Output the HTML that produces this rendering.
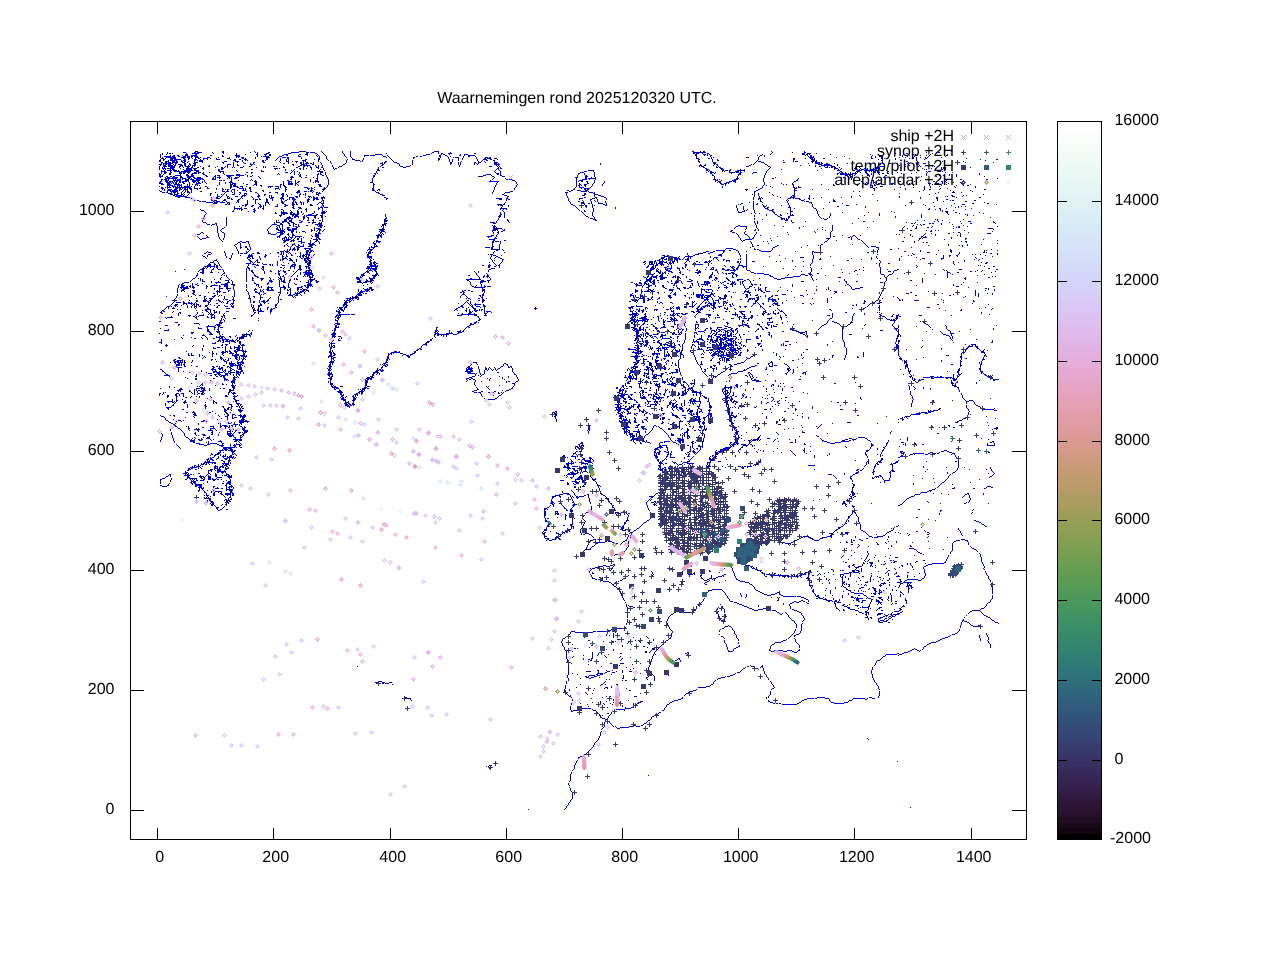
<!DOCTYPE html>
<html lang="nl"><head><meta charset="utf-8"><title>Waarnemingen rond 2025120320 UTC.</title>
<style>html,body{margin:0;padding:0;background:#fff}svg{display:block;will-change:transform}text{text-rendering:geometricPrecision}</style></head><body>
<svg width="1280" height="960" viewBox="0 0 1280 960">
<rect width="1280" height="960" fill="#fff"/>
<g shape-rendering="crispEdges">
<rect x="1057" y="833.39" width="45" height="6.21" fill="#000000"/>
<rect x="1057" y="827.78" width="45" height="6.21" fill="#11060f"/>
<rect x="1057" y="822.17" width="45" height="6.21" fill="#1a0919"/>
<rect x="1057" y="816.56" width="45" height="6.21" fill="#210d22"/>
<rect x="1057" y="810.95" width="45" height="6.21" fill="#26102a"/>
<rect x="1057" y="805.34" width="45" height="6.21" fill="#2b1332"/>
<rect x="1057" y="799.73" width="45" height="6.21" fill="#2e1639"/>
<rect x="1057" y="794.12" width="45" height="6.21" fill="#311a40"/>
<rect x="1057" y="788.52" width="45" height="6.21" fill="#331d47"/>
<rect x="1057" y="782.91" width="45" height="6.21" fill="#35214d"/>
<rect x="1057" y="777.30" width="45" height="6.21" fill="#362453"/>
<rect x="1057" y="771.69" width="45" height="6.21" fill="#372858"/>
<rect x="1057" y="766.08" width="45" height="6.21" fill="#382c5e"/>
<rect x="1057" y="760.47" width="45" height="6.21" fill="#383063"/>
<rect x="1057" y="754.86" width="45" height="6.21" fill="#383467"/>
<rect x="1057" y="749.25" width="45" height="6.21" fill="#37386b"/>
<rect x="1057" y="743.64" width="45" height="6.21" fill="#373c6f"/>
<rect x="1057" y="738.03" width="45" height="6.21" fill="#364072"/>
<rect x="1057" y="732.42" width="45" height="6.21" fill="#354575"/>
<rect x="1057" y="726.81" width="45" height="6.21" fill="#344977"/>
<rect x="1057" y="721.20" width="45" height="6.21" fill="#334d79"/>
<rect x="1057" y="715.59" width="45" height="6.21" fill="#32527b"/>
<rect x="1057" y="709.98" width="45" height="6.21" fill="#31567c"/>
<rect x="1057" y="704.38" width="45" height="6.21" fill="#305b7d"/>
<rect x="1057" y="698.77" width="45" height="6.21" fill="#2f5f7d"/>
<rect x="1057" y="693.16" width="45" height="6.21" fill="#2f637d"/>
<rect x="1057" y="687.55" width="45" height="6.21" fill="#2e677d"/>
<rect x="1057" y="681.94" width="45" height="6.21" fill="#2e6c7c"/>
<rect x="1057" y="676.33" width="45" height="6.21" fill="#2e707b"/>
<rect x="1057" y="670.72" width="45" height="6.21" fill="#2e747a"/>
<rect x="1057" y="665.11" width="45" height="6.21" fill="#2e7778"/>
<rect x="1057" y="659.50" width="45" height="6.21" fill="#2f7b76"/>
<rect x="1057" y="653.89" width="45" height="6.21" fill="#307e74"/>
<rect x="1057" y="648.28" width="45" height="6.21" fill="#318272"/>
<rect x="1057" y="642.67" width="45" height="6.21" fill="#338570"/>
<rect x="1057" y="637.06" width="45" height="6.21" fill="#34886d"/>
<rect x="1057" y="631.45" width="45" height="6.21" fill="#378b6b"/>
<rect x="1057" y="625.84" width="45" height="6.21" fill="#398d68"/>
<rect x="1057" y="620.23" width="45" height="6.21" fill="#3c9066"/>
<rect x="1057" y="614.62" width="45" height="6.21" fill="#3f9263"/>
<rect x="1057" y="609.02" width="45" height="6.21" fill="#439461"/>
<rect x="1057" y="603.41" width="45" height="6.21" fill="#46965e"/>
<rect x="1057" y="597.80" width="45" height="6.21" fill="#4a985c"/>
<rect x="1057" y="592.19" width="45" height="6.21" fill="#4f995a"/>
<rect x="1057" y="586.58" width="45" height="6.21" fill="#539a58"/>
<rect x="1057" y="580.97" width="45" height="6.21" fill="#589c56"/>
<rect x="1057" y="575.36" width="45" height="6.21" fill="#5d9c55"/>
<rect x="1057" y="569.75" width="45" height="6.21" fill="#629d53"/>
<rect x="1057" y="564.14" width="45" height="6.21" fill="#689e52"/>
<rect x="1057" y="558.53" width="45" height="6.21" fill="#6d9e52"/>
<rect x="1057" y="552.92" width="45" height="6.21" fill="#739e51"/>
<rect x="1057" y="547.31" width="45" height="6.21" fill="#799f51"/>
<rect x="1057" y="541.70" width="45" height="6.21" fill="#7f9f52"/>
<rect x="1057" y="536.09" width="45" height="6.21" fill="#859e52"/>
<rect x="1057" y="530.48" width="45" height="6.21" fill="#8b9e53"/>
<rect x="1057" y="524.88" width="45" height="6.21" fill="#919e55"/>
<rect x="1057" y="519.27" width="45" height="6.21" fill="#979e56"/>
<rect x="1057" y="513.66" width="45" height="6.21" fill="#9c9d59"/>
<rect x="1057" y="508.05" width="45" height="6.21" fill="#a29d5b"/>
<rect x="1057" y="502.44" width="45" height="6.21" fill="#a89d5e"/>
<rect x="1057" y="496.83" width="45" height="6.21" fill="#ad9c61"/>
<rect x="1057" y="491.22" width="45" height="6.21" fill="#b39c64"/>
<rect x="1057" y="485.61" width="45" height="6.21" fill="#b89b68"/>
<rect x="1057" y="480.00" width="45" height="6.21" fill="#bd9b6c"/>
<rect x="1057" y="474.39" width="45" height="6.21" fill="#c19b70"/>
<rect x="1057" y="468.78" width="45" height="6.21" fill="#c69a74"/>
<rect x="1057" y="463.17" width="45" height="6.21" fill="#ca9a79"/>
<rect x="1057" y="457.56" width="45" height="6.21" fill="#ce9a7e"/>
<rect x="1057" y="451.95" width="45" height="6.21" fill="#d29a83"/>
<rect x="1057" y="446.34" width="45" height="6.21" fill="#d59a88"/>
<rect x="1057" y="440.73" width="45" height="6.21" fill="#d89a8e"/>
<rect x="1057" y="435.12" width="45" height="6.21" fill="#db9b93"/>
<rect x="1057" y="429.52" width="45" height="6.21" fill="#dd9b99"/>
<rect x="1057" y="423.91" width="45" height="6.21" fill="#df9c9e"/>
<rect x="1057" y="418.30" width="45" height="6.21" fill="#e19ca4"/>
<rect x="1057" y="412.69" width="45" height="6.21" fill="#e39da9"/>
<rect x="1057" y="407.08" width="45" height="6.21" fill="#e49eaf"/>
<rect x="1057" y="401.47" width="45" height="6.21" fill="#e5a0b4"/>
<rect x="1057" y="395.86" width="45" height="6.21" fill="#e6a1ba"/>
<rect x="1057" y="390.25" width="45" height="6.21" fill="#e6a2bf"/>
<rect x="1057" y="384.64" width="45" height="6.21" fill="#e6a4c4"/>
<rect x="1057" y="379.03" width="45" height="6.21" fill="#e6a6c9"/>
<rect x="1057" y="373.42" width="45" height="6.21" fill="#e6a8ce"/>
<rect x="1057" y="367.81" width="45" height="6.21" fill="#e6aad2"/>
<rect x="1057" y="362.20" width="45" height="6.21" fill="#e5acd7"/>
<rect x="1057" y="356.59" width="45" height="6.21" fill="#e4aedb"/>
<rect x="1057" y="350.98" width="45" height="6.21" fill="#e3b0df"/>
<rect x="1057" y="345.38" width="45" height="6.21" fill="#e2b3e2"/>
<rect x="1057" y="339.77" width="45" height="6.21" fill="#e1b5e5"/>
<rect x="1057" y="334.16" width="45" height="6.21" fill="#e0b8e9"/>
<rect x="1057" y="328.55" width="45" height="6.21" fill="#dfbaeb"/>
<rect x="1057" y="322.94" width="45" height="6.21" fill="#ddbdee"/>
<rect x="1057" y="317.33" width="45" height="6.21" fill="#dcc0f0"/>
<rect x="1057" y="311.72" width="45" height="6.21" fill="#dbc3f2"/>
<rect x="1057" y="306.11" width="45" height="6.21" fill="#dac5f4"/>
<rect x="1057" y="300.50" width="45" height="6.21" fill="#d9c8f5"/>
<rect x="1057" y="294.89" width="45" height="6.21" fill="#d8cbf6"/>
<rect x="1057" y="289.28" width="45" height="6.21" fill="#d7cef7"/>
<rect x="1057" y="283.67" width="45" height="6.21" fill="#d6d1f8"/>
<rect x="1057" y="278.06" width="45" height="6.21" fill="#d5d3f9"/>
<rect x="1057" y="272.45" width="45" height="6.21" fill="#d4d6f9"/>
<rect x="1057" y="266.84" width="45" height="6.21" fill="#d4d9f9"/>
<rect x="1057" y="261.23" width="45" height="6.21" fill="#d4dbf9"/>
<rect x="1057" y="255.62" width="45" height="6.21" fill="#d4def9"/>
<rect x="1057" y="250.02" width="45" height="6.21" fill="#d4e0f9"/>
<rect x="1057" y="244.41" width="45" height="6.21" fill="#d4e3f8"/>
<rect x="1057" y="238.80" width="45" height="6.21" fill="#d5e5f8"/>
<rect x="1057" y="233.19" width="45" height="6.21" fill="#d5e7f7"/>
<rect x="1057" y="227.58" width="45" height="6.21" fill="#d6e9f7"/>
<rect x="1057" y="221.97" width="45" height="6.21" fill="#d7ebf6"/>
<rect x="1057" y="216.36" width="45" height="6.21" fill="#d9edf6"/>
<rect x="1057" y="210.75" width="45" height="6.21" fill="#daeef5"/>
<rect x="1057" y="205.14" width="45" height="6.21" fill="#dcf0f5"/>
<rect x="1057" y="199.53" width="45" height="6.21" fill="#def2f4"/>
<rect x="1057" y="193.92" width="45" height="6.21" fill="#dff3f4"/>
<rect x="1057" y="188.31" width="45" height="6.21" fill="#e2f4f4"/>
<rect x="1057" y="182.70" width="45" height="6.21" fill="#e4f6f4"/>
<rect x="1057" y="177.09" width="45" height="6.21" fill="#e6f7f4"/>
<rect x="1057" y="171.48" width="45" height="6.21" fill="#e8f8f4"/>
<rect x="1057" y="165.88" width="45" height="6.21" fill="#ebf9f5"/>
<rect x="1057" y="160.27" width="45" height="6.21" fill="#edfaf6"/>
<rect x="1057" y="154.66" width="45" height="6.21" fill="#f0fbf6"/>
<rect x="1057" y="149.05" width="45" height="6.21" fill="#f3fbf7"/>
<rect x="1057" y="143.44" width="45" height="6.21" fill="#f5fcf8"/>
<rect x="1057" y="137.83" width="45" height="6.21" fill="#f8fdfa"/>
<rect x="1057" y="132.22" width="45" height="6.21" fill="#fafefb"/>
<rect x="1057" y="126.61" width="45" height="6.21" fill="#fdfefd"/>
<rect x="1057" y="121.00" width="45" height="6.21" fill="#ffffff"/>
</g>
<g stroke="#000" stroke-width="1" fill="none" shape-rendering="crispEdges">
<rect x="1057.5" y="121.5" width="44" height="718"/>
<rect x="130.5" y="121.5" width="896" height="718"/>
<path d="M157.5 839v-11M157.5 122v12M273.5 839v-11M273.5 122v12M390.5 839v-11M390.5 122v12M506.5 839v-11M506.5 122v12M622.5 839v-11M622.5 122v12M738.5 839v-11M738.5 122v12M854.5 839v-11M854.5 122v12M971.5 839v-11M971.5 122v12M131 810.5h13M1026 810.5h-14M131 690.5h13M1026 690.5h-14M131 570.5h13M1026 570.5h-14M131 451.5h13M1026 451.5h-14M131 331.5h13M1026 331.5h-14M131 211.5h13M1026 211.5h-14M1058 760.5h9M1101 760.5h-9M1058 680.5h9M1101 680.5h-9M1058 600.5h9M1101 600.5h-9M1058 520.5h9M1101 520.5h-9M1058 441.5h9M1101 441.5h-9M1058 361.5h9M1101 361.5h-9M1058 281.5h9M1101 281.5h-9M1058 201.5h9M1101 201.5h-9"/>
</g>
<g font-family='"Liberation Sans", Arial, sans-serif' font-size="16" fill="#000">
<text x="577" y="103" text-anchor="middle">Waarnemingen rond 2025120320 UTC.</text>
<text x="159.7" y="861.5" text-anchor="middle">0</text>
<text x="275.7" y="861.5" text-anchor="middle">200</text>
<text x="392.7" y="861.5" text-anchor="middle">400</text>
<text x="508.7" y="861.5" text-anchor="middle">600</text>
<text x="624.7" y="861.5" text-anchor="middle">800</text>
<text x="740.7" y="861.5" text-anchor="middle">1000</text>
<text x="856.7" y="861.5" text-anchor="middle">1200</text>
<text x="973.7" y="861.5" text-anchor="middle">1400</text>
<text x="114.5" y="814.0" text-anchor="end">0</text>
<text x="114.5" y="694.0" text-anchor="end">200</text>
<text x="114.5" y="574.0" text-anchor="end">400</text>
<text x="114.5" y="455.0" text-anchor="end">600</text>
<text x="114.5" y="335.0" text-anchor="end">800</text>
<text x="114.5" y="215.0" text-anchor="end">1000</text>
<text x="1110.0" y="843.0">-2000</text>
<text x="1114.4" y="764.0">0</text>
<text x="1114.4" y="684.0">2000</text>
<text x="1114.4" y="604.0">4000</text>
<text x="1114.4" y="524.0">6000</text>
<text x="1114.4" y="445.0">8000</text>
<text x="1114.4" y="365.0">10000</text>
<text x="1114.4" y="285.0">12000</text>
<text x="1114.4" y="205.0">14000</text>
<text x="1114.4" y="125.0">16000</text>
</g>
<g font-family='"Liberation Sans", Arial, sans-serif' font-size="16" fill="#000" text-anchor="end">
<text x="954" y="141.0">ship +2H</text>
<text x="954" y="155.8">synop +2H</text>
<text x="954" y="170.6">temp/pilot +2H</text>
<text x="954" y="185.4">airep/amdar +2H</text>
</g>
<g fill="none" stroke="#0000cd" stroke-width="1" shape-rendering="crispEdges">
<path d=""/>
<path d="M0 0.5m195 151h3m24 0h2m30 0h1m44 0h7m15 0h1m20 0h1m7 0h1m83 0h5m253 0h2m6 0h1m2 0h2m66 0h1m32 0h1m146 0h1m-785 1h1m15 0h3m8 0h2m1 0h5m10 0h1m9 0h2m26 0h1m4 0h1m1 0h1m10 0h2m21 0h8m7 0h3m1 0h5m7 0h1m19 0h1m7 0h1m81 0h2m4 0h1m11 0h1m242 0h13m66 0h1m19 0h1m11 0h2m97 0h1m8 0h1m13 0h1m9 0h4m-778 1h1m4 0h1m1 0h2m1 0h1m13 0h1m5 0h7m14 0h1m9 0h1m12 0h1m20 0h1m8 0h3m19 0h3m15 0h2m7 0h2m6 0h1m19 0h1m6 0h1m35 0h1m44 0h1m6 0h1m2 0h2m5 0h4m22 0h2m217 0h2m1 0h3m3 0h1m4 0h2m62 0h1m30 0h3m2 0h4m5 0h1m77 0h2m10 0h2m24 0h1m-773 1h1m1 0h1m3 0h1m18 0h3m7 0h2m39 0h1m8 0h1m10 0h2m6 0h3m2 0h2m13 0h4m11 0h2m4 0h3m9 0h1m6 0h1m19 0h1m5 0h1m24 0h7m44 0h4m11 0h1m1 0h2m4 0h1m10 0h1m3 0h4m227 0h2m6 0h3m1 0h1m1 0h1m52 0h1m7 0h1m31 0h3m1 0h2m1 0h1m20 0h1m39 0h1m32 0h1m11 0h1m14 0h1m16 0h1m-788 1h1m9 0h1m2 0h2m2 0h2m3 0h1m2 0h3m3 0h6m13 0h2m10 0h1m12 0h5m17 0h1m7 0h1m3 0h2m11 0h2m2 0h2m10 0h1m8 0h1m8 0h1m1 0h1m6 0h1m18 0h1m5 0h1m13 0h5m1 0h5m7 0h1m4 0h1m35 0h3m13 0h2m4 0h2m12 0h2m3 0h1m3 0h7m220 0h2m7 0h1m2 0h1m2 0h2m45 0h1m2 0h2m2 0h1m40 0h1m1 0h1m2 0h2m60 0h1m29 0h1m6 0h1m10 0h1m5 0h1m2 0h1m16 0h2m-788 1h1m3 0h7m1 0h3m3 0h2m3 0h3m1 0h3m1 0h2m1 0h4m24 0h2m12 0h4m17 0h1m3 0h1m1 0h6m10 0h3m16 0h3m16 0h1m1 0h1m6 0h1m18 0h1m4 0h1m13 0h1m18 0h3m2 0h1m27 0h2m2 0h2m17 0h2m6 0h1m2 0h1m12 0h1m4 0h2m5 0h1m220 0h1m13 0h1m48 0h1m4 0h1m43 0h1m1 0h2m1 0h1m30 0h1m26 0h1m3 0h1m3 0h4m11 0h1m7 0h1m4 0h1m6 0h1m13 0h1m16 0h1m-786 1h1m1 0h1m3 0h10m5 0h5m1 0h3m1 0h1m3 0h4m1 0h1m6 0h3m8 0h1m10 0h1m6 0h1m1 0h1m2 0h3m11 0h1m10 0h4m8 0h1m3 0h4m1 0h2m12 0h1m17 0h1m6 0h1m19 0h1m4 0h1m34 0h1m2 0h1m23 0h2m25 0h1m7 0h1m4 0h1m1 0h4m4 0h1m12 0h1m8 0h3m1 0h2m205 0h1m14 0h1m1 0h1m32 0h3m9 0h1m50 0h5m22 0h1m34 0h1m3 0h1m5 0h2m16 0h1m5 0h1m7 0h1m2 0h1m3 0h1m4 0h1m1 0h1m13 0h1m-781 1h3m1 0h1m4 0h6m7 0h2m3 0h2m2 0h1m2 0h1m2 0h2m3 0h5m2 0h1m5 0h1m10 0h3m12 0h2m1 0h1m9 0h1m10 0h2m9 0h1m2 0h1m6 0h2m12 0h1m16 0h2m6 0h1m25 0h1m10 0h1m26 0h1m22 0h1m24 0h2m8 0h1m9 0h1m3 0h1m13 0h1m7 0h2m1 0h4m3 0h3m199 0h3m9 0h2m1 0h1m46 0h1m34 0h2m10 0h1m4 0h3m1 0h1m8 0h2m24 0h1m21 0h2m8 0h2m1 0h1m10 0h1m13 0h1m3 0h1m2 0h1m8 0h2m39 0h1m-807 1h1m2 0h2m5 0h3m1 0h7m3 0h2m2 0h1m5 0h3m3 0h1m2 0h1m3 0h1m8 0h4m10 0h1m3 0h2m3 0h2m3 0h3m19 0h2m8 0h1m3 0h1m5 0h1m1 0h1m16 0h2m7 0h1m3 0h2m7 0h1m19 0h1m4 0h3m8 0h1m27 0h1m46 0h2m9 0h1m2 0h1m5 0h1m3 0h1m14 0h1m5 0h4m3 0h2m5 0h1m200 0h2m12 0h1m4 0h1m40 0h1m34 0h2m16 0h4m63 0h1m3 0h1m12 0h1m20 0h1m7 0h1m55 0h1m15 0h2m-839 1h2m2 0h1m4 0h1m1 0h7m4 0h1m1 0h3m8 0h2m1 0h1m1 0h4m30 0h3m6 0h1m2 0h1m1 0h1m14 0h2m1 0h1m9 0h1m4 0h1m5 0h1m1 0h1m13 0h4m12 0h1m9 0h1m17 0h1m8 0h5m2 0h1m29 0h1m19 0h1m25 0h1m10 0h1m2 0h1m5 0h1m18 0h1m4 0h1m3 0h2m5 0h2m203 0h1m13 0h1m4 0h2m38 0h1m25 0h1m9 0h1m18 0h3m1 0h1m64 0h2m17 0h2m14 0h1m68 0h1m-827 1h2m4 0h4m3 0h3m1 0h2m3 0h2m1 0h2m2 0h1m5 0h1m4 0h4m21 0h3m8 0h4m3 0h1m19 0h2m15 0h1m6 0h3m3 0h1m2 0h3m5 0h1m1 0h1m12 0h1m11 0h1m15 0h1m13 0h1m1 0h1m22 0h2m6 0h1m18 0h1m36 0h1m2 0h1m8 0h1m16 0h1m2 0h1m2 0h1m9 0h1m203 0h2m12 0h1m43 0h1m1 0h3m32 0h1m1 0h3m13 0h3m1 0h2m65 0h1m23 0h2m20 0h1m13 0h1m20 0h1m-803 1h2m2 0h2m1 0h3m1 0h6m4 0h3m2 0h1m6 0h4m4 0h1m19 0h2m9 0h1m3 0h1m5 0h1m9 0h2m8 0h2m15 0h1m7 0h1m7 0h1m3 0h2m1 0h1m2 0h2m5 0h1m6 0h1m9 0h1m15 0h1m35 0h1m1 0h2m8 0h3m15 0h1m37 0h2m6 0h1m1 0h1m13 0h2m2 0h3m4 0h1m8 0h4m201 0h1m13 0h3m39 0h1m5 0h3m19 0h2m27 0h1m2 0h5m1 0h1m60 0h1m21 0h1m3 0h1m9 0h1m46 0h1m27 0h1m-833 1h1m1 0h10m2 0h2m7 0h2m3 0h1m3 0h3m27 0h1m9 0h1m10 0h2m4 0h1m2 0h1m29 0h2m3 0h1m11 0h2m1 0h1m1 0h4m1 0h2m1 0h1m7 0h1m9 0h1m13 0h1m34 0h3m1 0h1m12 0h2m13 0h1m37 0h2m6 0h1m1 0h1m13 0h1m1 0h1m1 0h1m15 0h3m1 0h1m101 0h1m112 0h3m38 0h1m9 0h1m43 0h1m6 0h5m1 0h2m3 0h2m6 0h1m12 0h1m22 0h1m2 0h1m6 0h1m1 0h2m4 0h3m16 0h1m8 0h2m5 0h3m8 0h1m-776 1h3m1 0h1m1 0h2m1 0h3m2 0h1m1 0h1m2 0h4m2 0h2m3 0h2m3 0h2m31 0h4m2 0h1m3 0h1m12 0h3m1 0h1m37 0h2m7 0h4m1 0h1m5 0h2m7 0h1m21 0h2m37 0h2m15 0h1m12 0h1m37 0h1m7 0h1m1 0h1m13 0h1m2 0h1m16 0h6m100 0h1m99 0h1m4 0h1m8 0h1m1 0h2m33 0h1m1 0h1m11 0h2m51 0h4m2 0h6m7 0h1m42 0h1m24 0h1m10 0h1m1 0h1m-759 1h1m2 0h3m2 0h5m1 0h2m4 0h3m1 0h2m2 0h1m1 0h1m1 0h4m13 0h1m17 0h1m5 0h1m3 0h2m12 0h1m41 0h1m6 0h2m1 0h7m5 0h1m2 0h1m3 0h1m9 0h1m9 0h1m38 0h2m16 0h1m10 0h1m48 0h1m36 0h1m1 0h1m200 0h3m2 0h2m7 0h1m3 0h1m31 0h2m16 0h1m32 0h1m8 0h1m5 0h1m5 0h11m5 0h1m61 0h1m9 0h1m3 0h1m5 0h1m13 0h1m-775 1h1m3 0h4m1 0h7m4 0h2m1 0h1m2 0h5m2 0h1m1 0h1m5 0h1m7 0h2m7 0h1m7 0h1m1 0h1m5 0h1m9 0h1m5 0h2m12 0h1m1 0h1m7 0h2m1 0h1m6 0h1m14 0h2m3 0h2m2 0h1m2 0h1m5 0h1m1 0h1m3 0h1m9 0h1m6 0h3m38 0h1m19 0h3m3 0h4m49 0h1m29 0h3m5 0h1m1 0h1m199 0h1m1 0h3m12 0h1m1 0h1m27 0h3m19 0h2m45 0h1m3 0h2m3 0h1m2 0h1m3 0h4m42 0h2m1 0h4m20 0h2m12 0h1m1 0h1m11 0h1m1 0h1m2 0h1m-779 1h1m2 0h1m1 0h1m5 0h5m4 0h1m3 0h1m3 0h2m2 0h2m4 0h2m4 0h1m11 0h1m5 0h2m1 0h1m2 0h1m4 0h1m1 0h1m5 0h3m13 0h1m6 0h1m1 0h1m17 0h2m11 0h2m5 0h1m6 0h2m4 0h3m2 0h2m10 0h1m4 0h1m39 0h1m3 0h2m19 0h3m92 0h1m1 0h1m202 0h2m11 0h2m1 0h2m49 0h1m54 0h3m1 0h1m1 0h2m1 0h2m3 0h1m15 0h1m3 0h1m10 0h1m5 0h2m1 0h1m20 0h1m40 0h1m1 0h1m1 0h1m24 0h1m-812 1h1m2 0h4m1 0h7m6 0h1m5 0h6m1 0h4m5 0h2m17 0h3m50 0h4m1 0h1m19 0h2m2 0h1m2 0h1m4 0h1m6 0h1m4 0h1m9 0h1m1 0h2m41 0h1m118 0h2m1 0h2m203 0h2m13 0h3m46 0h1m51 0h1m12 0h4m3 0h1m12 0h2m4 0h1m3 0h2m1 0h1m5 0h1m1 0h5m42 0h1m8 0h1m3 0h1m5 0h1m1 0h1m1 0h1m-787 1h1m3 0h1m1 0h1m4 0h1m1 0h3m8 0h1m2 0h6m2 0h2m7 0h1m14 0h2m1 0h2m28 0h2m22 0h1m9 0h1m8 0h1m5 0h1m2 0h1m7 0h1m8 0h1m2 0h1m10 0h1m42 0h2m117 0h1m1 0h1m207 0h3m12 0h3m6 0h1m9 0h1m3 0h1m23 0h1m12 0h1m52 0h1m3 0h1m1 0h1m14 0h1m3 0h1m1 0h3m1 0h3m2 0h7m47 0h1m1 0h1m8 0h1m5 0h2m2 0h1m-785 1h1m2 0h1m2 0h5m1 0h4m1 0h1m5 0h9m1 0h5m19 0h2m16 0h1m24 0h1m23 0h1m5 0h1m1 0h1m25 0h1m4 0h1m52 0h3m115 0h1m3 0h1m88 0h6m112 0h2m1 0h1m12 0h2m1 0h3m1 0h2m6 0h8m22 0h1m49 0h1m19 0h3m18 0h3m3 0h10m1 0h3m22 0h1m13 0h1m-754 1h5m4 0h1m3 0h6m1 0h10m5 0h3m20 0h5m13 0h1m23 0h3m28 0h1m1 0h1m2 0h1m19 0h6m53 0h1m117 0h1m5 0h1m83 0h3m6 0h1m114 0h1m1 0h2m10 0h1m1 0h1m4 0h1m5 0h4m1 0h1m3 0h1m21 0h1m73 0h2m14 0h4m5 0h2m2 0h1m1 0h1m1 0h3m1 0h2m8 0h2m37 0h1m1 0h3m6 0h4m1 0h1m-782 1h1m2 0h3m3 0h2m7 0h3m1 0h3m1 0h3m4 0h3m1 0h3m2 0h1m5 0h1m10 0h1m2 0h1m22 0h2m3 0h2m32 0h3m3 0h1m2 0h1m4 0h1m20 0h3m2 0h1m50 0h1m118 0h1m4 0h1m79 0h4m10 0h1m111 0h1m3 0h4m1 0h1m13 0h6m1 0h3m1 0h2m11 0h4m9 0h1m72 0h1m1 0h2m2 0h1m4 0h1m4 0h1m1 0h1m2 0h1m4 0h2m6 0h3m1 0h1m1 0h1m7 0h1m9 0h1m18 0h1m10 0h1m17 0h1m6 0h1m-794 1h1m1 0h1m2 0h2m3 0h2m8 0h3m1 0h2m3 0h1m3 0h5m1 0h1m3 0h2m19 0h1m27 0h1m26 0h1m11 0h1m3 0h1m4 0h1m18 0h1m1 0h1m4 0h1m48 0h2m1 0h1m118 0h3m1 0h1m77 0h2m4 0h1m9 0h1m115 0h2m2 0h1m16 0h1m7 0h2m11 0h1m12 0h1m71 0h2m1 0h4m1 0h2m1 0h1m1 0h1m1 0h5m9 0h2m3 0h1m1 0h1m4 0h1m3 0h2m3 0h2m12 0h1m9 0h1m14 0h1m52 0h1m-821 1h2m2 0h1m5 0h2m9 0h1m5 0h2m3 0h2m10 0h2m19 0h1m11 0h4m5 0h1m31 0h1m1 0h1m14 0h1m3 0h1m1 0h1m16 0h2m1 0h2m3 0h1m49 0h1m110 0h5m6 0h2m1 0h1m77 0h1m5 0h1m9 0h1m117 0h1m25 0h3m24 0h1m71 0h1m2 0h13m2 0h1m11 0h2m2 0h1m1 0h1m5 0h1m12 0h1m33 0h1m22 0h1m6 0h1m22 0h1m-821 1h2m1 0h1m12 0h6m5 0h3m2 0h3m11 0h2m8 0h1m1 0h3m6 0h8m2 0h8m3 0h1m4 0h1m46 0h2m5 0h1m10 0h1m4 0h2m2 0h1m46 0h2m108 0h3m5 0h1m8 0h2m75 0h1m7 0h2m7 0h1m117 0h2m24 0h1m25 0h1m80 0h3m1 0h2m1 0h1m1 0h1m7 0h1m4 0h3m15 0h2m39 0h1m12 0h1m3 0h2m4 0h1m6 0h1m-798 1h4m3 0h2m2 0h2m1 0h2m5 0h2m5 0h7m12 0h2m6 0h2m3 0h1m7 0h4m8 0h1m7 0h1m2 0h2m6 0h1m32 0h2m6 0h2m16 0h1m8 0h1m46 0h2m103 0h5m9 0h2m8 0h3m72 0h1m7 0h3m6 0h1m119 0h1m22 0h1m26 0h1m82 0h2m1 0h3m16 0h1m14 0h1m36 0h1m14 0h1m19 0h1m27 0h1m-825 1h1m4 0h1m1 0h3m2 0h6m2 0h3m4 0h4m2 0h2m2 0h4m12 0h1m1 0h1m1 0h4m7 0h2m1 0h1m3 0h4m20 0h1m30 0h4m7 0h1m3 0h2m6 0h1m3 0h1m9 0h1m45 0h1m120 0h1m80 0h3m7 0h2m4 0h1m3 0h1m118 0h1m22 0h1m26 0h1m10 0h1m65 0h1m1 0h2m5 0h1m1 0h1m19 0h1m7 0h1m2 0h2m-720 1h12m3 0h1m1 0h4m2 0h2m1 0h1m2 0h9m9 0h2m1 0h1m3 0h1m7 0h1m1 0h1m1 0h1m2 0h3m23 0h1m30 0h1m24 0h2m9 0h1m44 0h1m120 0h1m11 0h1m70 0h1m8 0h2m1 0h8m118 0h1m21 0h3m24 0h1m8 0h2m24 0h1m36 0h1m9 0h1m5 0h1m2 0h1m34 0h1m8 0h1m98 0h1m-837 1h2m1 0h3m1 0h1m4 0h1m1 0h1m1 0h4m1 0h1m2 0h4m1 0h4m2 0h5m1 0h2m8 0h4m15 0h1m19 0h1m38 0h2m18 0h1m6 0h1m10 0h1m43 0h1m119 0h1m13 0h6m64 0h1m5 0h5m2 0h1m5 0h1m117 0h3m1 0h1m1 0h1m14 0h4m25 0h1m33 0h1m53 0h1m16 0h1m9 0h1m67 0h1m1 0h2m10 0h2m24 0h2m-827 1h1m3 0h4m4 0h8m4 0h4m3 0h8m4 0h1m14 0h3m1 0h2m6 0h1m6 0h1m11 0h1m1 0h1m2 0h1m31 0h2m6 0h1m14 0h1m4 0h3m10 0h1m43 0h1m117 0h1m21 0h3m61 0h1m2 0h4m11 0h1m120 0h3m3 0h1m10 0h4m27 0h1m32 0h2m70 0h1m3 0h2m5 0h1m40 0h1m25 0h1m-787 1h2m3 0h3m1 0h4m1 0h1m1 0h2m1 0h2m1 0h5m1 0h1m3 0h4m1 0h2m3 0h1m1 0h1m25 0h2m22 0h3m26 0h1m4 0h4m3 0h1m2 0h2m10 0h1m4 0h4m9 0h1m43 0h1m116 0h10m16 0h1m60 0h1m1 0h1m2 0h2m3 0h2m6 0h1m9 0h1m110 0h1m2 0h3m8 0h3m1 0h3m27 0h1m30 0h2m65 0h1m6 0h1m4 0h1m25 0h2m13 0h1m18 0h2m6 0h2m1 0h2m-787 1h2m5 0h5m1 0h2m1 0h2m2 0h2m1 0h2m5 0h1m3 0h2m1 0h1m1 0h2m2 0h1m2 0h1m13 0h1m5 0h1m3 0h4m22 0h2m26 0h1m4 0h2m1 0h1m3 0h1m1 0h2m14 0h1m1 0h1m2 0h1m9 0h1m41 0h3m124 0h1m18 0h1m59 0h1m10 0h1m6 0h1m9 0h1m112 0h1m1 0h2m5 0h4m5 0h1m28 0h1m28 0h1m72 0h1m1 0h1m4 0h2m1 0h1m65 0h1m3 0h1m6 0h1m6 0h1m-802 1h4m4 0h3m1 0h1m1 0h1m1 0h2m1 0h1m4 0h2m4 0h1m6 0h5m5 0h1m12 0h1m5 0h1m4 0h1m1 0h4m7 0h1m11 0h2m26 0h1m4 0h5m2 0h2m31 0h1m44 0h1m122 0h1m19 0h1m59 0h1m2 0h1m7 0h2m4 0h1m9 0h1m116 0h2m2 0h3m1 0h1m35 0h1m16 0h1m10 0h1m72 0h1m2 0h1m4 0h1m4 0h2m11 0h3m15 0h1m18 0h3m5 0h3m3 0h1m5 0h1m12 0h1m-801 1h3m3 0h4m3 0h6m1 0h1m5 0h1m1 0h1m2 0h1m2 0h3m21 0h1m10 0h3m1 0h2m10 0h2m6 0h3m23 0h2m1 0h1m4 0h5m2 0h1m1 0h1m20 0h3m7 0h1m44 0h2m121 0h1m20 0h1m58 0h1m2 0h2m3 0h3m5 0h1m9 0h1m118 0h3m1 0h1m38 0h1m18 0h1m2 0h1m5 0h2m27 0h1m11 0h1m9 0h1m22 0h1m3 0h1m3 0h1m8 0h2m6 0h2m10 0h1m25 0h1m2 0h1m13 0h1m15 0h1m7 0h1m-804 1h6m1 0h1m2 0h5m5 0h1m1 0h1m5 0h1m1 0h1m1 0h1m17 0h1m12 0h2m1 0h3m17 0h1m2 0h1m3 0h2m18 0h1m2 0h2m10 0h1m2 0h1m20 0h2m6 0h1m45 0h1m121 0h1m20 0h1m59 0h1m1 0h2m1 0h1m2 0h2m6 0h1m9 0h1m122 0h1m37 0h1m2 0h1m26 0h1m39 0h2m22 0h1m12 0h3m1 0h2m28 0h1m8 0h1m15 0h1m11 0h1m14 0h1m6 0h1m3 0h2m-810 1h1m7 0h1m1 0h1m2 0h4m1 0h1m1 0h1m1 0h1m2 0h6m1 0h1m2 0h1m10 0h2m23 0h2m1 0h5m2 0h3m3 0h1m14 0h1m6 0h5m2 0h4m1 0h1m3 0h2m33 0h3m5 0h1m45 0h1m121 0h1m20 0h1m59 0h1m2 0h1m5 0h1m5 0h1m130 0h1m39 0h1m7 0h1m22 0h1m4 0h1m71 0h1m1 0h1m7 0h3m41 0h1m5 0h1m8 0h1m14 0h1m20 0h1m-815 1h2m2 0h1m1 0h4m2 0h1m1 0h16m3 0h1m5 0h1m6 0h1m22 0h2m5 0h2m3 0h1m6 0h2m17 0h1m1 0h1m7 0h1m1 0h1m4 0h2m17 0h4m3 0h1m2 0h1m9 0h1m1 0h1m46 0h1m120 0h1m20 0h1m59 0h1m3 0h5m6 0h1m131 0h1m33 0h1m5 0h1m9 0h1m20 0h2m1 0h1m1 0h3m69 0h3m3 0h1m23 0h1m12 0h1m10 0h1m5 0h1m24 0h1m19 0h1m-815 1h3m3 0h1m7 0h3m1 0h2m1 0h1m1 0h2m1 0h1m1 0h3m2 0h4m1 0h2m6 0h2m7 0h1m5 0h1m7 0h1m8 0h5m1 0h1m3 0h2m24 0h4m6 0h1m21 0h3m1 0h2m10 0h3m46 0h2m120 0h1m19 0h1m59 0h1m6 0h1m2 0h6m170 0h2m32 0h3m76 0h2m30 0h1m18 0h1m15 0h1m6 0h1m-786 1h1m1 0h1m3 0h4m2 0h3m2 0h3m2 0h4m2 0h2m5 0h1m18 0h1m5 0h2m1 0h1m1 0h2m3 0h3m8 0h1m1 0h1m4 0h1m24 0h1m3 0h1m5 0h2m21 0h1m2 0h1m2 0h1m7 0h3m47 0h2m4 0h2m114 0h1m19 0h1m58 0h2m9 0h2m1 0h2m156 0h3m10 0h2m34 0h1m17 0h1m15 0h1m45 0h1m19 0h1m10 0h1m18 0h1m4 0h2m8 0h1m44 0h2m-827 1h1m4 0h1m2 0h4m1 0h6m1 0h1m3 0h1m1 0h1m1 0h1m3 0h1m30 0h1m4 0h1m3 0h1m2 0h1m2 0h1m4 0h4m4 0h1m11 0h2m21 0h1m12 0h2m10 0h3m10 0h1m48 0h3m2 0h1m1 0h1m113 0h1m73 0h2m2 0h2m4 0h4m4 0h3m158 0h1m9 0h2m36 0h3m77 0h1m48 0h1m26 0h1m19 0h1m-811 1h2m5 0h1m2 0h8m4 0h1m2 0h1m1 0h2m2 0h1m8 0h2m20 0h3m1 0h3m2 0h1m2 0h1m11 0h1m3 0h2m11 0h1m21 0h1m11 0h3m4 0h3m1 0h1m1 0h2m1 0h1m8 0h1m52 0h1m117 0h1m16 0h3m56 0h2m10 0h6m1 0h1m165 0h2m38 0h1m58 0h1m5 0h1m59 0h1m33 0h1m18 0h1m-811 1h3m1 0h2m3 0h1m1 0h3m1 0h1m3 0h1m2 0h1m2 0h3m1 0h1m23 0h1m9 0h1m6 0h1m1 0h1m4 0h2m14 0h2m12 0h2m4 0h3m18 0h4m12 0h1m3 0h2m1 0h1m56 0h3m113 0h1m12 0h5m55 0h3m21 0h4m1 0h1m159 0h1m14 0h1m24 0h1m143 0h1m13 0h3m6 0h1m-794 1h4m2 0h1m2 0h2m2 0h1m1 0h1m5 0h1m20 0h2m12 0h1m9 0h1m5 0h1m3 0h3m10 0h1m19 0h1m4 0h2m13 0h1m2 0h1m4 0h1m10 0h1m1 0h3m57 0h2m112 0h1m11 0h1m61 0h1m17 0h2m7 0h2m159 0h1m3 0h1m35 0h1m104 0h1m35 0h1m-766 1h3m1 0h4m3 0h2m1 0h1m3 0h1m21 0h1m6 0h1m3 0h1m1 0h1m2 0h1m5 0h3m4 0h1m4 0h1m1 0h1m11 0h1m5 0h2m15 0h3m2 0h1m4 0h1m7 0h2m2 0h1m1 0h1m10 0h3m61 0h3m119 0h2m62 0h1m17 0h2m8 0h4m154 0h1m1 0h1m3 0h1m13 0h1m21 0h1m77 0h1m56 0h1m53 0h1m-811 1h2m1 0h6m1 0h1m3 0h1m22 0h1m6 0h1m4 0h1m3 0h1m15 0h4m12 0h2m4 0h1m4 0h1m1 0h1m10 0h2m3 0h1m11 0h1m5 0h1m12 0h1m63 0h3m119 0h3m59 0h1m15 0h3m9 0h1m3 0h3m153 0h1m3 0h1m14 0h1m18 0h3m14 0h1m49 0h1m91 0h2m10 0h1m2 0h1m-792 1h12m30 0h3m1 0h1m5 0h2m6 0h3m3 0h2m1 0h1m6 0h1m5 0h3m9 0h1m1 0h1m10 0h2m3 0h1m7 0h3m1 0h1m8 0h3m2 0h1m9 0h1m183 0h2m58 0h1m26 0h1m6 0h3m150 0h1m4 0h1m17 0h1m13 0h1m1 0h2m14 0h1m41 0h1m8 0h1m38 0h1m45 0h1m1 0h1m4 0h3m7 0h1m-785 1h2m5 0h5m21 0h1m4 0h2m2 0h1m6 0h1m1 0h1m11 0h1m10 0h1m5 0h1m10 0h1m1 0h3m7 0h2m6 0h5m2 0h2m7 0h1m3 0h1m1 0h1m1 0h2m1 0h2m3 0h4m59 0h2m121 0h1m59 0h1m16 0h2m9 0h2m7 0h2m147 0h1m5 0h1m1 0h1m18 0h1m9 0h5m14 0h1m11 0h1m19 0h1m9 0h1m47 0h1m20 0h1m15 0h2m18 0h1m22 0h2m-791 1h2m19 0h1m4 0h4m7 0h3m1 0h1m8 0h1m1 0h1m10 0h1m5 0h1m6 0h1m3 0h3m7 0h4m5 0h1m2 0h3m13 0h1m4 0h5m3 0h2m1 0h1m61 0h2m108 0h6m4 0h2m60 0h1m10 0h4m9 0h3m1 0h1m9 0h1m146 0h1m4 0h3m1 0h1m25 0h3m2 0h1m1 0h5m8 0h2m3 0h1m106 0h1m15 0h2m-746 1h1m18 0h1m12 0h2m5 0h2m5 0h2m13 0h1m1 0h3m1 0h2m5 0h2m4 0h1m8 0h1m1 0h1m3 0h1m1 0h1m2 0h4m11 0h3m3 0h2m1 0h3m3 0h1m63 0h1m112 0h3m4 0h1m1 0h2m58 0h1m10 0h1m10 0h2m5 0h1m8 0h1m146 0h1m4 0h1m1 0h1m26 0h1m11 0h2m3 0h1m4 0h1m23 0h1m103 0h1m8 0h2m-755 1h6m12 0h6m6 0h3m11 0h2m8 0h1m7 0h1m10 0h2m4 0h1m8 0h1m3 0h2m6 0h2m12 0h2m4 0h1m8 0h2m182 0h1m61 0h1m13 0h1m7 0h1m3 0h1m2 0h1m162 0h1m25 0h1m1 0h1m12 0h3m29 0h2m42 0h1m59 0h1m12 0h1m1 0h2m20 0h2m-777 1h2m1 0h4m7 0h2m1 0h4m2 0h1m3 0h1m10 0h2m8 0h1m7 0h1m10 0h2m13 0h2m1 0h1m8 0h1m1 0h1m4 0h1m6 0h2m12 0h1m1 0h1m245 0h1m8 0h2m3 0h1m7 0h1m3 0h1m1 0h1m7 0h1m147 0h1m6 0h2m25 0h1m16 0h1m1 0h3m24 0h3m107 0h1m21 0h2m-761 1h7m1 0h4m2 0h5m2 0h3m6 0h1m1 0h1m8 0h1m7 0h1m9 0h4m12 0h3m8 0h2m1 0h2m3 0h2m1 0h1m3 0h1m11 0h2m2 0h1m181 0h1m64 0h1m10 0h3m7 0h1m6 0h1m6 0h1m143 0h1m3 0h1m8 0h1m24 0h1m21 0h3m17 0h1m103 0h1m50 0h1m-772 1h4m10 0h1m1 0h1m17 0h1m7 0h1m2 0h1m6 0h1m2 0h1m13 0h2m8 0h2m2 0h1m4 0h1m1 0h1m14 0h1m2 0h3m180 0h1m65 0h1m11 0h3m3 0h2m1 0h1m6 0h5m3 0h1m134 0h2m10 0h1m3 0h1m30 0h1m22 0h1m30 0h1m111 0h1m17 0h2m13 0h2m-764 1h2m1 0h2m15 0h3m11 0h2m4 0h1m3 0h1m7 0h1m6 0h2m6 0h3m1 0h2m3 0h1m1 0h1m6 0h2m5 0h1m4 0h1m174 0h5m1 0h2m66 0h2m11 0h1m7 0h1m10 0h2m1 0h1m131 0h1m1 0h1m12 0h1m2 0h2m4 0h1m25 0h1m23 0h1m43 0h1m66 0h1m38 0h3m31 0h1m-755 1h2m1 0h2m5 0h2m6 0h1m2 0h1m1 0h1m11 0h1m7 0h3m4 0h2m16 0h3m9 0h2m174 0h1m1 0h3m5 0h1m64 0h2m10 0h2m5 0h1m1 0h1m10 0h2m129 0h1m16 0h1m9 0h1m2 0h1m14 0h1m7 0h1m22 0h1m33 0h3m56 0h1m19 0h1m25 0h1m-718 1h1m4 0h1m5 0h1m5 0h2m6 0h3m1 0h1m11 0h3m6 0h2m7 0h1m27 0h1m1 0h1m178 0h1m5 0h1m66 0h1m9 0h2m5 0h1m143 0h1m6 0h1m9 0h1m9 0h3m23 0h1m22 0h1m24 0h2m26 0h1m68 0h1m23 0h1m2 0h1m3 0h1m-732 1h1m6 0h1m16 0h1m1 0h1m2 0h1m28 0h2m4 0h3m17 0h1m1 0h3m1 0h4m173 0h1m74 0h1m9 0h1m5 0h1m22 0h1m120 0h1m6 0h1m9 0h1m10 0h1m2 0h2m19 0h3m22 0h1m51 0h1m89 0h1m2 0h1m-725 1h8m2 0h3m7 0h1m3 0h1m3 0h2m29 0h2m4 0h3m4 0h1m11 0h2m2 0h1m177 0h7m70 0h1m15 0h1m21 0h1m121 0h1m5 0h1m9 0h1m11 0h3m22 0h1m3 0h1m19 0h2m7 0h1m105 0h1m9 0h2m5 0h1m24 0h1m-772 1h1m33 0h1m2 0h1m1 0h1m1 0h2m10 0h2m8 0h1m17 0h2m15 0h1m6 0h2m11 0h1m3 0h1m177 0h1m2 0h1m2 0h1m71 0h1m14 0h1m143 0h1m5 0h1m3 0h1m5 0h1m13 0h2m3 0h2m16 0h1m25 0h1m111 0h2m5 0h1m4 0h1m24 0h1m-765 1h3m29 0h1m7 0h1m12 0h2m27 0h1m6 0h1m6 0h1m8 0h1m15 0h1m179 0h1m76 0h1m4 0h1m8 0h1m143 0h1m6 0h1m1 0h1m7 0h1m14 0h4m17 0h1m25 0h1m123 0h1m1 0h1m10 0h1m-750 1h1m27 0h2m14 0h1m4 0h2m26 0h1m1 0h1m7 0h1m5 0h2m2 0h1m4 0h1m7 0h1m7 0h3m1 0h1m176 0h1m77 0h1m2 0h2m7 0h1m144 0h1m3 0h3m9 0h1m17 0h2m16 0h3m24 0h1m73 0h1m50 0h1m2 0h3m-743 1h1m48 0h1m20 0h1m5 0h6m3 0h3m4 0h2m2 0h1m12 0h1m6 0h5m174 0h1m3 0h1m77 0h1m9 0h1m145 0h4m12 0h1m18 0h2m15 0h1m26 0h1m24 0h1m25 0h1m25 0h1m51 0h2m7 0h2m22 0h1m-774 1h1m68 0h2m4 0h7m2 0h2m1 0h2m2 0h2m4 0h1m8 0h2m7 0h4m175 0h1m3 0h1m78 0h1m8 0h1m158 0h1m3 0h1m3 0h1m14 0h1m12 0h1m2 0h1m26 0h1m12 0h1m48 0h1m67 0h1m11 0h1m23 0h1m-779 1h1m75 0h1m1 0h2m5 0h9m3 0h1m5 0h4m4 0h2m4 0h1m62 0h1m114 0h2m2 0h1m79 0h1m7 0h1m173 0h1m8 0h2m3 0h1m9 0h1m1 0h1m25 0h1m11 0h1m48 0h1m41 0h1m26 0h1m16 0h1m1 0h1m-764 1h1m74 0h3m10 0h2m1 0h3m6 0h1m1 0h11m3 0h3m62 0h1m113 0h2m3 0h1m80 0h1m6 0h1m161 0h1m11 0h1m10 0h1m2 0h2m8 0h4m24 0h1m11 0h1m33 0h1m14 0h1m41 0h1m45 0h1m5 0h1m-770 1h1m75 0h1m8 0h1m2 0h1m1 0h5m4 0h2m1 0h1m7 0h2m5 0h2m2 0h1m59 0h1m112 0h3m3 0h1m81 0h2m5 0h1m160 0h1m23 0h2m8 0h2m29 0h1m9 0h1m65 0h1m25 0h1m-719 1h1m22 0h1m60 0h4m3 0h2m2 0h1m4 0h2m2 0h2m5 0h2m5 0h2m63 0h1m112 0h1m4 0h1m83 0h1m5 0h1m185 0h2m6 0h2m30 0h1m8 0h1m65 0h1m25 0h1m68 0h1m-788 1h1m22 0h1m59 0h7m10 0h2m3 0h1m6 0h1m2 0h1m3 0h1m62 0h2m111 0h1m91 0h3m1 0h1m159 0h1m26 0h4m1 0h1m1 0h1m32 0h1m1 0h1m3 0h1m30 0h1m-657 1h1m23 0h1m57 0h3m1 0h1m2 0h1m11 0h1m4 0h1m4 0h1m8 0h1m61 0h2m112 0h1m8 0h1m85 0h3m158 0h1m7 0h1m18 0h2m1 0h1m1 0h2m36 0h3m108 0h1m1 0h1m25 0h1m-762 1h1m23 0h1m49 0h1m1 0h1m5 0h3m2 0h3m7 0h2m6 0h2m3 0h2m5 0h2m1 0h1m61 0h4m109 0h1m9 0h2m86 0h2m188 0h3m3 0h1m125 0h1m6 0h1m12 0h1m4 0h1m-741 1h1m23 0h1m49 0h1m5 0h5m2 0h3m9 0h2m10 0h1m8 0h1m61 0h3m109 0h1m11 0h1m245 0h1m2 0h1m33 0h1m13 0h1m57 0h2m8 0h1m60 0h1m3 0h1m21 0h1m7 0h3m22 0h1m-791 1h3m20 0h1m47 0h1m1 0h4m2 0h2m3 0h2m2 0h3m5 0h3m6 0h2m2 0h4m3 0h1m1 0h1m62 0h1m105 0h5m1 0h1m12 0h1m244 0h1m2 0h1m27 0h1m6 0h2m112 0h1m8 0h1m33 0h1m43 0h2m-789 1h1m8 0h2m9 0h1m47 0h1m5 0h2m6 0h2m3 0h2m17 0h1m5 0h4m62 0h3m106 0h3m259 0h1m1 0h1m94 0h1m58 0h2m1 0h1m14 0h2m1 0h2m7 0h1m19 0h1m8 0h2m23 0h1m-789 1h3m2 0h3m1 0h1m9 0h1m45 0h5m3 0h3m6 0h1m3 0h1m1 0h2m1 0h1m16 0h7m60 0h4m369 0h1m161 0h1m2 0h1m2 0h2m16 0h1m10 0h1m-742 1h1m4 0h1m9 0h1m44 0h1m5 0h3m2 0h1m6 0h2m2 0h1m4 0h1m7 0h2m9 0h1m1 0h4m59 0h2m1 0h1m106 0h1m1 0h1m243 0h2m16 0h1m17 0h1m57 0h1m80 0h1m7 0h1m41 0h1m-747 1h1m52 0h1m5 0h1m2 0h1m2 0h1m10 0h1m1 0h2m1 0h2m18 0h4m2 0h1m56 0h1m1 0h1m109 0h3m240 0h2m2 0h7m9 0h1m26 0h1m19 0h1m28 0h1m71 0h1m7 0h1m3 0h1m15 0h1m20 0h1m4 0h2m7 0h1m29 0h1m-781 1h1m6 0h1m44 0h1m7 0h1m1 0h1m2 0h1m4 0h3m6 0h2m16 0h1m5 0h2m61 0h1m109 0h2m1 0h1m238 0h1m10 0h1m9 0h1m42 0h1m22 0h1m9 0h1m34 0h1m35 0h1m12 0h1m10 0h2m2 0h1m24 0h1m1 0h2m-743 1h1m4 0h2m44 0h1m7 0h2m2 0h1m1 0h1m4 0h2m3 0h5m17 0h1m1 0h4m62 0h2m109 0h9m232 0h1m11 0h1m10 0h1m41 0h1m32 0h1m69 0h1m4 0h1m7 0h2m36 0h1m34 0h5m-776 1h1m3 0h1m45 0h1m8 0h3m1 0h1m1 0h1m1 0h1m2 0h4m1 0h5m14 0h1m2 0h1m3 0h3m3 0h1m54 0h6m108 0h5m4 0h1m1 0h1m240 0h1m9 0h1m2 0h1m58 0h1m4 0h1m9 0h1m160 0h1m-777 1h1m2 0h1m46 0h1m10 0h6m4 0h6m17 0h2m1 0h1m2 0h1m1 0h2m2 0h1m56 0h4m108 0h4m1 0h1m5 0h2m226 0h2m21 0h2m2 0h1m66 0h1m6 0h1m66 0h1m10 0h2m14 0h1m4 0h1m3 0h1m2 0h1m25 0h1m-748 1h1m3 0h1m46 0h1m11 0h5m6 0h3m2 0h1m5 0h3m6 0h1m4 0h1m2 0h1m2 0h1m56 0h1m1 0h4m107 0h1m5 0h1m2 0h2m227 0h2m13 0h1m68 0h1m16 0h1m98 0h2m60 0h1m-792 1h2m14 0h1m4 0h2m44 0h1m8 0h6m1 0h1m6 0h2m3 0h1m2 0h1m5 0h1m12 0h2m60 0h2m3 0h1m107 0h1m3 0h2m233 0h3m9 0h1m11 0h1m30 0h1m27 0h1m14 0h1m122 0h1m4 0h2m8 0h1m-769 1h1m2 0h1m14 0h1m5 0h1m43 0h3m5 0h1m3 0h4m4 0h1m3 0h1m22 0h2m1 0h3m59 0h1m1 0h1m110 0h1m4 0h1m237 0h1m7 0h1m11 0h1m73 0h1m94 0h1m5 0h1m16 0h2m10 0h1m26 0h4m-794 1h3m18 0h1m5 0h1m46 0h5m4 0h3m4 0h2m3 0h2m21 0h4m59 0h2m1 0h1m1 0h1m113 0h1m239 0h1m7 0h2m8 0h1m32 0h1m41 0h1m65 0h1m2 0h1m10 0h1m13 0h1m10 0h1m24 0h1m-765 1h1m9 0h1m11 0h1m5 0h1m54 0h2m7 0h1m3 0h3m16 0h1m3 0h4m57 0h6m109 0h3m2 0h1m241 0h1m8 0h1m6 0h1m5 0h1m69 0h1m11 0h1m10 0h2m5 0h1m49 0h1m12 0h1m11 0h1m21 0h1m2 0h1m-764 1h1m9 0h1m10 0h1m5 0h1m52 0h3m5 0h1m3 0h1m2 0h1m2 0h7m10 0h1m2 0h4m58 0h2m1 0h2m105 0h5m4 0h1m241 0h1m9 0h1m5 0h1m22 0h1m52 0h1m2 0h2m15 0h1m1 0h1m2 0h1m56 0h1m8 0h2m2 0h1m34 0h1m-763 1h1m7 0h3m10 0h1m4 0h1m52 0h1m1 0h1m4 0h3m1 0h1m1 0h3m2 0h1m3 0h1m3 0h1m12 0h3m58 0h2m2 0h1m106 0h1m6 0h1m243 0h1m9 0h1m3 0h1m76 0h1m17 0h2m1 0h1m4 0h1m47 0h1m16 0h1m1 0h4m24 0h1m-753 1h1m2 0h4m13 0h1m3 0h1m58 0h3m1 0h1m1 0h1m2 0h1m2 0h1m2 0h2m2 0h1m9 0h1m4 0h1m1 0h2m57 0h1m116 0h3m243 0h1m8 0h1m2 0h2m16 0h1m55 0h4m21 0h1m5 0h1m61 0h2m1 0h1m28 0h1m13 0h2m-767 1h2m18 0h1m2 0h1m58 0h1m1 0h1m1 0h5m2 0h1m3 0h2m2 0h1m11 0h5m1 0h2m168 0h6m245 0h1m4 0h7m76 0h1m22 0h1m6 0h2m59 0h1m24 0h1m20 0h1m17 0h1m-763 1h1m61 0h6m2 0h4m6 0h1m8 0h1m5 0h2m58 0h2m115 0h2m9 0h2m235 0h1m1 0h2m26 0h1m55 0h1m8 0h1m24 0h1m56 0h1m78 0h1m-776 1h1m17 0h2m4 0h3m35 0h2m4 0h2m1 0h1m4 0h4m8 0h1m4 0h2m1 0h1m55 0h1m1 0h5m111 0h2m1 0h4m1 0h1m241 0h1m7 0h1m12 0h1m3 0h1m57 0h2m35 0h1m39 0h2m10 0h1m46 0h1m3 0h2m-729 1h2m2 0h4m2 0h1m34 0h2m16 0h4m5 0h1m3 0h1m4 0h1m53 0h1m2 0h1m1 0h2m112 0h2m6 0h1m250 0h1m72 0h1m38 0h1m15 0h1m34 0h1m8 0h1m2 0h2m38 0h1m-730 1h1m2 0h1m7 0h1m38 0h1m6 0h1m6 0h1m6 0h3m1 0h2m5 0h1m53 0h3m116 0h1m7 0h1m250 0h1m16 0h1m95 0h1m132 0h1m-763 1h2m3 0h1m8 0h1m36 0h1m5 0h3m3 0h1m4 0h1m5 0h6m59 0h2m116 0h1m6 0h1m252 0h1m68 0h2m29 0h1m12 0h1m82 0h1m18 0h1m13 0h1m-748 1h1m5 0h1m8 0h1m34 0h1m2 0h1m4 0h1m2 0h1m2 0h2m3 0h1m5 0h4m2 0h1m58 0h1m1 0h1m115 0h1m6 0h1m252 0h1m4 0h2m18 0h2m28 0h1m10 0h1m1 0h1m45 0h1m61 0h1m19 0h1m10 0h1m2 0h1m4 0h1m-733 1h1m4 0h1m4 0h2m2 0h1m34 0h1m3 0h1m2 0h1m4 0h3m1 0h4m4 0h4m59 0h1m2 0h4m114 0h2m5 0h1m252 0h2m21 0h2m43 0h1m46 0h1m3 0h5m86 0h1m-727 1h1m3 0h2m3 0h2m3 0h1m39 0h1m3 0h1m2 0h3m11 0h2m56 0h1m1 0h4m110 0h5m1 0h2m6 0h1m250 0h1m22 0h2m26 0h1m18 0h1m47 0h1m7 0h3m32 0h1m-676 1h1m3 0h1m6 0h1m2 0h1m39 0h1m2 0h2m2 0h2m5 0h7m58 0h1m3 0h1m117 0h2m6 0h1m226 0h7m21 0h1m17 0h1m47 0h1m57 0h1m19 0h1m-662 1h1m9 0h2m1 0h1m36 0h1m1 0h2m1 0h4m1 0h2m6 0h1m3 0h2m57 0h5m118 0h9m2 0h1m222 0h1m7 0h3m18 0h2m1 0h2m13 0h1m47 0h1m57 0h1m11 0h2m58 0h1m40 0h1m-755 1h1m11 0h1m34 0h1m2 0h1m1 0h1m2 0h1m1 0h1m2 0h1m8 0h3m1 0h3m54 0h1m2 0h2m124 0h2m5 0h1m212 0h9m4 0h2m5 0h2m21 0h2m10 0h1m48 0h1m56 0h1m42 0h1m17 0h1m11 0h2m32 0h1m1 0h1m10 0h1m-791 1h1m16 0h1m13 0h1m7 0h1m1 0h1m31 0h4m1 0h4m17 0h3m1 0h2m1 0h1m55 0h2m123 0h1m211 0h3m4 0h2m8 0h2m13 0h1m7 0h1m14 0h10m24 0h1m16 0h2m6 0h1m56 0h1m26 0h2m14 0h1m29 0h2m32 0h1m-779 1h1m1 0h3m13 0h1m13 0h1m7 0h2m9 0h2m18 0h2m2 0h1m1 0h1m2 0h2m1 0h1m10 0h1m5 0h2m1 0h2m55 0h1m1 0h3m1 0h1m120 0h1m10 0h1m198 0h3m4 0h3m10 0h1m14 0h1m73 0h1m1 0h7m46 0h2m8 0h1m49 0h3m21 0h1m7 0h1m23 0h2m1 0h1m-783 1h2m5 0h1m13 0h1m6 0h1m5 0h1m1 0h3m1 0h3m5 0h2m3 0h3m10 0h1m7 0h1m2 0h1m1 0h1m4 0h1m1 0h1m4 0h1m4 0h1m5 0h2m1 0h1m58 0h3m122 0h1m193 0h1m10 0h5m5 0h2m12 0h1m16 0h1m72 0h1m99 0h1m46 0h1m30 0h2m5 0h1m-790 1h3m14 0h1m6 0h1m16 0h1m1 0h1m13 0h1m14 0h2m1 0h1m2 0h1m4 0h1m8 0h1m2 0h1m1 0h5m4 0h1m52 0h2m119 0h1m1 0h3m194 0h1m7 0h4m20 0h3m17 0h1m6 0h1m65 0h1m64 0h1m35 0h2m21 0h1m21 0h1m13 0h1m2 0h1m4 0h1m16 0h1m-796 1h1m4 0h1m17 0h1m5 0h1m8 0h1m7 0h5m12 0h2m15 0h1m3 0h1m4 0h2m7 0h1m1 0h3m1 0h1m1 0h2m1 0h1m1 0h1m53 0h2m122 0h1m1 0h3m5 0h1m160 0h3m2 0h2m19 0h1m4 0h2m23 0h4m18 0h1m5 0h1m32 0h1m33 0h1m94 0h1m2 0h1m31 0h1m5 0h2m5 0h2m27 0h1m-783 1h2m2 0h1m18 0h1m4 0h1m16 0h5m6 0h1m4 0h2m12 0h1m3 0h2m2 0h2m9 0h1m1 0h2m1 0h2m1 0h2m1 0h1m1 0h1m1 0h1m54 0h5m119 0h1m4 0h2m166 0h7m8 0h1m5 0h8m17 0h1m10 0h1m18 0h1m5 0h1m22 0h1m43 0h1m16 0h1m45 0h1m24 0h1m41 0h1m5 0h1m7 0h1m34 0h1m-788 1h1m20 0h1m4 0h1m15 0h3m2 0h1m6 0h1m5 0h1m16 0h1m2 0h1m14 0h1m2 0h1m2 0h4m1 0h1m55 0h5m118 0h1m4 0h1m2 0h2m161 0h4m6 0h6m1 0h1m5 0h1m3 0h1m1 0h1m19 0h1m3 0h4m28 0h1m53 0h4m9 0h1m57 0h1m4 0h1m39 0h1m26 0h1m31 0h1m-770 1h1m22 0h2m16 0h1m2 0h1m1 0h2m6 0h1m21 0h5m2 0h2m10 0h2m1 0h8m57 0h1m1 0h1m118 0h1m3 0h1m5 0h2m159 0h3m2 0h1m4 0h1m2 0h6m3 0h1m3 0h2m1 0h1m22 0h1m2 0h1m23 0h1m5 0h1m38 0h1m27 0h1m6 0h1m30 0h1m19 0h1m5 0h1m21 0h1m22 0h3m16 0h3m32 0h1m5 0h1m-767 1h1m13 0h1m17 0h2m7 0h1m2 0h1m19 0h1m1 0h2m3 0h1m2 0h2m4 0h1m7 0h2m1 0h2m61 0h1m2 0h1m117 0h1m10 0h2m155 0h2m1 0h1m1 0h3m3 0h2m2 0h4m1 0h2m1 0h1m2 0h4m24 0h1m3 0h1m5 0h2m13 0h1m1 0h1m5 0h1m65 0h1m6 0h2m40 0h1m9 0h1m27 0h1m20 0h1m20 0h1m32 0h1m4 0h1m-766 1h3m32 0h2m5 0h2m22 0h1m1 0h1m6 0h4m3 0h1m7 0h3m1 0h3m59 0h2m120 0h1m1 0h1m7 0h1m152 0h1m1 0h3m2 0h1m7 0h1m3 0h1m1 0h2m9 0h2m20 0h1m1 0h1m6 0h1m4 0h1m2 0h4m16 0h1m45 0h1m19 0h1m34 0h2m30 0h1m19 0h1m64 0h1m13 0h1m-766 1h1m3 0h1m32 0h2m3 0h1m1 0h1m19 0h1m14 0h1m3 0h1m8 0h3m1 0h2m58 0h2m3 0h1m117 0h1m9 0h1m141 0h2m3 0h4m1 0h2m3 0h5m2 0h1m3 0h1m1 0h3m2 0h1m8 0h1m2 0h1m6 0h2m7 0h2m1 0h3m15 0h1m2 0h1m7 0h2m1 0h1m5 0h1m5 0h3m21 0h1m3 0h1m11 0h1m10 0h1m8 0h1m67 0h1m72 0h1m10 0h1m-755 1h4m4 0h1m31 0h1m1 0h1m1 0h1m2 0h3m17 0h1m5 0h1m9 0h2m10 0h2m1 0h3m59 0h2m1 0h3m113 0h1m3 0h1m7 0h1m141 0h2m4 0h4m1 0h1m1 0h1m2 0h4m1 0h3m2 0h2m1 0h2m3 0h1m7 0h1m13 0h1m4 0h4m1 0h1m27 0h2m1 0h1m5 0h1m65 0h1m67 0h1m72 0h1m4 0h1m22 0h1m4 0h2m-779 1h1m4 0h1m3 0h1m27 0h5m2 0h1m8 0h1m14 0h1m10 0h1m5 0h1m12 0h4m59 0h2m1 0h2m1 0h2m116 0h1m5 0h1m144 0h1m3 0h1m1 0h2m1 0h1m1 0h1m1 0h5m4 0h1m1 0h3m1 0h1m10 0h1m8 0h3m12 0h1m2 0h1m27 0h1m6 0h1m64 0h1m64 0h1m2 0h1m8 0h2m63 0h1m31 0h2m-779 1h3m3 0h2m3 0h1m28 0h1m3 0h4m1 0h1m5 0h4m2 0h2m1 0h1m4 0h1m3 0h1m10 0h4m11 0h3m59 0h3m2 0h2m113 0h1m5 0h1m3 0h1m144 0h1m4 0h5m2 0h2m2 0h4m4 0h1m1 0h1m14 0h2m10 0h6m5 0h1m30 0h1m6 0h1m63 0h1m68 0h1m74 0h1m-748 1h4m3 0h1m1 0h2m1 0h1m28 0h1m7 0h3m11 0h1m1 0h1m4 0h1m4 0h3m6 0h2m1 0h2m3 0h2m7 0h3m59 0h6m1 0h1m104 0h2m4 0h3m5 0h1m1 0h2m148 0h1m4 0h1m1 0h3m3 0h1m1 0h1m7 0h1m13 0h2m7 0h1m13 0h1m15 0h1m13 0h5m3 0h1m63 0h1m22 0h1m45 0h1m36 0h1m61 0h1m1 0h1m-777 1h11m1 0h2m2 0h1m26 0h1m6 0h1m7 0h2m26 0h5m4 0h2m4 0h4m58 0h11m110 0h2m4 0h2m3 0h1m147 0h2m3 0h2m1 0h1m11 0h2m2 0h1m13 0h1m39 0h1m4 0h1m1 0h2m4 0h1m3 0h5m16 0h1m31 0h1m7 0h1m75 0h1m37 0h1m66 0h1m8 0h2m-792 1h1m1 0h1m1 0h1m2 0h1m3 0h1m1 0h2m3 0h1m25 0h2m6 0h1m6 0h2m16 0h2m2 0h1m5 0h1m3 0h1m4 0h2m5 0h1m1 0h3m56 0h3m1 0h1m3 0h2m111 0h2m9 0h1m146 0h2m3 0h3m1 0h1m8 0h3m4 0h1m5 0h1m4 0h1m2 0h1m20 0h1m5 0h2m17 0h2m1 0h1m2 0h2m4 0h1m2 0h1m63 0h1m52 0h1m16 0h1m35 0h1m-715 1h3m1 0h1m6 0h1m3 0h1m28 0h1m1 0h2m11 0h1m1 0h1m19 0h1m6 0h1m3 0h1m4 0h2m5 0h1m1 0h2m56 0h11m114 0h4m155 0h5m2 0h1m7 0h1m1 0h5m5 0h3m2 0h2m27 0h1m1 0h1m8 0h2m8 0h2m2 0h2m8 0h1m36 0h1m27 0h1m9 0h1m58 0h1m107 0h2m-806 1h1m15 0h4m8 0h2m4 0h3m1 0h1m23 0h1m2 0h1m12 0h2m34 0h4m7 0h2m1 0h1m55 0h1m1 0h1m1 0h5m112 0h2m159 0h4m2 0h1m1 0h1m6 0h3m2 0h1m8 0h1m7 0h1m9 0h1m7 0h1m4 0h4m2 0h1m5 0h3m2 0h3m3 0h2m1 0h2m8 0h1m46 0h1m17 0h1m29 0h1m17 0h1m20 0h1m6 0h1m9 0h2m44 0h1m15 0h3m34 0h2m-799 1h1m2 0h2m7 0h1m11 0h1m22 0h1m2 0h1m1 0h2m10 0h1m6 0h1m7 0h1m1 0h1m2 0h1m4 0h2m7 0h1m2 0h1m5 0h6m55 0h1m1 0h3m2 0h2m112 0h1m160 0h1m1 0h1m4 0h2m2 0h1m5 0h4m9 0h1m9 0h1m6 0h2m1 0h1m15 0h2m8 0h4m1 0h6m11 0h3m61 0h1m43 0h2m6 0h1m16 0h1m13 0h3m47 0h1m1 0h1m30 0h1m4 0h1m-808 1h1m22 0h1m3 0h2m7 0h1m11 0h1m22 0h1m4 0h2m11 0h1m5 0h2m6 0h2m3 0h3m7 0h1m2 0h1m8 0h2m1 0h2m1 0h1m54 0h3m3 0h1m2 0h2m97 0h1m3 0h1m9 0h1m161 0h1m5 0h3m1 0h1m4 0h1m2 0h4m8 0h1m17 0h3m16 0h1m16 0h1m15 0h1m50 0h1m9 0h1m42 0h1m25 0h1m7 0h3m2 0h1m53 0h1m22 0h2m3 0h1m5 0h1m13 0h1m-796 1h4m6 0h3m5 0h1m5 0h1m21 0h1m5 0h2m10 0h1m13 0h1m5 0h2m9 0h1m4 0h1m2 0h9m53 0h1m1 0h2m7 0h1m98 0h1m2 0h1m169 0h1m9 0h3m1 0h1m1 0h2m5 0h2m6 0h2m14 0h6m11 0h1m4 0h1m4 0h1m8 0h3m17 0h3m56 0h1m31 0h1m37 0h1m12 0h1m53 0h3m7 0h2m32 0h1m-795 1h1m4 0h2m19 0h2m21 0h1m6 0h1m10 0h1m10 0h1m2 0h2m6 0h1m7 0h1m5 0h1m4 0h8m50 0h2m4 0h1m6 0h2m98 0h1m9 0h1m161 0h1m5 0h1m4 0h2m1 0h2m1 0h1m2 0h1m11 0h1m16 0h2m13 0h1m5 0h1m4 0h1m1 0h2m1 0h3m1 0h3m19 0h2m1 0h7m44 0h3m6 0h2m30 0h1m30 0h1m11 0h1m11 0h1m19 0h1m22 0h1m2 0h1m-754 1h1m24 0h1m23 0h1m7 0h1m23 0h2m5 0h1m7 0h1m6 0h1m3 0h9m48 0h3m11 0h3m98 0h1m10 0h1m160 0h2m1 0h3m7 0h2m19 0h2m27 0h2m13 0h1m6 0h1m1 0h2m27 0h5m19 0h1m12 0h4m4 0h3m45 0h1m23 0h3m5 0h3m43 0h1m11 0h1m4 0h1m31 0h1m-789 1h2m23 0h1m2 0h1m1 0h1m19 0h1m7 0h2m23 0h1m3 0h1m8 0h1m4 0h1m6 0h1m2 0h3m2 0h2m47 0h4m7 0h5m1 0h1m89 0h2m7 0h1m6 0h1m2 0h2m159 0h1m3 0h1m3 0h2m2 0h3m4 0h1m7 0h1m23 0h1m10 0h2m2 0h1m17 0h1m3 0h2m31 0h2m16 0h1m12 0h1m4 0h3m2 0h1m1 0h1m12 0h1m58 0h1m3 0h1m58 0h1m29 0h1m-782 1h1m29 0h1m19 0h1m8 0h3m22 0h1m1 0h2m7 0h1m5 0h1m5 0h1m1 0h1m1 0h1m1 0h2m1 0h1m47 0h1m1 0h1m10 0h3m102 0h1m4 0h2m1 0h3m154 0h1m3 0h2m2 0h6m2 0h4m10 0h3m1 0h2m7 0h1m22 0h3m20 0h1m3 0h1m33 0h3m20 0h7m11 0h1m72 0h1m2 0h1m59 0h1m44 0h1m2 0h1m-801 1h1m25 0h1m5 0h1m18 0h1m5 0h1m4 0h2m10 0h1m8 0h1m1 0h1m3 0h1m5 0h1m18 0h4m43 0h3m1 0h2m7 0h1m3 0h2m104 0h1m3 0h1m3 0h1m1 0h1m154 0h2m1 0h1m2 0h2m1 0h4m3 0h7m5 0h2m1 0h1m1 0h3m6 0h1m22 0h3m3 0h2m9 0h1m5 0h2m39 0h1m11 0h8m18 0h1m26 0h3m44 0h2m60 0h1m17 0h1m22 0h2m-797 1h2m3 0h1m1 0h1m19 0h1m7 0h1m17 0h1m5 0h2m6 0h4m6 0h1m8 0h3m2 0h1m5 0h1m3 0h1m1 0h1m13 0h1m3 0h1m41 0h4m9 0h6m95 0h2m7 0h1m10 0h1m155 0h1m2 0h3m4 0h1m3 0h5m12 0h1m2 0h1m28 0h1m5 0h3m8 0h2m31 0h1m14 0h3m4 0h4m27 0h1m67 0h1m5 0h1m10 0h1m24 0h1m41 0h2m-774 1h1m7 0h1m1 0h1m11 0h1m5 0h1m8 0h1m16 0h1m5 0h1m8 0h2m7 0h1m2 0h1m4 0h1m1 0h2m2 0h1m5 0h1m3 0h1m1 0h2m11 0h6m42 0h3m6 0h1m3 0h3m93 0h15m9 0h1m155 0h6m2 0h1m5 0h3m14 0h1m11 0h2m23 0h1m1 0h1m10 0h2m8 0h6m4 0h2m28 0h4m31 0h1m3 0h1m27 0h1m41 0h1m35 0h1m42 0h1m-775 1h1m8 0h1m1 0h1m22 0h4m2 0h1m14 0h1m5 0h2m7 0h1m7 0h3m7 0h1m1 0h1m1 0h2m4 0h2m17 0h1m1 0h3m2 0h2m42 0h3m4 0h2m2 0h4m93 0h2m12 0h3m3 0h3m150 0h1m5 0h5m2 0h2m2 0h2m12 0h1m5 0h1m13 0h2m19 0h1m2 0h1m12 0h2m7 0h2m5 0h2m3 0h1m3 0h1m59 0h1m30 0h1m41 0h1m23 0h2m10 0h1m-733 1h1m11 0h3m6 0h1m6 0h1m9 0h1m3 0h1m13 0h1m22 0h4m6 0h1m1 0h4m4 0h1m10 0h1m7 0h1m1 0h2m4 0h3m38 0h4m4 0h7m97 0h1m10 0h6m2 0h1m156 0h3m1 0h2m1 0h3m12 0h1m3 0h1m3 0h3m3 0h1m5 0h5m5 0h1m6 0h5m9 0h1m5 0h2m4 0h1m1 0h1m1 0h1m5 0h1m1 0h2m6 0h1m50 0h3m35 0h1m5 0h2m9 0h2m27 0h1m36 0h1m-739 1h5m22 0h1m3 0h6m6 0h3m2 0h1m21 0h1m13 0h1m2 0h1m7 0h1m3 0h3m3 0h1m16 0h3m1 0h1m5 0h2m39 0h5m1 0h4m3 0h1m1 0h1m97 0h1m9 0h3m5 0h1m142 0h2m6 0h2m3 0h2m4 0h2m1 0h2m3 0h1m9 0h1m6 0h3m3 0h1m15 0h1m6 0h6m10 0h1m1 0h2m8 0h3m5 0h1m1 0h1m7 0h1m95 0h1m33 0h3m1 0h1m37 0h1m40 0h1m13 0h1m-796 1h2m8 0h1m4 0h1m4 0h1m13 0h1m8 0h3m4 0h1m21 0h2m11 0h2m10 0h1m8 0h1m5 0h1m13 0h3m51 0h1m8 0h1m98 0h1m9 0h1m153 0h1m1 0h1m2 0h3m2 0h3m1 0h1m3 0h3m16 0h2m1 0h3m5 0h1m8 0h2m5 0h1m5 0h1m1 0h4m11 0h1m5 0h2m2 0h3m1 0h1m4 0h1m1 0h1m8 0h1m94 0h1m37 0h1m-706 1h1m1 0h2m9 0h1m2 0h2m17 0h1m6 0h7m3 0h4m11 0h1m9 0h3m8 0h1m11 0h1m8 0h1m6 0h2m10 0h5m55 0h1m102 0h1m10 0h1m153 0h3m3 0h1m2 0h1m1 0h3m4 0h2m19 0h1m17 0h1m5 0h1m2 0h7m15 0h1m6 0h3m1 0h2m4 0h1m2 0h1m7 0h2m1 0h3m3 0h1m31 0h1m54 0h2m35 0h1m68 0h1m7 0h1m-784 1h1m2 0h4m5 0h1m1 0h1m4 0h2m7 0h1m4 0h7m1 0h1m4 0h4m5 0h2m11 0h1m9 0h1m1 0h1m20 0h1m3 0h1m4 0h1m15 0h2m1 0h5m51 0h1m107 0h1m4 0h1m4 0h1m2 0h1m151 0h6m1 0h1m4 0h4m3 0h1m6 0h2m9 0h2m1 0h1m13 0h1m1 0h1m5 0h1m6 0h1m1 0h1m2 0h1m7 0h1m5 0h2m6 0h1m10 0h1m8 0h1m7 0h1m31 0h1m52 0h1m3 0h1m34 0h1m31 0h1m36 0h1m-776 1h1m2 0h3m2 0h2m1 0h2m1 0h2m12 0h2m2 0h2m7 0h2m3 0h4m5 0h1m12 0h1m11 0h1m2 0h1m6 0h1m10 0h1m3 0h2m3 0h1m12 0h2m2 0h1m1 0h2m1 0h1m1 0h1m159 0h2m1 0h1m5 0h1m2 0h2m1 0h4m145 0h1m5 0h1m5 0h2m5 0h1m6 0h2m12 0h1m13 0h1m8 0h1m2 0h1m7 0h1m15 0h1m5 0h1m11 0h1m4 0h3m40 0h1m23 0h1m33 0h1m32 0h1m72 0h3m34 0h2m-817 1h1m1 0h8m2 0h1m1 0h3m11 0h1m12 0h1m6 0h2m5 0h1m12 0h1m12 0h1m1 0h1m5 0h6m7 0h6m2 0h2m7 0h5m4 0h3m60 0h3m102 0h11m157 0h1m3 0h3m14 0h2m8 0h1m3 0h1m5 0h3m3 0h3m26 0h2m4 0h4m16 0h1m4 0h1m4 0h1m3 0h1m6 0h2m13 0h1m47 0h1m22 0h1m8 0h3m20 0h1m84 0h1m-792 1h1m3 0h1m1 0h6m4 0h1m12 0h1m7 0h1m4 0h4m3 0h5m2 0h1m21 0h1m11 0h2m2 0h1m8 0h1m3 0h2m4 0h1m6 0h2m3 0h1m4 0h1m55 0h1m3 0h1m1 0h3m110 0h1m165 0h1m16 0h2m10 0h3m4 0h2m1 0h2m12 0h1m16 0h1m7 0h1m18 0h1m1 0h2m9 0h1m1 0h1m4 0h1m62 0h1m22 0h1m3 0h5m23 0h1m101 0h2m1 0h1m-812 1h1m4 0h3m29 0h1m4 0h1m7 0h1m5 0h1m12 0h1m7 0h3m3 0h1m2 0h1m2 0h3m2 0h2m7 0h1m3 0h1m2 0h1m1 0h2m6 0h2m1 0h2m1 0h4m51 0h1m5 0h6m1 0h3m108 0h3m150 0h1m5 0h1m6 0h3m2 0h1m15 0h5m5 0h1m21 0h4m1 0h6m34 0h1m8 0h1m2 0h3m4 0h1m50 0h1m9 0h1m1 0h1m23 0h3m28 0h1m104 0h1m5 0h1m-818 1h1m3 0h3m8 0h3m22 0h1m1 0h1m8 0h2m4 0h1m11 0h1m7 0h1m5 0h1m1 0h1m4 0h7m6 0h1m6 0h2m1 0h1m6 0h1m4 0h3m1 0h3m49 0h1m2 0h1m3 0h4m2 0h2m89 0h1m1 0h2m2 0h2m12 0h3m150 0h3m3 0h1m5 0h2m1 0h3m16 0h4m7 0h1m20 0h1m2 0h1m3 0h1m3 0h1m4 0h1m27 0h1m2 0h1m6 0h1m2 0h1m1 0h2m3 0h1m12 0h1m8 0h1m18 0h1m9 0h1m13 0h1m51 0h1m92 0h1m9 0h1m8 0h1m-818 1h1m3 0h1m2 0h1m8 0h2m21 0h5m7 0h1m5 0h1m12 0h1m7 0h2m3 0h2m1 0h1m16 0h1m9 0h1m7 0h1m1 0h4m1 0h1m2 0h1m49 0h1m1 0h5m1 0h2m1 0h1m92 0h2m7 0h2m9 0h1m1 0h1m150 0h3m3 0h2m1 0h6m1 0h4m17 0h1m28 0h1m3 0h2m5 0h1m15 0h2m14 0h5m12 0h2m3 0h4m7 0h1m13 0h1m42 0h3m45 0h1m45 0h1m46 0h1m-799 1h1m15 0h2m13 0h1m8 0h1m1 0h1m3 0h3m8 0h1m13 0h1m6 0h3m1 0h1m3 0h1m14 0h3m6 0h1m2 0h1m4 0h1m1 0h1m1 0h3m2 0h1m54 0h4m97 0h2m1 0h2m19 0h1m150 0h1m5 0h1m8 0h1m1 0h1m4 0h2m5 0h1m6 0h1m3 0h1m17 0h1m7 0h1m4 0h4m1 0h1m21 0h1m1 0h1m8 0h1m2 0h4m12 0h2m70 0h2m5 0h1m36 0h1m1 0h1m28 0h2m63 0h1m-784 1h2m19 0h2m2 0h1m16 0h1m13 0h1m9 0h2m4 0h2m14 0h1m6 0h1m2 0h1m4 0h5m4 0h1m53 0h3m2 0h1m1 0h2m96 0h1m19 0h1m148 0h1m8 0h1m10 0h1m5 0h1m11 0h1m3 0h2m11 0h1m5 0h1m7 0h1m9 0h2m1 0h1m28 0h1m5 0h1m64 0h1m19 0h1m44 0h1m1 0h1m24 0h3m33 0h1m32 0h1m2 0h1m8 0h1m4 0h1m-816 1h1m15 0h2m22 0h1m16 0h1m13 0h1m10 0h1m1 0h1m1 0h1m15 0h1m9 0h2m2 0h2m1 0h2m2 0h1m56 0h5m100 0h3m17 0h2m146 0h2m8 0h1m11 0h1m20 0h3m15 0h1m1 0h1m2 0h5m1 0h2m6 0h4m11 0h1m19 0h3m2 0h1m6 0h1m24 0h4m21 0h1m72 0h1m72 0h1m21 0h1m2 0h1m13 0h1m-816 1h1m10 0h1m6 0h1m3 0h2m13 0h2m3 0h1m1 0h1m12 0h1m14 0h1m10 0h1m18 0h1m8 0h5m2 0h3m3 0h1m54 0h1m1 0h4m99 0h1m3 0h1m13 0h2m1 0h2m146 0h4m1 0h1m4 0h3m25 0h3m4 0h1m8 0h2m10 0h8m1 0h6m2 0h1m10 0h3m19 0h2m2 0h1m4 0h3m7 0h1m6 0h1m2 0h3m22 0h3m77 0h1m34 0h2m32 0h2m24 0h1m2 0h1m-813 1h1m9 0h1m11 0h1m2 0h1m12 0h2m6 0h3m3 0h1m5 0h1m7 0h1m1 0h1m14 0h1m3 0h2m5 0h1m17 0h1m13 0h1m1 0h1m57 0h1m2 0h3m102 0h1m5 0h1m13 0h1m1 0h1m147 0h1m2 0h1m1 0h1m4 0h7m5 0h1m15 0h3m14 0h1m10 0h4m1 0h2m1 0h1m2 0h4m3 0h1m3 0h1m5 0h3m4 0h1m14 0h2m10 0h1m1 0h1m4 0h1m5 0h2m30 0h1m75 0h1m13 0h1m71 0h1m12 0h1m-803 1h1m27 0h1m8 0h1m10 0h1m8 0h1m15 0h1m4 0h1m5 0h3m7 0h1m7 0h1m14 0h1m1 0h1m54 0h1m1 0h7m101 0h1m6 0h1m13 0h2m150 0h1m2 0h3m1 0h1m1 0h3m6 0h2m6 0h1m9 0h3m17 0h1m1 0h1m5 0h3m1 0h2m1 0h5m2 0h1m7 0h2m3 0h2m5 0h1m13 0h1m1 0h1m8 0h3m10 0h2m23 0h1m36 0h1m47 0h1m17 0h1m65 0h1m-789 1h1m20 0h1m7 0h1m1 0h1m2 0h4m11 0h1m8 0h1m14 0h3m9 0h1m8 0h1m8 0h1m67 0h8m1 0h2m1 0h1m107 0h1m1 0h2m8 0h2m2 0h1m3 0h1m147 0h1m4 0h5m3 0h2m2 0h1m6 0h2m10 0h1m18 0h1m11 0h3m2 0h2m4 0h1m6 0h7m23 0h6m2 0h2m9 0h2m2 0h1m5 0h1m33 0h1m14 0h1m50 0h1m3 0h1m15 0h1m-725 1h1m29 0h2m4 0h2m6 0h1m4 0h1m1 0h3m4 0h2m16 0h1m9 0h1m7 0h1m9 0h1m1 0h2m65 0h1m1 0h2m1 0h1m4 0h2m111 0h1m11 0h2m147 0h1m6 0h1m4 0h2m3 0h3m1 0h1m4 0h1m46 0h5m3 0h1m5 0h1m1 0h1m2 0h1m16 0h2m6 0h3m1 0h1m1 0h1m2 0h2m9 0h8m2 0h1m48 0h1m50 0h1m20 0h1m2 0h1m38 0h1m-770 1h5m12 0h1m6 0h2m5 0h4m2 0h2m5 0h1m1 0h2m9 0h2m2 0h2m15 0h1m8 0h1m3 0h2m2 0h2m9 0h1m65 0h1m1 0h4m1 0h1m1 0h1m113 0h2m9 0h2m2 0h3m147 0h6m5 0h2m2 0h2m55 0h2m1 0h1m5 0h1m1 0h4m8 0h1m20 0h1m6 0h3m10 0h1m3 0h4m10 0h1m40 0h1m36 0h1m11 0h2m1 0h2m18 0h2m1 0h1m11 0h5m24 0h1m29 0h1m-800 1h1m8 0h1m12 0h2m5 0h3m1 0h2m1 0h1m8 0h2m1 0h1m4 0h2m4 0h1m16 0h1m2 0h2m4 0h1m1 0h4m1 0h2m10 0h1m66 0h2m2 0h2m115 0h1m3 0h1m11 0h2m145 0h2m3 0h2m1 0h1m5 0h2m12 0h1m34 0h1m1 0h1m8 0h1m4 0h1m4 0h1m4 0h1m4 0h3m21 0h2m6 0h2m11 0h1m3 0h2m1 0h2m50 0h1m36 0h2m9 0h1m3 0h1m93 0h2m-802 1h1m2 0h5m2 0h2m3 0h2m1 0h1m3 0h1m12 0h2m11 0h1m1 0h1m3 0h1m5 0h1m16 0h1m2 0h2m4 0h1m3 0h3m12 0h1m65 0h4m1 0h1m115 0h1m1 0h1m2 0h1m11 0h1m153 0h1m6 0h2m12 0h1m2 0h2m8 0h2m15 0h1m4 0h2m8 0h1m2 0h2m2 0h1m3 0h3m2 0h1m4 0h1m1 0h3m27 0h1m1 0h1m16 0h1m2 0h1m4 0h1m44 0h1m36 0h1m7 0h3m4 0h3m61 0h1m-772 1h1m10 0h4m1 0h5m1 0h1m1 0h1m11 0h1m7 0h2m8 0h2m3 0h3m26 0h1m3 0h1m3 0h1m8 0h1m66 0h3m111 0h1m5 0h1m3 0h1m1 0h1m4 0h1m183 0h1m2 0h1m9 0h1m14 0h2m3 0h1m3 0h1m4 0h1m3 0h1m2 0h4m1 0h3m3 0h1m3 0h2m1 0h1m5 0h1m20 0h3m2 0h1m3 0h2m9 0h5m4 0h1m19 0h2m6 0h1m2 0h1m49 0h2m5 0h2m5 0h3m92 0h1m-802 1h1m3 0h3m5 0h1m2 0h1m4 0h1m1 0h2m1 0h3m9 0h1m1 0h1m19 0h1m1 0h1m18 0h1m8 0h2m13 0h2m66 0h4m116 0h1m5 0h1m1 0h1m2 0h7m2 0h1m203 0h1m4 0h1m2 0h1m4 0h1m6 0h1m2 0h2m1 0h2m8 0h1m5 0h2m1 0h1m20 0h1m5 0h1m3 0h1m8 0h1m2 0h3m33 0h1m44 0h1m12 0h1m67 0h2m49 0h1m-819 1h1m3 0h3m4 0h1m5 0h1m4 0h1m1 0h1m1 0h1m1 0h1m1 0h1m4 0h3m6 0h1m3 0h2m4 0h1m6 0h1m1 0h1m17 0h1m1 0h1m4 0h4m13 0h2m66 0h2m1 0h2m113 0h2m7 0h1m1 0h1m2 0h1m7 0h2m151 0h1m18 0h1m36 0h1m1 0h1m4 0h1m5 0h5m1 0h4m8 0h1m1 0h1m4 0h1m2 0h1m18 0h1m7 0h1m12 0h1m3 0h3m72 0h2m2 0h1m11 0h1m10 0h1m-713 1h3m1 0h1m3 0h1m1 0h1m9 0h1m3 0h1m2 0h3m2 0h2m4 0h2m10 0h1m7 0h3m3 0h3m17 0h1m1 0h1m4 0h2m15 0h1m67 0h1m1 0h2m113 0h3m8 0h2m3 0h4m3 0h3m145 0h3m2 0h7m30 0h1m4 0h1m5 0h2m3 0h5m4 0h2m2 0h4m1 0h1m1 0h1m3 0h2m3 0h4m8 0h2m7 0h2m3 0h3m4 0h1m8 0h2m7 0h2m96 0h1m11 0h1m-714 1h1m1 0h1m4 0h1m13 0h1m3 0h1m2 0h1m1 0h1m10 0h1m8 0h2m14 0h2m18 0h2m4 0h1m8 0h2m6 0h2m60 0h1m1 0h4m1 0h3m111 0h2m2 0h2m4 0h1m3 0h2m6 0h1m3 0h1m50 0h1m92 0h5m12 0h2m16 0h1m6 0h1m1 0h1m3 0h4m4 0h3m5 0h1m4 0h2m2 0h1m1 0h2m6 0h1m1 0h3m3 0h1m4 0h1m2 0h1m12 0h1m4 0h1m14 0h1m1 0h1m102 0h1m12 0h2m47 0h3m55 0h1m-821 1h1m2 0h1m3 0h3m20 0h1m11 0h2m17 0h4m22 0h1m1 0h1m3 0h1m1 0h1m6 0h1m3 0h1m1 0h2m64 0h3m2 0h1m111 0h2m8 0h1m6 0h3m8 0h1m49 0h3m92 0h2m1 0h1m6 0h1m5 0h1m1 0h1m22 0h2m1 0h1m2 0h4m16 0h2m2 0h3m9 0h2m1 0h1m8 0h2m1 0h1m6 0h1m28 0h1m13 0h1m74 0h1m10 0h2m14 0h1m59 0h1m39 0h1m12 0h1m-829 1h1m12 0h1m2 0h1m24 0h6m42 0h2m2 0h2m1 0h1m6 0h1m2 0h3m65 0h1m1 0h3m1 0h1m110 0h2m9 0h1m2 0h1m4 0h2m3 0h1m1 0h2m1 0h1m50 0h1m94 0h1m5 0h2m1 0h1m3 0h1m1 0h1m8 0h4m8 0h3m1 0h1m6 0h1m1 0h1m17 0h6m10 0h1m12 0h2m7 0h1m28 0h1m13 0h1m50 0h2m31 0h1m16 0h1m81 0h1m29 0h1m-830 1h2m32 0h1m5 0h1m2 0h2m3 0h1m2 0h2m38 0h3m1 0h2m1 0h2m8 0h2m64 0h1m2 0h1m1 0h3m110 0h1m2 0h1m7 0h2m2 0h1m4 0h4m1 0h1m1 0h1m2 0h1m145 0h1m2 0h1m4 0h2m1 0h3m10 0h1m1 0h1m14 0h1m1 0h1m23 0h2m1 0h1m8 0h1m55 0h1m9 0h1m3 0h1m1 0h1m49 0h1m47 0h1m65 0h1m14 0h2m-801 1h1m1 0h2m8 0h1m32 0h2m2 0h1m3 0h1m1 0h1m2 0h1m6 0h3m24 0h1m4 0h6m6 0h2m64 0h4m3 0h1m122 0h1m2 0h2m1 0h1m2 0h2m7 0h1m1 0h5m139 0h3m2 0h1m2 0h2m2 0h2m2 0h1m24 0h3m17 0h3m2 0h4m13 0h1m11 0h2m2 0h1m9 0h6m5 0h1m12 0h3m7 0h1m6 0h3m-623 1h2m10 0h1m6 0h2m16 0h1m4 0h1m5 0h1m1 0h1m3 0h3m2 0h1m34 0h2m2 0h1m11 0h1m67 0h3m128 0h3m12 0h1m2 0h1m3 0h1m140 0h1m3 0h1m5 0h1m21 0h2m7 0h1m19 0h2m3 0h3m34 0h1m4 0h2m8 0h1m12 0h1m1 0h2m6 0h1m4 0h1m4 0h1m61 0h2m30 0h1m1 0h1m101 0h1m-821 1h2m15 0h1m1 0h1m16 0h1m11 0h1m1 0h1m2 0h1m4 0h1m4 0h1m29 0h1m3 0h1m11 0h1m67 0h2m118 0h1m3 0h1m5 0h3m3 0h1m9 0h3m145 0h6m7 0h1m14 0h1m12 0h2m1 0h4m1 0h2m2 0h3m9 0h1m37 0h1m5 0h2m19 0h3m3 0h1m1 0h1m2 0h3m1 0h2m5 0h1m47 0h1m21 0h1m9 0h1m16 0h1m99 0h1m-804 1h1m17 0h1m6 0h1m4 0h1m1 0h4m9 0h1m29 0h1m83 0h1m1 0h11m1 0h4m106 0h16m8 0h1m143 0h8m1 0h1m5 0h2m18 0h1m5 0h1m1 0h2m1 0h1m1 0h1m4 0h4m10 0h1m9 0h5m6 0h1m14 0h6m4 0h3m17 0h2m3 0h3m5 0h1m9 0h1m46 0h1m20 0h1m10 0h1m14 0h2m12 0h1m4 0h1m90 0h1m-812 1h1m9 0h3m4 0h1m3 0h5m7 0h2m1 0h1m8 0h2m26 0h2m83 0h5m116 0h5m6 0h1m5 0h3m7 0h3m143 0h1m1 0h1m1 0h4m7 0h1m14 0h1m6 0h1m2 0h5m2 0h2m16 0h1m12 0h3m6 0h2m16 0h1m1 0h1m6 0h1m6 0h2m4 0h1m5 0h1m16 0h1m4 0h2m40 0h3m2 0h1m20 0h1m26 0h2m10 0h1m3 0h3m20 0h3m29 0h1m-781 1h1m17 0h1m3 0h2m1 0h1m1 0h1m8 0h1m3 0h1m2 0h1m6 0h2m1 0h1m26 0h1m83 0h2m1 0h1m1 0h1m136 0h2m153 0h4m8 0h3m10 0h2m14 0h1m5 0h1m1 0h1m12 0h1m13 0h1m28 0h1m1 0h2m2 0h3m5 0h2m27 0h1m51 0h1m19 0h1m26 0h1m2 0h3m6 0h2m3 0h2m1 0h2m-736 1h1m1 0h6m22 0h2m10 0h2m2 0h4m7 0h1m1 0h1m110 0h1m1 0h3m138 0h1m152 0h3m1 0h1m1 0h1m3 0h5m7 0h1m4 0h1m11 0h2m2 0h1m5 0h1m3 0h1m10 0h1m13 0h1m5 0h1m1 0h3m18 0h2m1 0h1m2 0h1m5 0h3m18 0h1m8 0h2m4 0h1m45 0h1m19 0h1m32 0h1m10 0h2m-732 1h1m29 0h1m14 0h1m2 0h1m6 0h1m3 0h1m7 0h3m22 0h1m78 0h2m140 0h1m150 0h3m1 0h1m4 0h8m11 0h1m2 0h1m5 0h1m3 0h2m1 0h2m6 0h3m21 0h1m8 0h1m15 0h3m5 0h1m3 0h4m1 0h2m1 0h1m15 0h5m9 0h1m48 0h2m20 0h1m33 0h1m8 0h3m-701 1h1m23 0h1m1 0h1m111 0h1m2 0h1m140 0h2m150 0h5m1 0h1m4 0h7m2 0h1m6 0h1m4 0h1m6 0h5m1 0h1m5 0h1m1 0h1m15 0h1m3 0h3m16 0h1m15 0h1m8 0h1m20 0h1m11 0h1m47 0h1m22 0h1m34 0h3m1 0h1m1 0h2m1 0h1m-677 1h2m2 0h1m33 0h1m76 0h3m140 0h2m150 0h5m1 0h10m1 0h1m10 0h1m4 0h1m1 0h1m5 0h1m1 0h5m3 0h1m3 0h1m21 0h1m34 0h2m3 0h2m20 0h1m42 0h1m15 0h1m23 0h1m37 0h6m-737 1h2m59 0h1m3 0h1m112 0h1m138 0h1m152 0h2m2 0h4m1 0h1m3 0h1m1 0h4m11 0h1m3 0h2m2 0h4m1 0h1m1 0h1m10 0h1m10 0h1m9 0h2m34 0h2m28 0h1m14 0h1m39 0h1m4 0h2m17 0h1m42 0h1m25 0h1m-746 1h3m41 0h4m114 0h1m136 0h3m1 0h1m149 0h1m2 0h2m1 0h2m8 0h1m18 0h2m9 0h1m10 0h1m10 0h2m14 0h3m11 0h2m14 0h1m1 0h1m17 0h1m4 0h6m9 0h1m44 0h1m6 0h3m13 0h3m41 0h1m28 0h2m-731 1h5m20 0h3m113 0h5m130 0h2m2 0h2m151 0h1m3 0h2m1 0h1m8 0h2m10 0h1m7 0h1m10 0h1m5 0h1m3 0h1m42 0h2m13 0h1m4 0h1m9 0h1m9 0h1m14 0h1m43 0h1m10 0h2m11 0h1m42 0h1m31 0h1m-748 1h2m19 0h1m16 0h4m114 0h1m2 0h3m130 0h4m152 0h1m6 0h4m5 0h2m3 0h1m3 0h2m10 0h2m9 0h2m4 0h1m3 0h1m10 0h4m28 0h1m14 0h5m10 0h3m7 0h3m6 0h2m15 0h1m30 0h2m13 0h1m8 0h2m15 0h1m26 0h1m33 0h2m-763 1h3m10 0h1m29 0h1m6 0h1m1 0h4m114 0h2m132 0h2m154 0h1m8 0h2m5 0h1m11 0h1m10 0h1m13 0h4m2 0h1m10 0h1m2 0h1m25 0h1m13 0h5m2 0h4m10 0h1m8 0h1m2 0h1m1 0h1m48 0h2m16 0h1m6 0h1m16 0h1m27 0h1m5 0h1m29 0h1m16 0h1m50 0h1m-791 1h9m3 0h2m115 0h2m1 0h1m128 0h2m157 0h1m7 0h2m4 0h1m12 0h2m8 0h2m6 0h3m3 0h1m3 0h1m3 0h1m9 0h1m2 0h1m26 0h3m11 0h1m3 0h1m3 0h2m11 0h2m9 0h1m1 0h4m44 0h1m19 0h1m2 0h3m46 0h1m4 0h1m17 0h1m12 0h1m16 0h1m-749 1h1m8 0h1m6 0h2m2 0h1m1 0h3m112 0h4m97 0h2m28 0h1m1 0h2m161 0h4m4 0h2m2 0h1m2 0h2m7 0h2m4 0h5m7 0h1m5 0h1m15 0h1m1 0h1m12 0h1m6 0h5m6 0h3m17 0h2m11 0h1m3 0h2m4 0h1m48 0h1m21 0h2m50 0h1m3 0h1m31 0h1m15 0h1m-787 1h1m37 0h4m5 0h1m6 0h1m3 0h1m115 0h2m100 0h1m28 0h1m167 0h4m2 0h2m2 0h1m11 0h3m2 0h1m18 0h3m4 0h1m8 0h2m1 0h1m7 0h2m2 0h2m5 0h1m6 0h3m4 0h2m3 0h2m20 0h1m3 0h1m3 0h2m51 0h1m22 0h1m19 0h1m31 0h4m48 0h1m46 0h1m-826 1h1m38 0h2m5 0h1m2 0h2m115 0h2m100 0h1m27 0h1m167 0h1m1 0h4m1 0h5m1 0h1m3 0h1m6 0h1m10 0h1m8 0h1m2 0h2m1 0h2m2 0h1m8 0h1m9 0h1m4 0h1m5 0h1m1 0h2m1 0h3m6 0h2m3 0h2m20 0h2m3 0h2m26 0h4m24 0h1m23 0h1m52 0h2m1 0h1m33 0h1m14 0h1m22 0h1m22 0h1m-830 1h5m38 0h2m9 0h1m30 0h1m2 0h1m79 0h1m1 0h2m99 0h3m11 0h1m10 0h1m2 0h1m169 0h2m1 0h5m2 0h1m1 0h1m7 0h1m3 0h2m8 0h2m5 0h1m3 0h1m3 0h1m3 0h1m8 0h1m8 0h2m5 0h4m1 0h1m2 0h2m3 0h2m1 0h3m1 0h3m1 0h1m1 0h1m18 0h1m35 0h5m45 0h1m37 0h3m13 0h1m1 0h1m49 0h2m-743 1h3m6 0h4m28 0h1m85 0h1m100 0h2m1 0h1m10 0h1m7 0h4m1 0h2m171 0h4m6 0h1m11 0h3m5 0h1m12 0h1m2 0h1m3 0h1m12 0h6m7 0h1m2 0h2m2 0h2m1 0h1m3 0h3m2 0h1m1 0h2m3 0h1m10 0h1m6 0h1m26 0h2m12 0h3m6 0h2m35 0h1m54 0h2m27 0h1m13 0h1m9 0h1m8 0h1m-769 1h3m15 0h2m6 0h3m31 0h1m81 0h2m99 0h2m1 0h1m11 0h1m1 0h1m6 0h4m174 0h3m3 0h1m3 0h2m11 0h1m1 0h4m5 0h2m1 0h2m3 0h1m1 0h2m12 0h3m7 0h1m6 0h1m4 0h2m5 0h1m1 0h1m1 0h2m2 0h1m1 0h1m3 0h1m30 0h2m28 0h7m1 0h1m35 0h1m55 0h1m42 0h1m8 0h1m-792 1h1m31 0h2m17 0h2m7 0h1m26 0h1m3 0h2m80 0h4m99 0h4m7 0h7m4 0h2m177 0h3m4 0h1m1 0h4m8 0h2m13 0h3m4 0h1m1 0h1m3 0h1m8 0h1m1 0h1m13 0h1m2 0h2m1 0h1m8 0h1m1 0h1m2 0h2m4 0h1m32 0h1m30 0h3m3 0h1m35 0h1m55 0h1m43 0h1m7 0h4m-751 1h1m5 0h4m6 0h1m2 0h1m19 0h8m1 0h1m79 0h5m98 0h2m1 0h12m4 0h4m179 0h2m2 0h2m1 0h1m1 0h1m1 0h2m4 0h5m3 0h2m2 0h1m6 0h2m1 0h2m1 0h3m4 0h1m11 0h1m14 0h1m2 0h2m1 0h4m1 0h3m1 0h1m2 0h2m1 0h1m1 0h1m3 0h1m3 0h2m23 0h2m33 0h2m1 0h1m35 0h1m6 0h3m46 0h2m43 0h3m5 0h1m-769 1h1m18 0h3m15 0h1m15 0h1m5 0h3m1 0h1m2 0h2m81 0h3m99 0h1m2 0h2m2 0h1m1 0h1m2 0h1m187 0h1m1 0h4m1 0h1m1 0h1m1 0h1m3 0h3m9 0h5m19 0h1m8 0h1m6 0h1m6 0h2m1 0h1m2 0h2m4 0h1m1 0h4m1 0h5m7 0h1m20 0h1m8 0h1m1 0h1m33 0h1m1 0h1m34 0h1m54 0h2m1 0h1m45 0h3m2 0h1m-747 1h1m10 0h1m2 0h5m5 0h2m4 0h1m5 0h6m3 0h1m81 0h4m2 0h3m93 0h1m8 0h1m2 0h1m189 0h5m2 0h1m2 0h2m2 0h1m1 0h1m1 0h2m4 0h3m7 0h1m6 0h2m6 0h1m8 0h1m6 0h1m6 0h4m4 0h4m2 0h1m2 0h1m1 0h3m1 0h1m1 0h3m4 0h1m15 0h2m2 0h1m10 0h1m34 0h2m34 0h1m54 0h2m1 0h1m48 0h1m2 0h1m-772 1h1m9 0h1m9 0h1m4 0h1m9 0h4m1 0h2m1 0h1m5 0h1m6 0h1m1 0h5m88 0h1m1 0h1m6 0h1m93 0h1m200 0h2m2 0h1m5 0h1m4 0h2m3 0h1m3 0h1m1 0h1m7 0h2m5 0h1m7 0h1m8 0h1m6 0h1m6 0h1m2 0h1m1 0h1m3 0h4m2 0h4m9 0h1m3 0h1m15 0h2m13 0h1m35 0h1m34 0h1m54 0h1m52 0h1m1 0h1m-771 1h1m11 0h2m6 0h1m4 0h1m5 0h2m4 0h4m2 0h1m11 0h1m1 0h5m87 0h2m6 0h1m1 0h1m90 0h1m202 0h4m2 0h2m2 0h1m7 0h1m3 0h1m4 0h8m3 0h1m3 0h1m7 0h1m13 0h3m5 0h1m3 0h1m4 0h2m2 0h3m1 0h5m1 0h4m1 0h2m19 0h3m83 0h1m53 0h2m52 0h1m1 0h1m-792 1h1m12 0h1m32 0h1m11 0h1m2 0h7m3 0h1m3 0h1m2 0h1m92 0h2m4 0h1m91 0h2m203 0h2m1 0h1m3 0h1m18 0h1m8 0h1m14 0h1m7 0h1m3 0h6m4 0h2m1 0h3m3 0h2m1 0h7m2 0h5m2 0h1m2 0h1m2 0h1m4 0h5m91 0h1m53 0h1m54 0h1m24 0h1m-816 1h1m56 0h3m1 0h2m2 0h2m1 0h5m1 0h1m1 0h2m92 0h1m1 0h1m4 0h3m89 0h2m202 0h2m1 0h2m3 0h1m2 0h3m5 0h2m3 0h2m11 0h1m5 0h1m6 0h1m8 0h1m2 0h1m5 0h2m6 0h3m1 0h4m2 0h2m1 0h1m2 0h6m1 0h2m11 0h1m14 0h1m81 0h1m52 0h1m1 0h2m22 0h1m29 0h1m39 0h1m-832 1h1m55 0h2m1 0h1m2 0h1m1 0h5m1 0h4m2 0h1m1 0h2m90 0h2m94 0h3m207 0h1m1 0h2m1 0h2m1 0h3m9 0h2m10 0h3m5 0h1m1 0h1m4 0h1m8 0h6m5 0h1m2 0h1m2 0h1m1 0h2m1 0h3m2 0h2m3 0h2m3 0h4m1 0h1m5 0h1m4 0h1m14 0h1m23 0h4m43 0h1m10 0h1m52 0h1m1 0h2m92 0h1m-834 1h3m53 0h1m6 0h2m5 0h1m4 0h2m3 0h2m88 0h1m1 0h1m94 0h3m207 0h3m4 0h1m1 0h4m4 0h2m2 0h3m6 0h3m1 0h2m1 0h1m10 0h1m7 0h1m1 0h1m2 0h2m10 0h1m2 0h4m2 0h1m1 0h4m2 0h2m3 0h1m1 0h1m1 0h2m1 0h1m1 0h1m5 0h1m49 0h1m47 0h1m50 0h1m2 0h1m54 0h1m37 0h2m-832 1h1m50 0h4m13 0h1m9 0h2m89 0h5m90 0h2m207 0h1m1 0h1m2 0h4m3 0h2m11 0h3m3 0h1m5 0h1m2 0h1m8 0h1m14 0h1m1 0h1m1 0h1m7 0h1m5 0h1m2 0h3m1 0h1m1 0h1m1 0h5m1 0h1m1 0h1m3 0h2m16 0h4m22 0h1m60 0h1m50 0h1m2 0h1m-733 1h1m55 0h1m2 0h3m12 0h1m1 0h2m85 0h1m1 0h1m91 0h4m210 0h1m2 0h2m1 0h1m1 0h3m12 0h2m1 0h5m3 0h1m2 0h1m3 0h2m2 0h1m9 0h2m4 0h2m7 0h1m4 0h3m1 0h2m1 0h3m1 0h4m1 0h5m2 0h2m4 0h1m16 0h2m21 0h1m1 0h1m5 0h2m36 0h1m16 0h1m51 0h2m67 0h1m5 0h5m-811 1h3m25 0h1m9 0h1m17 0h2m3 0h1m11 0h2m1 0h4m84 0h1m1 0h1m1 0h2m87 0h1m3 0h1m208 0h4m2 0h1m2 0h3m2 0h1m10 0h2m2 0h1m2 0h5m2 0h2m3 0h1m2 0h1m9 0h1m1 0h1m5 0h1m1 0h2m8 0h3m1 0h6m2 0h10m1 0h3m3 0h1m1 0h2m13 0h1m2 0h1m19 0h1m1 0h1m1 0h2m40 0h1m16 0h1m51 0h3m70 0h1m2 0h1m2 0h1m-810 1h1m25 0h1m10 0h1m21 0h1m4 0h1m3 0h1m3 0h2m2 0h1m86 0h1m1 0h2m1 0h1m86 0h1m215 0h2m1 0h2m2 0h1m1 0h1m3 0h1m8 0h1m2 0h1m6 0h6m5 0h1m1 0h1m8 0h1m3 0h1m2 0h1m5 0h2m6 0h1m1 0h5m1 0h2m1 0h4m1 0h1m2 0h1m1 0h1m5 0h1m3 0h1m1 0h1m14 0h2m82 0h1m51 0h3m23 0h1m45 0h5m2 0h3m-765 1h1m3 0h3m2 0h1m2 0h1m4 0h1m3 0h7m1 0h1m87 0h2m1 0h2m86 0h1m212 0h2m1 0h2m9 0h1m1 0h1m1 0h1m5 0h1m3 0h7m2 0h5m6 0h1m8 0h1m6 0h1m8 0h4m1 0h1m3 0h10m3 0h5m3 0h1m2 0h1m14 0h1m89 0h1m49 0h4m22 0h1m45 0h2m7 0h2m-776 1h1m10 0h3m9 0h1m4 0h2m2 0h1m2 0h3m2 0h1m87 0h2m87 0h2m207 0h2m6 0h4m10 0h3m3 0h5m1 0h3m1 0h1m7 0h1m7 0h1m8 0h1m6 0h2m1 0h1m5 0h1m6 0h1m2 0h9m1 0h2m1 0h2m1 0h3m1 0h5m104 0h1m49 0h3m42 0h1m24 0h2m9 0h2m-777 1h1m22 0h1m10 0h4m2 0h1m87 0h1m86 0h2m1 0h2m206 0h8m1 0h2m10 0h1m1 0h1m6 0h1m1 0h1m3 0h4m5 0h1m1 0h1m3 0h1m2 0h1m14 0h6m6 0h4m1 0h6m1 0h3m1 0h2m2 0h7m2 0h2m7 0h1m14 0h1m22 0h1m20 0h2m38 0h1m48 0h2m1 0h1m7 0h1m34 0h1m24 0h1m12 0h1m4 0h1m-824 1h1m40 0h1m22 0h1m3 0h1m4 0h2m1 0h7m1 0h1m84 0h1m1 0h1m83 0h2m217 0h4m1 0h1m16 0h2m1 0h2m2 0h1m7 0h1m2 0h3m1 0h1m1 0h2m7 0h1m12 0h1m2 0h3m1 0h3m4 0h1m1 0h2m3 0h1m2 0h2m1 0h8m2 0h1m6 0h2m13 0h1m83 0h1m48 0h1m2 0h1m66 0h1m14 0h1m2 0h1m3 0h1m-802 1h1m25 0h1m9 0h2m1 0h3m1 0h2m3 0h4m4 0h5m82 0h2m1 0h1m61 0h3m2 0h1m14 0h2m217 0h1m3 0h6m11 0h1m3 0h1m5 0h1m2 0h1m3 0h2m3 0h4m1 0h1m8 0h1m12 0h1m9 0h1m1 0h8m1 0h1m4 0h1m1 0h3m1 0h1m2 0h1m8 0h1m98 0h1m51 0h1m66 0h1m15 0h3m-775 1h1m2 0h1m8 0h5m1 0h1m2 0h2m3 0h2m6 0h1m1 0h1m83 0h3m1 0h1m57 0h9m14 0h2m216 0h7m1 0h2m12 0h1m9 0h1m2 0h1m4 0h1m3 0h2m2 0h2m9 0h2m11 0h1m4 0h1m1 0h1m2 0h2m2 0h2m1 0h3m2 0h1m1 0h3m1 0h1m1 0h3m1 0h1m1 0h2m31 0h1m29 0h1m42 0h1m16 0h1m34 0h1m63 0h3m16 0h4m-797 1h1m2 0h1m20 0h2m2 0h1m5 0h2m5 0h5m2 0h1m6 0h2m85 0h2m1 0h2m53 0h1m1 0h2m1 0h1m6 0h3m9 0h3m220 0h6m11 0h8m4 0h1m3 0h1m11 0h2m11 0h1m8 0h1m7 0h1m2 0h6m1 0h1m2 0h1m2 0h1m2 0h1m1 0h1m1 0h1m2 0h2m2 0h1m35 0h1m69 0h1m16 0h1m34 0h1m62 0h1m1 0h1m20 0h1m-797 1h1m2 0h1m7 0h1m12 0h1m3 0h1m5 0h1m9 0h1m2 0h4m4 0h2m85 0h2m2 0h2m52 0h2m1 0h1m11 0h3m4 0h3m223 0h1m1 0h1m3 0h1m9 0h3m1 0h2m1 0h1m4 0h1m1 0h1m1 0h2m10 0h3m10 0h1m7 0h1m1 0h1m8 0h5m1 0h1m2 0h3m2 0h7m1 0h3m2 0h2m13 0h1m21 0h1m24 0h1m44 0h1m16 0h1m34 0h1m62 0h1m23 0h1m-798 1h2m1 0h3m5 0h1m2 0h1m9 0h1m10 0h1m8 0h7m1 0h5m1 0h1m82 0h3m1 0h2m53 0h1m13 0h1m3 0h3m1 0h1m224 0h3m5 0h2m1 0h1m6 0h1m3 0h1m6 0h1m1 0h4m7 0h1m2 0h1m2 0h1m10 0h1m16 0h4m2 0h13m2 0h1m5 0h3m12 0h1m22 0h1m24 0h1m30 0h2m11 0h1m17 0h1m34 0h1m47 0h3m12 0h1m22 0h2m-787 1h1m4 0h1m7 0h1m7 0h1m13 0h3m2 0h1m1 0h6m81 0h5m54 0h2m18 0h3m221 0h9m1 0h2m5 0h1m1 0h1m5 0h2m6 0h3m1 0h1m1 0h1m7 0h1m1 0h1m2 0h1m10 0h1m17 0h1m5 0h1m1 0h2m1 0h1m3 0h3m21 0h2m26 0h1m3 0h1m48 0h1m12 0h1m11 0h1m5 0h1m35 0h1m60 0h2m22 0h1m1 0h1m-809 1h2m23 0h1m1 0h1m14 0h2m13 0h3m1 0h1m3 0h1m1 0h1m82 0h1m2 0h1m1 0h3m51 0h2m19 0h2m224 0h4m14 0h1m3 0h3m12 0h1m8 0h1m2 0h1m11 0h1m5 0h3m9 0h1m7 0h5m4 0h4m1 0h1m10 0h1m3 0h1m29 0h1m22 0h1m28 0h1m12 0h1m11 0h2m41 0h1m22 0h1m36 0h2m21 0h1m-805 1h2m21 0h1m17 0h3m5 0h1m1 0h1m4 0h2m2 0h1m1 0h1m1 0h2m86 0h3m53 0h2m246 0h3m5 0h1m8 0h1m3 0h1m6 0h3m5 0h1m8 0h1m14 0h1m16 0h1m6 0h2m1 0h1m1 0h1m1 0h4m1 0h1m15 0h3m52 0h1m41 0h1m54 0h3m59 0h1m3 0h2m16 0h1m-810 1h2m6 0h1m28 0h2m2 0h1m5 0h1m1 0h1m1 0h1m2 0h1m7 0h2m1 0h1m2 0h2m1 0h1m85 0h1m1 0h1m52 0h2m1 0h1m245 0h2m3 0h1m2 0h4m5 0h1m2 0h1m5 0h1m2 0h1m14 0h1m15 0h1m15 0h1m7 0h1m2 0h1m1 0h1m1 0h3m3 0h1m13 0h1m32 0h1m18 0h1m30 0h1m14 0h1m55 0h2m14 0h1m44 0h1m20 0h3m-812 1h2m2 0h6m1 0h1m7 0h1m18 0h1m11 0h2m2 0h2m9 0h1m3 0h1m88 0h1m2 0h1m51 0h2m248 0h4m3 0h1m11 0h4m2 0h1m5 0h2m9 0h1m17 0h1m13 0h2m8 0h1m1 0h1m1 0h1m1 0h4m15 0h1m46 0h2m108 0h1m1 0h1m1 0h1m34 0h1m18 0h1m21 0h1m-809 1h5m1 0h1m1 0h1m1 0h1m7 0h1m23 0h1m7 0h3m4 0h1m5 0h1m3 0h2m87 0h4m52 0h1m249 0h3m4 0h2m2 0h2m6 0h3m8 0h1m1 0h1m9 0h1m17 0h1m4 0h1m17 0h1m4 0h1m1 0h1m17 0h1m26 0h1m132 0h3m34 0h1m18 0h2m19 0h1m-812 1h1m3 0h2m1 0h6m1 0h2m5 0h1m34 0h1m2 0h1m1 0h1m5 0h7m85 0h5m51 0h3m84 0h5m156 0h3m1 0h2m4 0h1m5 0h2m4 0h2m8 0h1m6 0h1m5 0h1m18 0h1m3 0h1m15 0h3m6 0h1m14 0h3m26 0h3m131 0h3m53 0h1m18 0h1m1 0h1m-807 1h1m2 0h2m1 0h1m2 0h1m41 0h1m2 0h6m2 0h2m1 0h1m1 0h2m86 0h1m1 0h1m50 0h3m85 0h1m4 0h1m27 0h2m129 0h3m3 0h4m4 0h3m4 0h5m5 0h1m5 0h1m2 0h1m2 0h1m18 0h1m3 0h1m17 0h1m17 0h4m16 0h2m9 0h2m2 0h1m11 0h1m17 0h1m101 0h1m1 0h1m53 0h1m18 0h1m1 0h1m-806 1h4m1 0h1m1 0h2m44 0h5m1 0h1m2 0h4m87 0h2m1 0h1m47 0h1m1 0h1m1 0h1m1 0h2m83 0h1m5 0h1m25 0h1m2 0h2m126 0h3m7 0h1m4 0h3m4 0h1m3 0h2m4 0h1m8 0h1m2 0h1m19 0h1m1 0h3m16 0h1m9 0h2m3 0h3m31 0h1m3 0h1m12 0h2m119 0h2m43 0h2m7 0h1m19 0h2m-806 1h4m1 0h1m2 0h1m6 0h1m31 0h2m5 0h11m1 0h1m86 0h2m52 0h3m1 0h1m82 0h1m32 0h1m3 0h1m126 0h1m8 0h1m5 0h3m4 0h1m4 0h1m2 0h1m6 0h1m3 0h2m1 0h1m20 0h1m13 0h3m14 0h2m23 0h2m12 0h1m2 0h1m1 0h3m10 0h1m117 0h3m52 0h2m18 0h1m-805 1h1m7 0h2m10 0h2m14 0h2m2 0h2m1 0h1m7 0h2m1 0h3m4 0h1m1 0h2m3 0h1m83 0h4m50 0h1m2 0h2m81 0h2m8 0h1m22 0h2m5 0h1m1 0h2m121 0h5m8 0h2m3 0h2m1 0h2m5 0h1m1 0h2m13 0h1m21 0h1m9 0h2m2 0h1m15 0h3m18 0h4m14 0h4m15 0h1m116 0h3m52 0h1m19 0h1m-804 1h5m31 0h2m4 0h1m1 0h2m4 0h1m1 0h2m6 0h1m1 0h3m87 0h2m50 0h2m84 0h3m1 0h1m6 0h1m6 0h1m3 0h1m4 0h1m5 0h1m7 0h2m1 0h1m119 0h3m1 0h3m8 0h4m1 0h1m3 0h1m4 0h3m1 0h2m12 0h1m21 0h1m9 0h2m4 0h1m11 0h1m1 0h1m18 0h2m15 0h1m22 0h1m7 0h1m107 0h1m1 0h1m72 0h1m-803 1h1m33 0h2m4 0h5m7 0h2m5 0h1m1 0h3m85 0h1m1 0h2m46 0h1m3 0h1m84 0h1m1 0h5m5 0h1m6 0h2m1 0h1m1 0h1m4 0h1m2 0h2m12 0h1m115 0h1m2 0h1m1 0h3m11 0h2m1 0h1m1 0h1m2 0h2m4 0h5m3 0h1m9 0h1m21 0h1m5 0h1m4 0h3m1 0h1m10 0h1m2 0h1m16 0h2m17 0h1m20 0h3m115 0h1m2 0h1m50 0h1m19 0h2m-821 1h2m16 0h1m32 0h5m3 0h2m1 0h1m2 0h1m4 0h1m1 0h2m4 0h4m86 0h2m1 0h1m45 0h1m1 0h2m1 0h1m83 0h6m7 0h1m5 0h2m1 0h1m2 0h1m1 0h1m1 0h1m1 0h1m14 0h1m114 0h1m1 0h1m2 0h1m2 0h1m4 0h1m3 0h5m1 0h3m3 0h1m3 0h1m3 0h2m2 0h1m6 0h3m1 0h1m21 0h1m2 0h2m7 0h1m2 0h1m9 0h1m2 0h3m12 0h1m1 0h1m18 0h2m20 0h2m1 0h1m2 0h1m106 0h1m7 0h1m49 0h2m19 0h2m-819 1h1m15 0h1m22 0h1m10 0h1m2 0h1m6 0h1m1 0h2m4 0h2m2 0h1m1 0h1m4 0h2m85 0h3m45 0h3m1 0h4m82 0h2m2 0h3m6 0h1m4 0h1m2 0h1m4 0h1m3 0h1m15 0h1m114 0h1m2 0h3m1 0h6m6 0h1m1 0h1m2 0h3m6 0h1m15 0h2m1 0h1m25 0h1m7 0h1m11 0h1m4 0h1m12 0h3m5 0h1m20 0h1m15 0h2m3 0h1m114 0h1m1 0h1m47 0h2m20 0h1m-819 1h2m14 0h1m4 0h1m17 0h1m11 0h4m2 0h1m3 0h1m1 0h1m2 0h3m5 0h3m1 0h3m86 0h1m45 0h3m3 0h2m82 0h8m6 0h1m4 0h1m27 0h1m117 0h5m1 0h1m1 0h3m7 0h1m3 0h2m22 0h2m1 0h1m22 0h1m1 0h2m7 0h1m9 0h2m13 0h5m45 0h1m4 0h1m12 0h1m101 0h3m36 0h1m9 0h2m21 0h3m-819 1h1m24 0h2m15 0h1m6 0h2m1 0h7m1 0h1m3 0h1m1 0h5m1 0h5m2 0h1m84 0h2m1 0h1m41 0h6m88 0h4m8 0h1m4 0h1m12 0h2m14 0h1m111 0h1m4 0h4m2 0h4m4 0h1m3 0h1m3 0h1m12 0h2m4 0h7m2 0h1m22 0h1m17 0h2m14 0h1m10 0h2m37 0h1m5 0h1m9 0h3m103 0h1m47 0h2m22 0h2m-818 1h1m40 0h1m1 0h4m5 0h3m5 0h3m1 0h2m5 0h3m1 0h1m2 0h1m84 0h4m41 0h2m2 0h1m1 0h1m88 0h7m1 0h1m3 0h1m3 0h1m29 0h1m114 0h2m5 0h1m1 0h2m4 0h5m3 0h1m8 0h3m5 0h2m1 0h1m7 0h1m23 0h1m15 0h1m10 0h6m11 0h1m1 0h1m34 0h2m5 0h1m9 0h2m1 0h1m103 0h1m48 0h1m2 0h1m19 0h1m1 0h1m-818 1h2m28 0h1m17 0h3m1 0h3m4 0h3m2 0h1m2 0h1m2 0h1m1 0h2m87 0h6m39 0h2m2 0h1m2 0h1m95 0h1m4 0h1m1 0h2m30 0h2m113 0h1m2 0h1m2 0h3m6 0h1m2 0h2m3 0h1m1 0h3m4 0h2m4 0h1m12 0h1m24 0h1m12 0h2m9 0h2m18 0h1m1 0h1m15 0h1m18 0h1m18 0h1m97 0h1m6 0h1m42 0h1m4 0h3m23 0h2m-822 1h6m26 0h1m13 0h2m3 0h1m3 0h1m1 0h5m1 0h1m5 0h1m2 0h1m2 0h1m88 0h2m2 0h1m39 0h2m101 0h1m2 0h1m2 0h1m34 0h1m108 0h1m3 0h2m1 0h1m2 0h2m6 0h2m1 0h1m6 0h2m1 0h6m19 0h1m24 0h1m10 0h1m10 0h1m16 0h2m2 0h1m2 0h1m158 0h1m1 0h1m39 0h1m3 0h1m1 0h1m25 0h2m1 0h1m3 0h1m-824 1h1m25 0h2m19 0h2m2 0h2m1 0h2m9 0h1m2 0h1m91 0h1m1 0h2m37 0h3m99 0h3m5 0h1m18 0h1m8 0h1m7 0h1m108 0h1m2 0h4m1 0h1m2 0h1m7 0h1m1 0h1m1 0h1m4 0h4m3 0h2m9 0h1m35 0h1m5 0h4m30 0h1m2 0h1m1 0h1m47 0h1m108 0h3m18 0h4m3 0h1m2 0h2m11 0h1m3 0h2m28 0h5m-807 1h1m37 0h2m8 0h4m1 0h1m91 0h2m35 0h3m1 0h3m95 0h3m30 0h1m5 0h1m8 0h1m106 0h3m1 0h4m1 0h1m2 0h1m9 0h3m3 0h4m5 0h1m9 0h1m1 0h2m7 0h1m30 0h1m1 0h1m34 0h1m2 0h1m2 0h1m153 0h1m1 0h1m10 0h7m1 0h2m1 0h10m1 0h7m1 0h1m3 0h1m31 0h3m-805 1h1m7 0h2m16 0h2m9 0h2m7 0h2m93 0h4m34 0h6m94 0h3m2 0h2m14 0h1m2 0h1m11 0h1m14 0h1m109 0h1m1 0h8m3 0h1m7 0h2m3 0h4m1 0h1m8 0h1m2 0h1m1 0h1m5 0h1m3 0h1m26 0h1m2 0h1m38 0h2m159 0h1m1 0h1m16 0h3m12 0h2m2 0h1m1 0h3m1 0h1m33 0h3m-798 1h2m27 0h4m5 0h3m94 0h2m33 0h1m1 0h2m1 0h2m94 0h1m2 0h2m2 0h2m14 0h1m14 0h1m13 0h1m108 0h1m2 0h1m1 0h1m2 0h2m3 0h1m2 0h1m8 0h1m9 0h1m3 0h2m1 0h1m2 0h1m9 0h1m11 0h1m15 0h1m40 0h1m2 0h2m43 0h2m111 0h1m1 0h2m3 0h1m1 0h3m29 0h4m36 0h6m-789 1h1m13 0h1m1 0h1m1 0h1m3 0h3m95 0h1m34 0h3m99 0h1m7 0h1m13 0h1m28 0h1m107 0h1m3 0h1m9 0h1m1 0h1m19 0h1m4 0h1m2 0h1m21 0h1m1 0h1m34 0h1m22 0h7m6 0h1m9 0h1m137 0h2m3 0h3m30 0h1m1 0h3m23 0h1m13 0h2m-785 1h1m20 0h4m93 0h1m1 0h1m34 0h3m98 0h1m8 0h1m5 0h1m24 0h1m1 0h2m6 0h2m110 0h3m7 0h4m3 0h3m2 0h1m2 0h5m4 0h4m1 0h1m2 0h2m11 0h2m9 0h1m31 0h1m2 0h1m26 0h5m14 0h1m139 0h1m2 0h1m32 0h1m5 0h1m-748 1h1m20 0h4m93 0h1m1 0h1m34 0h3m106 0h1m31 0h1m8 0h1m111 0h2m11 0h1m1 0h1m7 0h1m11 0h4m2 0h1m3 0h1m7 0h1m2 0h3m8 0h1m160 0h1m60 0h2m33 0h2m3 0h2m18 0h1m-786 1h1m10 0h1m19 0h1m9 0h1m1 0h1m95 0h3m32 0h2m107 0h1m37 0h3m110 0h1m1 0h3m8 0h3m9 0h2m2 0h1m1 0h1m2 0h1m4 0h1m4 0h1m1 0h5m1 0h1m2 0h1m5 0h1m3 0h5m85 0h1m2 0h1m50 0h2m72 0h1m42 0h3m1 0h1m20 0h1m-776 1h2m19 0h2m2 0h1m5 0h1m97 0h3m32 0h2m107 0h1m39 0h1m110 0h1m13 0h1m15 0h5m7 0h7m1 0h2m4 0h1m1 0h1m3 0h1m3 0h1m2 0h1m41 0h2m34 0h2m178 0h1m2 0h1m-756 1h1m1 0h1m12 0h1m15 0h3m1 0h1m95 0h1m1 0h1m31 0h2m108 0h1m23 0h1m14 0h1m107 0h2m1 0h1m13 0h1m15 0h3m1 0h1m11 0h5m5 0h3m4 0h1m4 0h1m31 0h1m8 0h4m3 0h1m29 0h1m1 0h1m4 0h1m129 0h1m43 0h4m-787 1h1m27 0h1m1 0h1m32 0h3m96 0h2m1 0h2m4 0h3m22 0h1m1 0h3m116 0h1m1 0h1m24 0h1m108 0h2m2 0h1m2 0h3m7 0h1m17 0h4m13 0h2m7 0h2m3 0h1m4 0h1m31 0h1m4 0h2m2 0h1m1 0h2m2 0h1m22 0h1m7 0h1m6 0h1m1 0h1m3 0h1m124 0h1m3 0h1m40 0h3m-788 1h1m4 0h1m25 0h3m1 0h1m27 0h3m97 0h6m26 0h3m109 0h1m10 0h1m24 0h1m103 0h2m3 0h1m1 0h1m7 0h1m7 0h3m8 0h1m7 0h2m23 0h3m3 0h1m1 0h2m31 0h8m2 0h1m2 0h1m53 0h2m116 0h1m4 0h1m8 0h1m33 0h2m-799 1h1m19 0h2m14 0h4m1 0h4m4 0h1m10 0h1m2 0h2m8 0h2m99 0h1m1 0h3m23 0h4m1 0h2m108 0h1m10 0h1m22 0h2m103 0h2m2 0h1m3 0h1m1 0h2m13 0h1m2 0h3m3 0h1m7 0h1m23 0h1m2 0h1m2 0h5m30 0h3m2 0h1m1 0h2m21 0h1m12 0h1m15 0h1m126 0h1m5 0h1m7 0h1m6 0h1m27 0h1m-780 1h4m11 0h1m1 0h1m4 0h1m1 0h2m4 0h1m19 0h2m2 0h1m100 0h2m3 0h1m18 0h1m1 0h1m1 0h3m112 0h2m10 0h1m19 0h2m108 0h2m1 0h2m32 0h1m1 0h1m6 0h1m1 0h1m4 0h1m12 0h1m1 0h2m1 0h1m1 0h1m29 0h2m1 0h1m4 0h1m14 0h1m7 0h1m12 0h1m6 0h1m8 0h1m126 0h1m4 0h1m15 0h1m27 0h1m-782 1h4m8 0h1m4 0h1m1 0h1m1 0h2m2 0h4m3 0h1m19 0h5m105 0h2m20 0h2m1 0h1m109 0h3m25 0h1m3 0h3m110 0h5m1 0h1m15 0h3m5 0h2m5 0h1m1 0h1m6 0h2m5 0h1m11 0h2m2 0h1m2 0h3m28 0h1m2 0h3m2 0h1m14 0h1m36 0h1m176 0h1m-782 1h1m1 0h1m8 0h2m3 0h1m2 0h1m2 0h4m25 0h2m106 0h5m17 0h5m108 0h2m7 0h2m11 0h2m9 0h1m113 0h2m1 0h1m2 0h2m13 0h1m1 0h2m12 0h1m8 0h1m3 0h1m2 0h1m9 0h2m1 0h1m1 0h1m4 0h5m3 0h1m21 0h1m1 0h2m1 0h1m2 0h1m35 0h1m26 0h1m116 0h1m48 0h1m-797 1h1m1 0h1m25 0h1m2 0h1m2 0h1m4 0h2m24 0h2m1 0h1m1 0h2m103 0h5m15 0h2m1 0h2m111 0h3m1 0h3m7 0h2m2 0h2m4 0h1m2 0h1m1 0h1m113 0h3m2 0h1m2 0h1m8 0h2m3 0h1m2 0h2m1 0h2m7 0h1m1 0h1m8 0h1m3 0h1m2 0h1m1 0h1m3 0h1m3 0h2m1 0h2m5 0h9m22 0h1m1 0h1m1 0h2m1 0h1m2 0h1m40 0h1m28 0h1m106 0h1m-752 1h2m2 0h1m12 0h3m2 0h3m8 0h1m1 0h1m3 0h2m1 0h2m1 0h1m23 0h1m3 0h4m104 0h2m14 0h2m1 0h1m1 0h2m117 0h1m8 0h1m8 0h2m2 0h1m116 0h4m1 0h1m15 0h1m1 0h1m12 0h2m2 0h2m3 0h1m9 0h1m3 0h2m2 0h5m9 0h1m2 0h3m21 0h1m1 0h3m1 0h1m3 0h1m9 0h1m37 0h1m25 0h1m102 0h1m50 0h1m-803 1h1m2 0h1m12 0h2m2 0h1m3 0h1m10 0h1m2 0h1m3 0h3m24 0h1m4 0h1m106 0h2m1 0h1m10 0h4m3 0h1m119 0h1m19 0h1m116 0h1m2 0h7m2 0h3m7 0h1m2 0h1m4 0h4m1 0h1m1 0h3m2 0h1m2 0h2m7 0h2m1 0h1m2 0h2m2 0h4m7 0h1m2 0h1m3 0h1m23 0h3m2 0h1m3 0h1m8 0h1m1 0h1m24 0h1m140 0h1m50 0h1m-803 1h1m7 0h2m6 0h2m2 0h1m3 0h1m41 0h2m7 0h1m2 0h1m103 0h3m9 0h1m1 0h1m1 0h1m123 0h1m11 0h1m5 0h2m113 0h2m1 0h8m3 0h1m2 0h1m8 0h1m1 0h1m5 0h1m2 0h1m1 0h2m3 0h1m5 0h1m5 0h3m4 0h2m2 0h3m9 0h1m2 0h1m3 0h1m1 0h1m22 0h1m1 0h2m3 0h2m8 0h2m23 0h1m143 0h1m50 0h1m-796 1h2m7 0h2m5 0h1m7 0h1m4 0h1m2 0h1m10 0h1m14 0h3m5 0h4m104 0h2m3 0h1m5 0h2m1 0h1m126 0h1m15 0h1m115 0h1m2 0h2m1 0h4m4 0h2m10 0h1m2 0h2m8 0h4m2 0h1m7 0h2m3 0h1m27 0h1m2 0h2m20 0h3m2 0h2m3 0h2m6 0h1m2 0h1m165 0h1m49 0h1m-796 1h1m8 0h1m8 0h2m3 0h1m8 0h1m10 0h2m22 0h1m105 0h1m1 0h2m1 0h1m7 0h2m1 0h1m140 0h1m115 0h1m2 0h2m3 0h3m4 0h3m9 0h6m4 0h1m2 0h1m2 0h8m3 0h1m11 0h1m19 0h1m4 0h3m18 0h5m1 0h1m10 0h1m2 0h2m3 0h1m11 0h1m8 0h2m12 0h2m73 0h1m51 0h1m49 0h1m-787 1h1m30 0h1m25 0h2m106 0h3m9 0h3m128 0h1m1 0h1m8 0h2m117 0h7m2 0h3m4 0h2m9 0h5m6 0h2m2 0h4m1 0h1m17 0h1m11 0h2m2 0h1m3 0h1m5 0h2m1 0h1m14 0h5m1 0h1m1 0h2m8 0h1m23 0h1m1 0h1m5 0h1m7 0h1m78 0h1m51 0h1m50 0h1m26 0h1m-819 1h1m3 0h1m5 0h1m51 0h2m105 0h5m7 0h3m131 0h8m120 0h5m4 0h2m3 0h4m1 0h1m11 0h1m6 0h3m2 0h1m1 0h1m13 0h1m15 0h2m1 0h2m4 0h1m8 0h1m13 0h1m3 0h1m3 0h3m40 0h1m87 0h1m51 0h1m50 0h1m-793 1h1m3 0h2m7 0h1m27 0h1m21 0h4m104 0h3m6 0h3m260 0h1m1 0h3m3 0h1m10 0h2m11 0h1m7 0h1m4 0h1m2 0h1m7 0h1m1 0h1m1 0h1m8 0h1m4 0h3m1 0h3m3 0h1m8 0h1m17 0h1m1 0h1m1 0h2m2 0h1m37 0h1m6 0h1m5 0h1m126 0h1m20 0h1m18 0h1m12 0h1m3 0h4m-806 1h6m1 0h1m1 0h1m7 0h2m27 0h2m18 0h1m1 0h2m108 0h1m2 0h1m4 0h1m263 0h3m3 0h4m9 0h1m10 0h4m3 0h4m1 0h2m9 0h1m5 0h1m7 0h1m5 0h11m6 0h2m17 0h2m3 0h1m1 0h4m24 0h1m9 0h1m2 0h1m2 0h2m20 0h1m31 0h1m80 0h1m20 0h1m32 0h3m4 0h1m-806 1h1m3 0h2m1 0h1m7 0h4m6 0h2m10 0h1m7 0h1m1 0h2m19 0h1m108 0h4m4 0h1m263 0h3m5 0h2m9 0h2m7 0h1m2 0h1m5 0h1m1 0h2m11 0h3m3 0h1m8 0h1m3 0h1m1 0h1m1 0h1m1 0h1m5 0h1m8 0h1m14 0h4m4 0h2m2 0h2m7 0h1m15 0h1m5 0h2m8 0h1m10 0h1m48 0h2m73 0h1m53 0h1m7 0h1m-810 1h1m8 0h1m9 0h1m10 0h1m17 0h1m2 0h1m19 0h4m104 0h3m1 0h2m2 0h2m264 0h1m1 0h2m3 0h1m2 0h2m15 0h1m2 0h1m6 0h1m1 0h1m11 0h2m1 0h3m6 0h1m2 0h1m5 0h1m1 0h2m1 0h1m4 0h1m8 0h1m16 0h2m7 0h1m25 0h1m4 0h1m11 0h2m75 0h1m55 0h1m54 0h1m7 0h1m-810 1h1m7 0h1m13 0h1m17 0h1m23 0h3m5 0h2m1 0h2m103 0h3m1 0h2m1 0h3m260 0h5m13 0h3m2 0h2m7 0h1m2 0h7m2 0h1m9 0h2m1 0h2m2 0h2m3 0h1m2 0h1m8 0h1m5 0h1m9 0h1m16 0h3m6 0h1m8 0h1m30 0h1m135 0h1m63 0h1m-811 1h1m6 0h2m13 0h1m16 0h2m25 0h1m6 0h1m1 0h1m104 0h4m1 0h2m1 0h1m263 0h2m1 0h1m2 0h1m7 0h1m1 0h1m4 0h2m5 0h1m4 0h1m4 0h2m10 0h2m3 0h2m1 0h2m4 0h1m2 0h1m4 0h1m9 0h1m9 0h2m15 0h1m1 0h1m49 0h1m61 0h1m70 0h1m54 0h1m9 0h2m-807 1h1m15 0h1m17 0h2m15 0h2m7 0h2m3 0h2m1 0h1m1 0h2m104 0h3m267 0h2m1 0h2m3 0h2m2 0h1m1 0h3m3 0h4m6 0h4m16 0h1m4 0h5m5 0h1m14 0h3m9 0h3m14 0h1m1 0h1m5 0h1m4 0h6m11 0h1m15 0h1m39 0h1m98 0h1m54 0h1m11 0h2m-814 1h5m16 0h1m17 0h1m17 0h1m4 0h2m1 0h1m7 0h1m1 0h1m107 0h1m265 0h6m4 0h1m3 0h3m1 0h1m3 0h2m15 0h1m6 0h1m5 0h1m3 0h1m1 0h2m1 0h2m1 0h3m16 0h1m10 0h3m15 0h2m1 0h1m1 0h1m2 0h1m2 0h1m15 0h2m56 0h1m153 0h1m13 0h1m-814 1h2m36 0h1m18 0h1m2 0h2m2 0h1m8 0h1m1 0h2m372 0h1m1 0h7m2 0h4m7 0h1m12 0h1m9 0h2m9 0h1m3 0h1m2 0h4m3 0h1m2 0h1m8 0h2m10 0h1m17 0h2m8 0h1m31 0h1m17 0h1m6 0h1m16 0h1m126 0h2m26 0h1m13 0h2m11 0h1m-827 1h1m13 0h2m40 0h2m1 0h2m1 0h1m7 0h3m375 0h5m3 0h6m4 0h2m3 0h1m3 0h1m15 0h1m1 0h1m10 0h1m4 0h1m2 0h3m5 0h2m7 0h1m2 0h2m7 0h1m18 0h2m34 0h3m3 0h1m24 0h2m43 0h3m95 0h2m28 0h1m14 0h11m-770 1h3m4 0h1m6 0h5m372 0h1m1 0h4m5 0h2m11 0h2m2 0h2m11 0h1m4 0h2m10 0h1m4 0h1m3 0h2m3 0h2m1 0h3m4 0h1m3 0h1m6 0h3m16 0h3m65 0h1m132 0h1m1 0h1m2 0h5m30 0h1m25 0h3m-804 1h1m18 0h1m11 0h2m13 0h3m313 0h2m61 0h2m3 0h1m3 0h2m10 0h1m1 0h3m1 0h1m36 0h2m3 0h1m1 0h4m4 0h1m1 0h3m7 0h1m18 0h2m54 0h2m142 0h6m35 0h1m-784 1h2m4 0h3m14 0h2m14 0h2m3 0h1m9 0h1m311 0h3m1 0h1m60 0h2m2 0h2m1 0h1m3 0h1m1 0h1m11 0h2m2 0h2m23 0h1m18 0h2m4 0h2m1 0h1m2 0h1m6 0h1m18 0h2m1 0h2m38 0h1m45 0h1m101 0h1m1 0h6m1 0h3m37 0h1m-775 1h2m13 0h1m5 0h1m10 0h2m326 0h3m61 0h3m1 0h1m4 0h4m3 0h1m1 0h2m7 0h2m2 0h1m2 0h1m9 0h3m7 0h1m15 0h2m1 0h1m1 0h1m2 0h2m10 0h4m16 0h2m1 0h2m5 0h1m23 0h1m30 0h1m8 0h1m113 0h5m4 0h3m40 0h1m-776 1h3m28 0h1m2 0h2m3 0h3m5 0h1m3 0h1m310 0h2m59 0h1m3 0h2m5 0h1m6 0h2m8 0h1m5 0h1m6 0h5m1 0h1m8 0h2m16 0h2m1 0h2m1 0h2m10 0h4m16 0h2m1 0h1m8 0h1m170 0h9m48 0h1m1 0h1m-811 1h1m9 0h1m2 0h2m19 0h3m21 0h1m8 0h2m3 0h1m2 0h1m2 0h4m1 0h3m309 0h2m62 0h4m13 0h1m7 0h1m11 0h7m9 0h5m5 0h4m5 0h2m4 0h1m9 0h2m1 0h2m17 0h5m2 0h1m60 0h1m59 0h2m51 0h1m56 0h1m-807 1h3m10 0h1m18 0h1m25 0h1m5 0h3m4 0h1m7 0h6m308 0h2m63 0h5m1 0h1m31 0h2m2 0h1m13 0h3m15 0h7m6 0h1m1 0h1m1 0h2m17 0h2m2 0h4m29 0h1m35 0h1m83 0h1m18 0h5m76 0h1m-823 1h1m20 0h1m8 0h1m32 0h1m4 0h1m1 0h3m3 0h1m1 0h3m310 0h1m64 0h2m3 0h1m8 0h1m11 0h2m9 0h2m3 0h3m11 0h3m5 0h2m5 0h1m2 0h1m1 0h4m3 0h3m2 0h1m1 0h1m1 0h1m16 0h4m1 0h2m30 0h1m15 0h1m19 0h1m5 0h1m93 0h1m1 0h1m1 0h1m59 0h1m-802 1h1m55 0h1m5 0h1m4 0h2m8 0h2m311 0h1m63 0h3m1 0h1m2 0h1m7 0h2m11 0h1m9 0h1m2 0h1m1 0h3m14 0h1m5 0h1m4 0h7m1 0h2m3 0h2m3 0h3m1 0h1m16 0h3m34 0h1m41 0h1m91 0h3m4 0h1m55 0h3m29 0h1m-831 1h1m7 0h1m43 0h1m9 0h1m13 0h4m311 0h1m64 0h1m1 0h4m2 0h1m5 0h1m8 0h3m13 0h1m1 0h2m4 0h2m20 0h2m1 0h8m3 0h1m4 0h1m2 0h1m16 0h3m47 0h1m3 0h1m8 0h1m105 0h1m3 0h2m58 0h1m-797 1h2m8 0h5m2 0h1m19 0h3m21 0h1m11 0h5m1 0h2m309 0h1m62 0h1m2 0h6m1 0h1m4 0h2m6 0h1m3 0h1m33 0h1m8 0h4m2 0h5m4 0h1m4 0h1m1 0h1m18 0h2m2 0h1m44 0h1m122 0h1m56 0h3m-794 1h1m7 0h2m3 0h1m19 0h4m1 0h1m13 0h1m6 0h1m11 0h10m307 0h1m62 0h4m1 0h2m2 0h2m4 0h2m6 0h1m4 0h1m14 0h1m16 0h4m4 0h5m6 0h3m2 0h1m5 0h2m1 0h1m17 0h2m44 0h2m179 0h2m-790 1h2m5 0h1m43 0h1m7 0h1m2 0h1m2 0h1m4 0h5m3 0h1m372 0h1m1 0h1m1 0h7m3 0h3m5 0h2m18 0h2m9 0h2m4 0h1m9 0h1m8 0h2m2 0h3m4 0h1m1 0h2m18 0h2m43 0h2m69 0h4m47 0h1m56 0h3m29 0h1m-817 1h2m2 0h1m22 0h1m19 0h3m7 0h3m3 0h1m5 0h2m381 0h5m2 0h1m30 0h2m5 0h1m3 0h2m5 0h1m8 0h1m10 0h1m2 0h3m4 0h2m20 0h3m25 0h1m16 0h1m55 0h1m44 0h1m-705 1h2m23 0h1m21 0h1m12 0h5m1 0h1m1 0h1m346 0h1m34 0h5m10 0h2m30 0h3m6 0h1m5 0h1m3 0h1m9 0h1m3 0h1m27 0h2m45 0h3m40 0h1m-648 1h2m44 0h1m1 0h5m2 0h1m1 0h2m2 0h1m3 0h1m347 0h2m35 0h4m8 0h3m15 0h2m20 0h1m2 0h1m6 0h1m13 0h1m3 0h1m24 0h2m1 0h2m21 0h2m44 0h1m18 0h1m127 0h2m38 0h1m-814 1h2m9 0h1m1 0h1m21 0h4m6 0h2m2 0h4m1 0h1m2 0h1m2 0h1m4 0h2m2 0h1m343 0h2m32 0h1m1 0h5m8 0h1m3 0h4m8 0h1m2 0h1m1 0h1m18 0h3m9 0h2m2 0h1m5 0h4m1 0h1m28 0h2m3 0h1m77 0h1m2 0h1m112 0h1m16 0h1m-773 1h1m10 0h1m13 0h2m9 0h1m6 0h1m4 0h1m2 0h2m2 0h1m5 0h1m3 0h1m1 0h2m342 0h2m34 0h6m5 0h3m3 0h3m9 0h1m5 0h1m17 0h1m1 0h1m13 0h1m5 0h3m2 0h1m27 0h5m15 0h1m5 0h1m43 0h1m15 0h1m120 0h1m13 0h2m41 0h2m-820 1h2m8 0h2m6 0h1m1 0h1m11 0h5m5 0h2m3 0h1m3 0h1m2 0h1m9 0h3m343 0h2m32 0h5m15 0h4m6 0h1m7 0h2m6 0h2m1 0h1m7 0h1m2 0h1m4 0h1m4 0h1m8 0h1m2 0h1m1 0h1m27 0h2m22 0h2m28 0h1m4 0h1m23 0h1m176 0h4m-839 1h1m10 0h1m9 0h1m7 0h1m5 0h6m10 0h1m4 0h1m6 0h1m6 0h2m1 0h2m3 0h1m4 0h3m343 0h2m33 0h2m1 0h2m10 0h1m4 0h1m1 0h2m5 0h1m9 0h1m5 0h3m10 0h1m5 0h2m9 0h1m4 0h4m25 0h1m1 0h1m1 0h1m21 0h1m25 0h1m207 0h1m3 0h1m-837 1h1m9 0h1m10 0h1m7 0h1m7 0h2m9 0h5m3 0h1m5 0h1m7 0h1m4 0h3m5 0h5m339 0h1m1 0h1m34 0h1m1 0h1m1 0h2m8 0h1m12 0h1m11 0h1m23 0h2m5 0h2m3 0h2m1 0h2m1 0h1m26 0h1m2 0h2m20 0h1m-598 1h1m21 0h1m15 0h1m13 0h1m14 0h4m1 0h1m2 0h1m8 0h4m340 0h1m35 0h4m1 0h1m3 0h7m5 0h1m4 0h1m13 0h1m21 0h2m14 0h1m33 0h3m63 0h1m88 0h1m-732 1h1m10 0h1m11 0h1m11 0h1m15 0h2m6 0h1m7 0h1m2 0h1m3 0h1m3 0h3m1 0h1m1 0h3m341 0h1m35 0h3m1 0h2m7 0h3m5 0h1m3 0h1m15 0h1m18 0h4m12 0h1m1 0h1m32 0h3m8 0h1m29 0h1m25 0h3m85 0h1m-730 1h1m9 0h1m12 0h1m9 0h2m16 0h1m14 0h5m1 0h1m5 0h1m3 0h2m343 0h1m35 0h1m1 0h1m2 0h4m3 0h1m2 0h1m8 0h1m17 0h1m4 0h1m10 0h1m1 0h1m2 0h1m13 0h3m31 0h3m39 0h1m49 0h1m62 0h1m46 0h2m-777 1h1m8 0h1m12 0h1m10 0h1m6 0h3m6 0h2m5 0h1m8 0h4m1 0h1m9 0h2m382 0h1m2 0h4m3 0h1m2 0h1m6 0h2m19 0h1m3 0h3m6 0h1m2 0h2m2 0h1m14 0h1m1 0h1m29 0h1m1 0h2m40 0h1m-617 1h1m9 0h1m11 0h1m11 0h1m1 0h1m4 0h3m12 0h1m9 0h6m6 0h2m1 0h1m383 0h1m2 0h1m1 0h3m1 0h1m2 0h2m4 0h1m22 0h1m2 0h3m6 0h1m1 0h1m1 0h1m2 0h2m10 0h1m2 0h1m1 0h1m30 0h1m2 0h1m2 0h1m18 0h1m55 0h1m-655 1h1m9 0h1m12 0h1m23 0h1m19 0h3m1 0h1m6 0h1m1 0h1m387 0h5m1 0h1m7 0h1m23 0h1m13 0h1m1 0h1m2 0h3m8 0h1m5 0h1m28 0h3m2 0h1m20 0h1m39 0h1m17 0h2m132 0h1m-791 1h1m10 0h1m13 0h2m6 0h1m8 0h1m3 0h3m24 0h2m4 0h2m388 0h1m1 0h2m3 0h2m1 0h2m2 0h1m24 0h1m12 0h1m4 0h1m1 0h1m6 0h3m5 0h1m30 0h2m1 0h2m18 0h2m98 0h7m42 0h1m-747 1h1m11 0h1m14 0h1m3 0h1m2 0h1m5 0h1m4 0h4m25 0h1m4 0h1m391 0h8m3 0h1m26 0h1m6 0h4m1 0h1m4 0h2m9 0h2m3 0h1m31 0h1m1 0h2m2 0h1m15 0h2m8 0h3m7 0h1m42 0h1m28 0h3m4 0h1m8 0h2m40 0h1m73 0h1m-821 1h1m11 0h1m15 0h1m1 0h1m2 0h1m3 0h2m1 0h2m7 0h1m2 0h1m19 0h9m389 0h7m1 0h5m26 0h1m7 0h6m14 0h3m2 0h1m32 0h2m13 0h1m1 0h6m1 0h1m14 0h1m13 0h1m5 0h1m25 0h1m23 0h3m4 0h4m11 0h1m32 0h1m6 0h1m80 0h1m-829 1h1m12 0h1m16 0h5m4 0h3m9 0h1m8 0h1m14 0h3m1 0h3m388 0h2m1 0h1m2 0h8m2 0h1m24 0h1m3 0h1m1 0h7m12 0h3m1 0h2m1 0h1m31 0h3m6 0h1m3 0h3m1 0h4m1 0h1m1 0h1m14 0h1m20 0h1m26 0h2m18 0h3m4 0h2m2 0h1m14 0h2m18 0h1m18 0h1m-748 1h1m13 0h1m15 0h5m13 0h1m9 0h4m12 0h3m1 0h1m394 0h1m5 0h1m2 0h3m1 0h1m17 0h6m2 0h1m5 0h3m1 0h2m8 0h2m4 0h1m1 0h4m31 0h1m1 0h1m11 0h1m1 0h1m21 0h1m4 0h1m16 0h1m26 0h1m1 0h3m14 0h8m21 0h1m17 0h1m62 0h1m40 0h2m-820 1h1m18 0h2m11 0h1m1 0h1m12 0h1m17 0h1m341 0h2m51 0h1m5 0h1m4 0h1m1 0h3m10 0h3m1 0h1m8 0h3m3 0h2m1 0h2m7 0h2m2 0h1m6 0h1m27 0h2m2 0h4m11 0h2m39 0h3m2 0h1m31 0h3m5 0h6m46 0h1m13 0h3m86 0h2m1 0h1m-798 1h4m8 0h1m1 0h7m5 0h2m12 0h1m3 0h1m339 0h3m52 0h1m4 0h2m8 0h1m8 0h1m16 0h5m11 0h2m8 0h1m27 0h1m2 0h2m1 0h3m10 0h1m54 0h1m25 0h5m36 0h1m14 0h2m17 0h1m9 0h1m71 0h1m6 0h1m-819 1h1m22 0h5m3 0h3m7 0h2m3 0h1m7 0h1m3 0h1m1 0h4m1 0h1m336 0h2m2 0h1m76 0h1m18 0h4m10 0h1m9 0h1m26 0h1m1 0h5m1 0h1m3 0h5m2 0h1m1 0h2m14 0h1m37 0h2m65 0h2m13 0h1m16 0h1m1 0h1m8 0h1m7 0h2m63 0h1m6 0h1m-818 1h1m26 0h3m12 0h5m6 0h1m2 0h3m3 0h2m338 0h1m1 0h3m75 0h2m1 0h5m20 0h2m3 0h1m5 0h2m2 0h1m27 0h1m1 0h2m9 0h5m4 0h1m1 0h1m116 0h3m12 0h1m18 0h1m8 0h1m1 0h1m70 0h8m-817 1h1m42 0h2m7 0h1m3 0h2m3 0h1m335 0h3m1 0h3m1 0h1m75 0h3m4 0h1m14 0h2m7 0h1m1 0h1m5 0h5m27 0h2m1 0h1m8 0h1m3 0h1m5 0h1m57 0h1m34 0h1m25 0h1m13 0h1m13 0h1m-721 1h1m43 0h12m1 0h1m3 0h2m333 0h1m1 0h2m1 0h3m74 0h6m3 0h2m13 0h1m8 0h1m1 0h1m7 0h1m1 0h1m22 0h6m10 0h2m103 0h1m23 0h1m12 0h2m-705 1h1m42 0h4m1 0h4m343 0h1m2 0h1m2 0h2m72 0h3m2 0h1m6 0h1m13 0h1m8 0h1m2 0h1m2 0h2m2 0h1m22 0h7m10 0h1m13 0h1m22 0h1m26 0h1m65 0h1m6 0h1m6 0h1m-663 1h1m1 0h4m2 0h3m343 0h1m2 0h1m2 0h1m71 0h5m8 0h1m13 0h2m7 0h1m3 0h1m2 0h1m2 0h1m19 0h6m1 0h2m10 0h2m17 0h1m45 0h1m64 0h1m7 0h1m5 0h1m-665 1h5m1 0h2m1 0h5m1 0h2m345 0h1m73 0h1m3 0h1m7 0h1m13 0h2m7 0h1m2 0h1m5 0h1m16 0h1m3 0h2m1 0h1m1 0h2m11 0h1m21 0h1m2 0h1m26 0h1m12 0h2m61 0h3m13 0h2m60 0h3m-727 1h1m10 0h4m341 0h2m1 0h3m72 0h2m3 0h2m3 0h2m2 0h1m2 0h1m17 0h2m1 0h3m3 0h1m16 0h1m2 0h6m14 0h1m17 0h1m6 0h1m9 0h1m17 0h1m12 0h1m5 0h1m55 0h2m14 0h1m17 0h3m38 0h3m3 0h2m-731 1h3m2 0h1m8 0h2m341 0h1m78 0h2m1 0h3m6 0h3m2 0h1m15 0h2m4 0h3m1 0h1m17 0h3m1 0h1m1 0h1m17 0h1m17 0h1m23 0h1m10 0h1m11 0h1m60 0h1m15 0h1m18 0h2m1 0h2m25 0h3m6 0h1m9 0h3m36 0h2m-779 1h1m5 0h3m12 0h1m1 0h1m338 0h3m78 0h1m1 0h1m1 0h2m8 0h1m1 0h1m14 0h1m3 0h1m4 0h1m1 0h1m18 0h4m74 0h1m12 0h1m22 0h1m35 0h1m15 0h1m19 0h3m9 0h11m4 0h2m3 0h3m1 0h2m13 0h3m-744 1h2m2 0h4m1 0h1m4 0h1m6 0h2m1 0h1m337 0h1m2 0h1m3 0h1m73 0h1m1 0h1m1 0h2m7 0h2m1 0h2m14 0h1m1 0h2m5 0h1m19 0h3m76 0h1m34 0h1m35 0h2m10 0h1m2 0h1m22 0h1m6 0h3m1 0h1m10 0h3m23 0h1m2 0h1m-745 1h1m3 0h2m4 0h1m2 0h1m1 0h1m4 0h2m4 0h1m326 0h2m7 0h1m4 0h1m2 0h3m71 0h3m10 0h1m2 0h1m17 0h1m23 0h2m1 0h1m19 0h1m59 0h1m18 0h1m12 0h1m38 0h1m13 0h1m1 0h1m18 0h2m6 0h1m45 0h1m-742 1h1m3 0h1m3 0h4m1 0h1m1 0h3m1 0h1m328 0h3m6 0h5m1 0h1m2 0h2m73 0h3m8 0h2m2 0h1m16 0h3m3 0h1m16 0h1m1 0h1m1 0h3m18 0h1m78 0h1m52 0h1m12 0h1m19 0h8m47 0h1m-746 1h1m1 0h2m4 0h1m4 0h1m3 0h7m1 0h1m329 0h1m1 0h1m7 0h1m6 0h1m6 0h2m64 0h3m8 0h1m3 0h5m9 0h1m7 0h1m16 0h1m3 0h3m9 0h1m88 0h1m52 0h1m30 0h2m56 0h1m-749 1h1m1 0h2m5 0h2m5 0h4m1 0h1m2 0h1m1 0h1m327 0h1m12 0h1m7 0h2m4 0h3m64 0h1m8 0h1m18 0h1m6 0h1m17 0h2m1 0h3m166 0h2m-677 1h3m1 0h3m3 0h1m8 0h2m2 0h1m333 0h1m6 0h1m7 0h2m2 0h3m5 0h1m1 0h1m64 0h2m5 0h1m1 0h1m21 0h1m1 0h1m18 0h5m12 0h1m33 0h1m107 0h1m12 0h2m75 0h1m-752 1h1m1 0h1m2 0h2m7 0h2m5 0h3m331 0h1m8 0h1m12 0h7m2 0h1m63 0h2m3 0h2m25 0h1m20 0h4m46 0h1m94 0h1m12 0h1m11 0h2m16 0h1m59 0h1m-754 1h1m1 0h3m13 0h2m3 0h2m341 0h2m12 0h6m2 0h1m64 0h1m1 0h1m1 0h1m9 0h1m8 0h1m5 0h3m20 0h1m7 0h3m38 0h2m106 0h2m9 0h3m15 0h2m28 0h1m28 0h2m1 0h1m-755 1h12m8 0h1m3 0h1m1 0h1m337 0h1m2 0h1m1 0h1m1 0h1m12 0h4m67 0h3m11 0h3m7 0h5m19 0h4m47 0h1m1 0h1m105 0h1m1 0h1m8 0h1m1 0h3m13 0h3m60 0h1m-758 1h1m1 0h2m1 0h1m1 0h1m3 0h1m1 0h2m6 0h7m1 0h1m335 0h8m7 0h7m4 0h1m66 0h4m2 0h2m7 0h1m1 0h1m5 0h1m4 0h7m13 0h1m1 0h1m46 0h2m108 0h1m1 0h1m7 0h2m13 0h1m1 0h3m62 0h1m-761 1h1m2 0h3m1 0h2m2 0h1m13 0h1m1 0h4m337 0h3m2 0h1m13 0h1m1 0h1m72 0h1m2 0h1m13 0h1m1 0h3m2 0h1m4 0h1m17 0h1m1 0h1m17 0h1m26 0h4m108 0h1m8 0h1m1 0h2m11 0h3m65 0h1m-765 1h2m2 0h1m1 0h1m14 0h1m6 0h1m1 0h3m2 0h1m334 0h1m2 0h2m20 0h4m65 0h3m17 0h1m11 0h1m15 0h1m1 0h2m43 0h1m1 0h1m52 0h7m50 0h1m9 0h1m16 0h1m65 0h1m-767 1h1m1 0h1m1 0h4m2 0h1m11 0h4m2 0h4m2 0h2m336 0h2m1 0h2m3 0h6m5 0h4m4 0h1m67 0h2m8 0h3m18 0h1m15 0h5m11 0h1m15 0h3m1 0h1m1 0h2m1 0h5m112 0h1m9 0h2m16 0h1m30 0h1m34 0h1m-769 1h7m1 0h1m1 0h1m13 0h2m1 0h1m1 0h2m1 0h2m1 0h1m2 0h1m334 0h7m9 0h8m3 0h3m66 0h2m3 0h2m3 0h4m1 0h1m4 0h2m2 0h4m3 0h2m14 0h3m16 0h1m15 0h3m3 0h1m126 0h1m17 0h1m30 0h1m22 0h1m11 0h1m5 0h1m25 0h1m-803 1h2m1 0h2m5 0h1m2 0h1m12 0h4m1 0h1m5 0h4m338 0h4m1 0h3m5 0h3m1 0h3m2 0h3m1 0h1m64 0h1m1 0h1m1 0h2m1 0h1m2 0h4m2 0h2m7 0h2m5 0h1m6 0h1m10 0h2m32 0h2m119 0h1m10 0h1m17 0h1m64 0h1m32 0h1m-803 1h3m4 0h2m13 0h3m1 0h1m2 0h4m4 0h2m341 0h1m4 0h2m4 0h3m3 0h1m3 0h2m67 0h5m1 0h2m3 0h2m3 0h1m1 0h1m6 0h3m4 0h2m122 0h1m42 0h2m3 0h1m10 0h1m18 0h1m34 0h1m29 0h1m11 0h1m16 0h1m4 0h1m-805 1h2m19 0h4m3 0h1m1 0h4m3 0h1m342 0h1m1 0h1m4 0h4m3 0h1m3 0h1m5 0h1m68 0h3m2 0h2m2 0h1m11 0h1m1 0h1m2 0h1m3 0h2m164 0h2m2 0h2m11 0h1m17 0h3m62 0h1m34 0h1m-807 1h1m22 0h1m2 0h1m5 0h9m346 0h1m2 0h1m1 0h1m3 0h1m1 0h4m2 0h1m72 0h7m12 0h1m1 0h1m3 0h2m1 0h1m167 0h1m14 0h2m15 0h1m1 0h3m30 0h1m29 0h1m36 0h1m-808 1h3m20 0h1m8 0h2m2 0h3m1 0h1m344 0h4m3 0h2m1 0h1m1 0h1m4 0h1m1 0h1m72 0h6m13 0h3m4 0h1m167 0h3m13 0h2m15 0h2m56 0h1m5 0h2m38 0h1m-811 1h4m1 0h1m9 0h2m8 0h2m5 0h1m6 0h1m3 0h1m341 0h2m1 0h7m2 0h1m9 0h1m73 0h2m15 0h1m1 0h1m3 0h3m6 0h1m147 0h1m10 0h3m15 0h1m16 0h1m56 0h1m4 0h1m35 0h1m5 0h1m-826 1h2m14 0h1m1 0h2m1 0h2m1 0h1m13 0h1m2 0h1m4 0h2m9 0h3m338 0h9m14 0h2m72 0h1m15 0h2m1 0h1m4 0h1m1 0h1m137 0h4m12 0h1m8 0h2m18 0h1m16 0h1m59 0h1m42 0h1m-826 1h1m1 0h1m13 0h6m10 0h1m5 0h1m1 0h1m6 0h2m5 0h1m1 0h3m1 0h2m1 0h1m332 0h1m1 0h1m6 0h1m6 0h2m8 0h1m74 0h1m14 0h2m151 0h1m18 0h1m26 0h2m9 0h1m22 0h1m35 0h1m42 0h1m-827 1h2m2 0h1m16 0h2m10 0h5m1 0h1m2 0h3m4 0h2m10 0h5m335 0h1m5 0h1m5 0h3m8 0h1m243 0h1m15 0h2m23 0h4m1 0h2m8 0h1m57 0h1m41 0h2m-827 1h1m21 0h3m10 0h2m1 0h2m3 0h3m6 0h5m6 0h4m334 0h1m3 0h3m5 0h5m8 0h1m106 0h1m136 0h1m14 0h1m21 0h1m1 0h1m1 0h1m1 0h1m3 0h1m7 0h1m57 0h1m40 0h1m-828 1h3m6 0h1m15 0h1m1 0h8m4 0h2m1 0h1m3 0h3m1 0h1m3 0h1m12 0h1m341 0h1m5 0h6m9 0h1m2 0h1m69 0h8m4 0h1m158 0h1m13 0h2m20 0h2m8 0h1m6 0h1m32 0h1m10 0h1m13 0h1m-788 1h2m9 0h1m13 0h2m3 0h1m1 0h1m1 0h1m1 0h1m6 0h2m3 0h3m1 0h4m1 0h2m2 0h1m8 0h1m344 0h5m1 0h2m9 0h4m82 0h1m172 0h1m31 0h1m5 0h1m56 0h1m32 0h1m-820 1h1m9 0h1m20 0h1m1 0h1m2 0h2m2 0h4m9 0h2m11 0h1m3 0h1m329 0h4m11 0h1m6 0h4m7 0h2m257 0h1m31 0h6m55 0h1m-786 1h1m9 0h1m20 0h5m11 0h1m15 0h1m4 0h3m341 0h5m2 0h1m2 0h2m11 0h1m256 0h1m31 0h1m59 0h1m-785 1h1m29 0h2m1 0h3m11 0h1m19 0h4m336 0h1m7 0h4m4 0h1m12 0h1m283 0h1m3 0h1m49 0h1m7 0h2m26 0h1m-811 1h1m8 0h1m21 0h2m1 0h2m7 0h1m18 0h2m2 0h5m336 0h2m4 0h1m2 0h3m5 0h2m10 0h1m255 0h1m60 0h1m27 0h1m-774 1h1m23 0h1m2 0h7m24 0h1m2 0h2m336 0h2m5 0h2m9 0h1m11 0h1m255 0h2m58 0h1m26 0h1m11 0h1m-793 1h2m5 0h2m26 0h7m23 0h2m4 0h1m351 0h1m13 0h3m253 0h2m84 0h1m-778 1h5m28 0h2m2 0h3m11 0h2m11 0h1m2 0h4m341 0h2m4 0h1m1 0h3m13 0h1m1 0h1m252 0h1m84 0h1m48 0h4m-793 1h4m1 0h1m9 0h1m3 0h1m8 0h1m1 0h2m1 0h1m1 0h1m340 0h2m4 0h1m17 0h1m253 0h2m83 0h1m16 0h1m31 0h1m4 0h2m-794 1h1m1 0h3m9 0h1m1 0h4m2 0h2m3 0h1m2 0h1m3 0h1m365 0h1m252 0h1m82 0h1m16 0h3m18 0h2m9 0h2m-787 1h1m2 0h1m9 0h2m12 0h7m366 0h1m252 0h1m79 0h3m-737 1h2m3 0h1m3 0h1m5 0h1m12 0h1m2 0h4m338 0h1m27 0h1m61 0h2m189 0h1m76 0h3m-734 1h1m5 0h1m6 0h1m2 0h8m8 0h2m330 0h1m9 0h1m27 0h1m59 0h1m190 0h2m74 0h2m1 0h1m-727 1h2m5 0h1m1 0h2m3 0h1m2 0h1m8 0h3m329 0h1m10 0h1m26 0h1m57 0h2m191 0h3m67 0h6m-721 1h1m6 0h2m5 0h2m3 0h6m1 0h2m329 0h6m5 0h1m25 0h2m54 0h2m194 0h3m2 0h1m62 0h1m12 0h1m7 0h1m25 0h2m14 0h1m-778 1h1m6 0h2m6 0h2m2 0h6m1 0h2m325 0h4m4 0h3m4 0h1m12 0h2m12 0h2m52 0h1m194 0h1m1 0h3m60 0h5m28 0h1m16 0h2m1 0h1m14 0h1m-780 1h1m1 0h3m4 0h2m8 0h1m3 0h1m2 0h1m1 0h2m321 0h5m10 0h1m4 0h1m8 0h2m2 0h1m14 0h2m49 0h1m194 0h1m2 0h2m60 0h1m49 0h1m4 0h1m-763 1h1m2 0h1m13 0h1m5 0h1m321 0h4m3 0h2m9 0h1m1 0h1m3 0h2m1 0h5m4 0h1m16 0h1m43 0h5m196 0h2m2 0h2m55 0h3m49 0h1m5 0h1m-766 1h1m1 0h1m1 0h1m16 0h1m3 0h2m321 0h2m6 0h1m10 0h1m1 0h1m2 0h3m9 0h1m17 0h1m44 0h2m198 0h1m1 0h1m55 0h2m51 0h1m6 0h1m-766 1h7m17 0h1m2 0h1m320 0h1m18 0h1m5 0h1m11 0h1m15 0h4m41 0h1m198 0h3m55 0h2m61 0h1m-762 1h2m14 0h2m1 0h1m1 0h2m319 0h1m20 0h1m16 0h1m17 0h2m40 0h1m1 0h1m167 0h1m27 0h1m1 0h1m2 0h1m53 0h1m63 0h1m-764 1h1m1 0h2m13 0h1m1 0h4m321 0h1m20 0h1m16 0h1m18 0h1m39 0h1m1 0h1m162 0h1m32 0h4m55 0h1m63 0h1m-763 1h1m2 0h3m13 0h2m1 0h2m320 0h2m20 0h1m15 0h1m18 0h2m37 0h1m6 0h2m1 0h1m178 0h1m6 0h2m4 0h1m54 0h1m22 0h1m41 0h1m-763 1h1m3 0h3m11 0h4m322 0h3m18 0h2m16 0h1m18 0h1m36 0h1m4 0h3m1 0h1m1 0h2m184 0h2m58 0h1m24 0h1m37 0h1m1 0h1m-759 1h1m1 0h2m12 0h1m1 0h1m321 0h3m1 0h1m4 0h3m12 0h1m15 0h1m19 0h2m34 0h1m7 0h1m1 0h1m185 0h4m25 0h1m30 0h1m37 0h1m23 0h2m22 0h1m-778 1h3m8 0h1m2 0h2m325 0h2m7 0h1m11 0h4m34 0h1m34 0h1m6 0h3m186 0h1m2 0h2m53 0h2m-691 1h2m1 0h1m6 0h1m4 0h1m323 0h1m2 0h1m8 0h1m9 0h3m37 0h2m33 0h1m6 0h1m1 0h1m188 0h1m6 0h1m45 0h2m-685 1h1m8 0h1m324 0h1m3 0h1m9 0h1m9 0h1m17 0h1m20 0h1m34 0h1m198 0h1m5 0h3m-639 1h3m4 0h1m323 0h2m15 0h1m7 0h1m18 0h1m20 0h2m33 0h1m205 0h1m-638 1h2m4 0h1m321 0h3m17 0h2m5 0h1m19 0h1m22 0h1m33 0h1m205 0h1m-638 1h1m2 0h2m4 0h2m316 0h2m1 0h1m18 0h1m3 0h2m19 0h1m21 0h2m33 0h1m205 0h1m63 0h2m53 0h1m-756 1h2m324 0h1m21 0h2m2 0h3m18 0h1m21 0h3m8 0h1m24 0h1m203 0h2m85 0h2m30 0h1m-429 1h2m9 0h3m12 0h3m50 0h2m1 0h1m225 0h3m85 0h1m-397 1h2m9 0h1m1 0h1m13 0h1m14 0h3m1 0h2m23 0h4m2 0h3m1 0h2m23 0h1m201 0h1m2 0h1m116 0h1m-429 1h2m9 0h4m12 0h1m13 0h1m29 0h1m1 0h1m1 0h2m5 0h1m1 0h2m21 0h1m200 0h1m2 0h1m83 0h1m31 0h1m-428 1h2m9 0h1m1 0h2m6 0h1m6 0h1m43 0h1m1 0h1m1 0h1m6 0h1m23 0h1m199 0h1m4 0h1m82 0h1m-396 1h2m19 0h2m5 0h1m11 0h1m43 0h1m23 0h1m197 0h1m5 0h1m-313 1h1m20 0h1m6 0h1m10 0h1m44 0h1m22 0h1m196 0h2m7 0h1m-314 1h1m12 0h1m7 0h1m6 0h2m8 0h1m44 0h1m23 0h1m196 0h2m8 0h1m57 0h2m-373 1h1m1 0h2m16 0h1m6 0h1m1 0h1m7 0h1m44 0h1m22 0h1m197 0h1m9 0h1m-314 1h1m19 0h1m6 0h1m10 0h1m43 0h1m21 0h1m197 0h1m10 0h1m69 0h1m-384 1h2m25 0h1m11 0h1m41 0h3m18 0h2m197 0h1m1 0h1m9 0h1m76 0h1m38 0h2m-431 1h5m22 0h1m12 0h1m40 0h1m19 0h1m199 0h1m1 0h1m9 0h1m117 0h3m-431 1h3m21 0h1m11 0h1m39 0h2m18 0h2m199 0h1m13 0h1m119 0h2m-433 1h2m22 0h1m11 0h1m39 0h2m17 0h1m201 0h2m12 0h1m121 0h1m-434 1h2m20 0h3m10 0h1m40 0h1m17 0h1m199 0h1m1 0h1m15 0h1m121 0h2m-437 1h2m14 0h2m5 0h2m11 0h1m39 0h1m17 0h1m201 0h1m16 0h1m37 0h1m85 0h1m-438 1h3m21 0h3m8 0h1m39 0h2m16 0h1m200 0h2m17 0h1m35 0h2m87 0h2m-441 1h1m24 0h1m1 0h1m8 0h1m38 0h3m15 0h1m198 0h3m19 0h1m33 0h1m26 0h1m-376 1h1m24 0h1m1 0h1m7 0h1m39 0h3m13 0h2m199 0h2m20 0h1m30 0h1m1 0h1m64 0h1m-415 1h3m21 0h3m9 0h1m39 0h3m2 0h4m7 0h1m199 0h2m22 0h1m32 0h1m64 0h1m-415 1h3m20 0h3m10 0h1m41 0h4m3 0h1m4 0h2m199 0h2m24 0h2m28 0h2m31 0h1m34 0h1m-417 1h1m6 0h1m11 0h1m2 0h2m2 0h1m10 0h1m48 0h1m3 0h1m200 0h1m28 0h2m24 0h2m25 0h2m7 0h1m34 0h1m-419 1h1m1 0h2m10 0h1m5 0h3m1 0h1m13 0h1m49 0h3m200 0h1m3 0h1m3 0h1m3 0h4m16 0h1m21 0h2m6 0h1m2 0h1m28 0h2m31 0h1m-419 1h3m11 0h3m3 0h1m1 0h1m16 0h1m3 0h4m40 0h1m1 0h1m197 0h4m8 0h2m2 0h3m18 0h1m19 0h1m13 0h1m6 0h1m21 0h1m31 0h1m-419 1h2m14 0h3m19 0h1m1 0h2m4 0h2m40 0h1m199 0h3m13 0h1m19 0h1m8 0h1m8 0h1m23 0h1m17 0h2m32 0h1m-418 1h1m15 0h1m30 0h1m36 0h1m1 0h1m176 0h1m22 0h2m36 0h1m14 0h2m23 0h1m53 0h1m-419 1h3m11 0h1m33 0h1m35 0h1m1 0h1m172 0h6m18 0h5m23 0h1m13 0h3m5 0h6m5 0h1m39 0h1m-385 1h1m10 0h4m34 0h1m33 0h1m2 0h1m170 0h2m1 0h1m3 0h3m11 0h5m4 0h1m23 0h1m16 0h1m1 0h4m10 0h1m38 0h1m19 0h1m-403 1h4m6 0h2m2 0h1m67 0h1m2 0h1m168 0h2m9 0h3m7 0h3m43 0h2m-321 1h2m3 0h4m3 0h2m32 0h3m30 0h1m3 0h1m166 0h2m13 0h2m5 0h1m31 0h1m7 0h2m26 0h1m73 0h4m-419 1h1m2 0h3m38 0h3m32 0h2m2 0h1m164 0h3m17 0h5m32 0h1m1 0h2m6 0h2m93 0h4m5 0h3m-378 1h1m14 0h2m1 0h4m11 0h2m3 0h1m151 0h1m12 0h2m51 0h1m4 0h1m36 0h1m7 0h1m31 0h1m25 0h2m11 0h1m-379 1h1m8 0h7m7 0h2m8 0h1m5 0h1m149 0h7m6 0h2m47 0h1m5 0h2m3 0h2m23 0h1m8 0h1m10 0h1m15 0h1m40 0h1m14 0h1m-381 1h1m7 0h2m16 0h4m3 0h1m6 0h1m153 0h1m2 0h6m86 0h1m8 0h1m65 0h1m15 0h1m-381 1h1m6 0h1m24 0h1m7 0h1m159 0h1m1 0h1m60 0h2m5 0h1m18 0h2m73 0h1m15 0h1m-382 1h1m6 0h1m33 0h1m160 0h1m69 0h1m31 0h1m18 0h1m41 0h1m-366 1h1m4 0h2m34 0h1m229 0h1m9 0h1m22 0h1m18 0h2m40 0h1m17 0h1m-385 1h1m4 0h1m35 0h1m229 0h1m94 0h1m18 0h1m-386 1h1m3 0h1m35 0h1m219 0h1m41 0h1m20 0h5m15 0h1m22 0h1m19 0h2m-389 1h6m35 0h1m287 0h2m27 0h1m8 0h1m21 0h2m-392 1h1m40 0h1m225 0h1m64 0h1m35 0h1m23 0h1m-394 1h1m40 0h1m242 0h1m49 0h1m33 0h1m25 0h1m-395 1h1m37 0h3m230 0h1m12 0h1m50 0h2m30 0h1m-370 1h2m37 0h1m247 0h1m51 0h2m28 0h1m28 0h1m-399 1h1m33 0h5m248 0h1m54 0h1m56 0h1m-369 1h1m1 0h1m228 0h1m7 0h1m15 0h1m7 0h1m14 0h1m23 0h1m33 0h1m31 0h1m-139 1h1m24 0h1m17 0h1m62 0h1m31 0h1m-140 1h1m24 0h1m7 0h1m20 0h3m49 0h1m33 0h1m-121 1h1m4 0h1m22 0h1m57 0h1m33 0h1m-134 1h1m16 0h1m3 0h1m76 0h1m34 0h1m-242 1h2m122 0h1m3 0h1m9 0h1m11 0h2m1 0h1m29 0h2m21 0h1m34 0h1m-240 1h1m100 0h1m21 0h1m1 0h1m10 0h1m5 0h1m9 0h3m19 0h2m27 0h1m35 0h1m-296 1h1m56 0h3m99 0h2m16 0h1m5 0h4m18 0h1m1 0h2m20 0h1m28 0h2m36 0h1m-240 1h2m1 0h1m116 0h2m2 0h1m2 0h3m12 0h1m21 0h1m2 0h1m14 0h1m6 0h12m38 0h1m-370 1h2m127 0h1m1 0h2m107 0h2m7 0h1m8 0h1m9 0h1m1 0h2m22 0h1m2 0h1m17 0h4m51 0h1m-381 1h3m4 0h3m1 0h1m75 0h1m39 0h1m14 0h5m99 0h1m2 0h2m8 0h1m7 0h2m3 0h1m25 0h2m8 0h1m14 0h2m55 0h1m-386 1h5m3 0h4m3 0h1m77 0h1m38 0h1m19 0h3m95 0h2m4 0h1m3 0h4m8 0h1m1 0h1m29 0h1m9 0h1m11 0h2m58 0h1m-390 1h4m13 0h1m118 0h1m19 0h1m1 0h1m2 0h1m92 0h1m5 0h4m16 0h1m23 0h1m12 0h1m10 0h1m60 0h1m-395 1h1m1 0h3m17 0h1m111 0h1m7 0h1m19 0h3m1 0h1m99 0h1m4 0h1m24 0h1m7 0h1m28 0h1m59 0h1m-393 1h1m19 0h1m120 0h1m22 0h3m73 0h2m22 0h1m5 0h1m33 0h1m17 0h1m10 0h1m59 0h1m-395 1h1m19 0h1m98 0h1m22 0h1m24 0h5m47 0h2m22 0h1m6 0h1m1 0h2m8 0h3m1 0h3m2 0h1m26 0h2m34 0h1m-336 1h1m61 0h1m30 0h1m26 0h2m22 0h1m26 0h1m47 0h3m6 0h1m15 0h1m18 0h3m3 0h2m1 0h1m16 0h1m8 0h1m36 0h1m60 0h1m-397 1h1m2 0h1m10 0h1m48 0h1m29 0h1m6 0h1m4 0h1m24 0h1m13 0h1m27 0h2m42 0h3m1 0h1m18 0h1m20 0h3m1 0h6m27 0h1m9 0h1m10 0h2m15 0h1m60 0h1m-394 1h2m58 0h1m29 0h1m6 0h1m3 0h2m39 0h1m27 0h3m4 0h1m4 0h2m28 0h2m2 0h2m9 0h1m4 0h1m19 0h5m1 0h1m8 0h1m11 0h1m13 0h1m2 0h1m6 0h2m22 0h1m5 0h1m60 0h1m-397 1h1m62 0h1m28 0h1m5 0h5m1 0h1m6 0h1m22 0h2m8 0h1m29 0h1m1 0h4m3 0h1m4 0h1m1 0h1m12 0h2m2 0h1m3 0h5m2 0h1m9 0h1m1 0h1m12 0h1m6 0h4m6 0h1m37 0h1m5 0h1m30 0h1m60 0h1m-396 1h1m36 0h1m23 0h1m36 0h1m10 0h2m9 0h1m10 0h2m10 0h1m29 0h1m5 0h19m3 0h1m1 0h1m1 0h2m1 0h3m6 0h1m3 0h2m3 0h1m22 0h1m2 0h1m6 0h1m20 0h1m16 0h1m9 0h1m8 0h1m17 0h1m61 0h1m-397 1h1m34 0h2m24 0h1m36 0h1m10 0h1m10 0h1m6 0h4m1 0h1m11 0h1m29 0h2m4 0h2m6 0h1m2 0h4m1 0h12m1 0h1m7 0h1m15 0h1m15 0h1m1 0h1m2 0h1m4 0h1m11 0h2m7 0h1m5 0h1m18 0h4m7 0h1m6 0h1m9 0h1m63 0h1m-397 1h1m6 0h1m2 0h1m22 0h1m75 0h1m9 0h1m4 0h2m17 0h1m36 0h1m11 0h1m3 0h1m8 0h1m3 0h1m5 0h2m32 0h2m2 0h1m12 0h1m11 0h1m8 0h2m26 0h1m16 0h1m63 0h1m-397 1h3m5 0h3m20 0h2m76 0h2m6 0h3m1 0h3m20 0h1m69 0h3m17 0h1m15 0h1m5 0h1m10 0h1m10 0h1m12 0h1m5 0h1m32 0h2m64 0h1m-394 1h2m1 0h1m1 0h1m21 0h1m80 0h1m3 0h2m3 0h1m1 0h1m21 0h2m70 0h2m16 0h1m2 0h1m5 0h1m6 0h1m5 0h1m21 0h1m2 0h1m6 0h1m8 0h1m9 0h2m6 0h11m3 0h1m67 0h1m-389 1h2m17 0h2m82 0h3m2 0h1m4 0h1m10 0h1m12 0h2m68 0h2m18 0h1m13 0h1m17 0h1m9 0h1m11 0h1m4 0h2m11 0h1m4 0h2m11 0h3m69 0h1m-388 1h6m9 0h1m88 0h2m31 0h5m64 0h1m1 0h1m30 0h1m1 0h1m11 0h1m10 0h1m2 0h1m7 0h1m21 0h2m2 0h1m85 0h1m-382 1h2m4 0h1m89 0h2m12 0h1m25 0h4m60 0h3m17 0h1m12 0h3m20 0h3m16 0h1m4 0h1m7 0h4m2 0h9m-301 1h1m2 0h1m89 0h1m44 0h1m59 0h1m12 0h1m6 0h1m12 0h2m2 0h1m34 0h5m14 0h3m4 0h2m1 0h1m80 0h1m-380 1h2m91 0h2m43 0h2m57 0h1m32 0h1m1 0h1m1 0h1m1 0h2m8 0h1m2 0h1m3 0h1m14 0h1m2 0h1m5 0h1m10 0h1m6 0h1m1 0h1m81 0h1m-379 1h1m138 0h1m56 0h4m29 0h1m6 0h1m14 0h1m1 0h1m12 0h3m7 0h1m9 0h1m7 0h5m79 0h1m-378 1h2m137 0h1m56 0h1m1 0h1m28 0h1m1 0h1m4 0h2m30 0h1m14 0h1m3 0h1m6 0h3m1 0h2m79 0h1m-376 1h1m137 0h1m56 0h1m23 0h1m8 0h2m15 0h3m8 0h2m24 0h1m9 0h1m2 0h2m79 0h1m-376 1h2m135 0h1m56 0h1m14 0h1m8 0h1m10 0h1m12 0h2m8 0h1m3 0h3m10 0h1m21 0h2m1 0h1m80 0h1m-375 1h1m93 0h10m33 0h1m57 0h1m32 0h2m20 0h1m5 0h2m3 0h1m12 0h1m15 0h1m83 0h1m-374 1h1m88 0h4m10 0h1m33 0h2m54 0h2m11 0h1m4 0h1m17 0h3m3 0h1m3 0h1m2 0h1m12 0h2m3 0h2m2 0h1m8 0h1m3 0h1m11 0h1m83 0h1m-373 1h1m87 0h1m14 0h1m34 0h2m19 0h1m32 0h2m16 0h1m12 0h1m6 0h1m7 0h1m4 0h1m1 0h1m9 0h2m2 0h1m1 0h1m18 0h1m7 0h1m83 0h1m-373 1h1m86 0h1m16 0h1m35 0h2m15 0h3m33 0h1m16 0h1m20 0h3m21 0h1m3 0h4m17 0h2m6 0h1m83 0h1m-373 1h1m85 0h1m18 0h1m14 0h1m21 0h2m11 0h2m2 0h1m34 0h1m15 0h1m17 0h1m5 0h9m8 0h1m1 0h3m2 0h2m10 0h1m11 0h1m89 0h1m-372 1h1m84 0h1m18 0h1m14 0h1m5 0h1m17 0h3m4 0h4m4 0h2m34 0h1m32 0h1m14 0h1m10 0h2m3 0h1m10 0h1m9 0h1m2 0h1m-283 1h1m84 0h1m19 0h1m14 0h1m4 0h1m20 0h4m10 0h2m32 0h1m1 0h2m6 0h1m6 0h1m9 0h1m15 0h2m4 0h2m25 0h1m8 0h1m91 0h1m-371 1h1m82 0h1m21 0h1m13 0h1m4 0h1m36 0h13m1 0h4m15 0h3m23 0h1m8 0h2m13 0h1m4 0h3m14 0h1m2 0h1m8 0h1m91 0h1m-371 1h1m104 0h1m17 0h1m25 0h1m5 0h1m1 0h1m21 0h3m14 0h2m3 0h1m18 0h1m8 0h3m1 0h1m1 0h1m9 0h1m10 0h4m6 0h1m2 0h1m100 0h1m-370 1h1m80 0h1m23 0h1m49 0h1m25 0h2m10 0h2m1 0h4m2 0h1m7 0h1m20 0h1m1 0h7m3 0h1m1 0h3m8 0h2m7 0h1m2 0h1m13 0h1m86 0h1m-370 1h1m79 0h1m25 0h1m48 0h1m27 0h2m15 0h4m6 0h1m5 0h1m16 0h3m12 0h2m3 0h1m4 0h2m4 0h1m3 0h1m13 0h1m85 0h1m-368 1h1m78 0h1m25 0h1m47 0h2m22 0h2m5 0h1m17 0h6m3 0h2m2 0h1m13 0h1m2 0h3m3 0h4m5 0h1m4 0h3m3 0h1m5 0h1m2 0h1m13 0h2m83 0h1m-289 1h1m27 0h3m61 0h2m3 0h2m2 0h2m3 0h1m19 0h2m2 0h1m1 0h3m1 0h1m19 0h2m2 0h1m8 0h1m4 0h4m11 0h1m3 0h2m9 0h1m83 0h1m-366 1h1m75 0h1m32 0h3m55 0h2m2 0h3m7 0h1m27 0h1m2 0h4m20 0h2m7 0h1m7 0h4m24 0h1m81 0h2m-290 1h1m36 0h2m44 0h1m6 0h2m15 0h2m25 0h2m34 0h1m7 0h1m1 0h1m11 0h1m2 0h2m9 0h1m80 0h1m-362 1h1m72 0h1m20 0h1m18 0h3m41 0h1m5 0h1m45 0h1m7 0h2m4 0h1m19 0h1m7 0h1m3 0h1m9 0h1m94 0h1m-361 1h1m1 0h1m69 0h1m43 0h2m14 0h1m30 0h1m45 0h1m6 0h2m3 0h1m7 0h4m10 0h1m33 0h1m82 0h1m-361 1h1m2 0h4m63 0h1m25 0h1m21 0h3m11 0h1m31 0h1m44 0h1m8 0h3m10 0h1m4 0h1m5 0h2m32 0h3m80 0h1m-359 1h1m5 0h2m61 0h1m21 0h1m3 0h1m24 0h2m41 0h1m45 0h1m10 0h3m10 0h1m1 0h7m10 0h3m19 0h1m82 0h1m-358 1h1m68 0h1m20 0h1m5 0h1m25 0h3m11 0h4m23 0h1m45 0h2m10 0h2m8 0h1m9 0h1m1 0h1m7 0h2m19 0h2m80 0h3m-357 1h1m67 0h1m21 0h1m6 0h1m27 0h2m4 0h5m4 0h2m23 0h2m44 0h1m4 0h1m6 0h5m13 0h1m8 0h1m16 0h1m5 0h2m78 0h1m-354 1h1m51 0h3m12 0h2m20 0h1m7 0h1m29 0h4m11 0h2m1 0h4m18 0h3m42 0h1m3 0h2m10 0h3m9 0h1m8 0h1m4 0h2m16 0h2m71 0h8m-304 1h3m3 0h2m32 0h1m7 0h1m51 0h1m20 0h2m59 0h1m6 0h2m27 0h5m3 0h1m67 0h2m8 0h1m-354 1h1m46 0h2m8 0h9m24 0h1m6 0h1m52 0h2m6 0h1m13 0h2m58 0h3m3 0h4m23 0h1m7 0h2m67 0h1m11 0h1m-309 1h1m43 0h1m61 0h1m2 0h1m3 0h1m14 0h1m60 0h2m2 0h1m1 0h1m9 0h5m8 0h1m5 0h3m68 0h1m13 0h1m-356 1h1m43 0h2m45 0h1m6 0h1m54 0h2m5 0h1m13 0h1m54 0h1m8 0h2m1 0h1m8 0h4m3 0h1m3 0h1m1 0h2m1 0h6m84 0h1m-357 1h1m42 0h1m47 0h1m6 0h1m62 0h1m13 0h1m63 0h1m10 0h1m7 0h3m3 0h2m2 0h1m70 0h1m17 0h2m-359 1h1m41 0h1m48 0h1m6 0h1m62 0h1m14 0h1m63 0h1m15 0h2m1 0h1m2 0h2m1 0h3m91 0h2m-361 1h1m40 0h1m49 0h1m6 0h1m63 0h1m13 0h1m61 0h3m2 0h2m8 0h3m5 0h1m2 0h1m72 0h1m23 0h2m-322 1h1m50 0h1m4 0h1m65 0h1m13 0h1m63 0h1m2 0h1m6 0h3m4 0h2m2 0h2m99 0h1m-364 1h1m39 0h1m51 0h2m3 0h1m66 0h1m12 0h1m63 0h1m9 0h1m5 0h1m3 0h1m3 0h1m70 0h1m27 0h1m-365 1h1m39 0h1m53 0h2m1 0h1m67 0h2m9 0h1m74 0h1m1 0h4m2 0h2m74 0h2m28 0h2m-367 1h1m38 0h1m56 0h2m69 0h1m7 0h1m75 0h2m3 0h4m75 0h1m1 0h3m27 0h1m-368 1h1m38 0h1m127 0h1m84 0h4m5 0h2m71 0h1m5 0h2m26 0h3m-372 1h1m40 0h1m127 0h1m6 0h1m158 0h1m7 0h1m28 0h1m-373 1h1m40 0h1m128 0h1m4 0h1m159 0h1m8 0h1m-303 1h1m59 0h1m67 0h1m4 0h1m158 0h1m10 0h2m5 0h3m-313 1h1m56 0h3m1 0h2m65 0h1m4 0h1m158 0h1m12 0h5m-354 1h2m43 0h1m54 0h1m6 0h1m64 0h1m4 0h1m158 0h1m-345 1h8m45 0h1m52 0h2m8 0h1m68 0h1m-191 1h4m55 0h1m49 0h1m11 0h1m62 0h1m5 0h1m157 0h1m-352 1h3m60 0h1m47 0h1m13 0h1m61 0h1m5 0h1m157 0h1m-389 1h4m18 0h3m1 0h11m64 0h1m46 0h1m14 0h1m59 0h1m5 0h1m157 0h1m-389 1h1m4 0h18m22 0h1m56 0h1m61 0h1m59 0h1m5 0h1m156 0h1m-388 1h1m42 0h1m57 0h1m62 0h1m58 0h1m5 0h1m155 0h2m29 0h1m-418 1h1m36 0h1m6 0h1m57 0h1m47 0h1m15 0h1m56 0h1m3 0h3m153 0h3m31 0h1m-419 1h1m37 0h1m2 0h1m3 0h1m57 0h1m64 0h1m54 0h1m2 0h2m154 0h1m28 0h1m7 0h1m-422 1h2m33 0h1m11 0h1m3 0h1m28 0h1m24 0h1m49 0h2m13 0h1m53 0h1m3 0h1m153 0h2m29 0h1m7 0h1m-423 1h1m18 0h1m15 0h1m12 0h1m19 0h1m13 0h1m22 0h1m52 0h1m12 0h1m52 0h1m155 0h3m31 0h1m8 0h1m-426 1h2m83 0h1m20 0h2m53 0h1m12 0h1m50 0h1m5 0h1m147 0h3m35 0h1m7 0h1m-427 1h1m54 0h2m34 0h1m14 0h1m69 0h1m47 0h1m8 0h1m144 0h2m38 0h1m7 0h1m-427 1h1m25 0h2m28 0h1m16 0h1m17 0h1m12 0h2m56 0h1m13 0h1m44 0h3m9 0h1m142 0h2m40 0h1m6 0h1m-427 1h1m41 0h1m8 0h2m1 0h1m23 0h1m25 0h1m58 0h1m56 0h2m12 0h1m140 0h2m50 0h1m-428 1h1m50 0h1m15 0h1m35 0h1m59 0h1m13 0h1m36 0h6m15 0h1m134 0h5m52 0h1m-427 1h1m64 0h1m20 0h1m14 0h1m61 0h1m12 0h1m35 0h1m22 0h1m131 0h2m58 0h1m-428 1h1m9 0h1m58 0h1m30 0h1m63 0h1m45 0h2m24 0h1m128 0h2m61 0h1m-429 1h1m28 0h1m30 0h1m38 0h1m64 0h1m12 0h1m31 0h1m27 0h1m126 0h1m63 0h1m-428 1h1m58 0h1m20 0h2m15 0h1m65 0h1m11 0h2m30 0h1m28 0h1m124 0h2m64 0h1m-427 1h1m24 0h1m57 0h1m11 0h1m67 0h1m8 0h2m32 0h1m28 0h1m123 0h1m66 0h1m-427 1h1m9 0h2m1 0h1m74 0h3m3 0h1m68 0h1m6 0h2m34 0h1m143 0h1m8 0h1m-360 1h1m41 0h1m6 0h1m16 0h1m21 0h3m2 0h1m69 0h1m5 0h1m35 0h1m29 0h1m112 0h2m1 0h2m5 0h1m-358 1h1m47 0h1m37 0h1m4 0h1m71 0h1m4 0h1m35 0h2m3 0h9m4 0h5m6 0h2m110 0h2m5 0h2m1 0h1m-355 1h1m5 0h1m72 0h2m3 0h1m4 0h1m72 0h5m38 0h3m9 0h4m5 0h2m3 0h1m110 0h2m9 0h1m-354 1h1m25 0h1m52 0h2m2 0h1m4 0h1m32 0h2m105 0h3m107 0h4m-342 1h1m25 0h1m5 0h1m21 0h2m32 0h1m30 0h2m1 0h1m208 0h2m3 0h2m-338 1h1m25 0h1m5 0h1m9 0h1m44 0h1m1 0h1m31 0h2m197 0h11m2 0h3m-336 1h1m16 0h1m8 0h1m4 0h1m6 0h1m48 0h1m34 0h1m196 0h1m12 0h1m-333 1h1m6 0h1m18 0h1m12 0h1m14 0h1m31 0h1m230 0h2m-319 1h1m5 0h1m19 0h1m13 0h1m12 0h1m10 0h1m21 0h1m229 0h1m-317 1h1m16 0h1m7 0h2m29 0h1m29 0h1m25 0h2m201 0h1m-315 1h1m15 0h1m4 0h2m1 0h1m29 0h1m29 0h1m25 0h1m1 0h1m200 0h1m-314 1h1m22 0h2m28 0h1m30 0h1m23 0h2m3 0h1m196 0h3m-313 1h1m20 0h1m62 0h1m28 0h1m195 0h1m-310 1h1m82 0h1m225 0h1m-309 1h1m2 0h1m38 0h2m8 0h4m16 0h1m9 0h1m224 0h1m-308 1h1m19 0h1m43 0h1m17 0h1m224 0h1m-308 1h1m50 0h1m29 0h1m100 0h1m11 0h1m111 0h1m-518 1h1m210 0h1m32 0h1m47 0h1m97 0h2m2 0h3m7 0h2m-195 1h1m57 0h1m21 0h1m96 0h1m8 0h1m5 0h1m1 0h1m109 0h1m-305 1h1m64 0h1m14 0h1m94 0h2m10 0h3m5 0h1m108 0h1m-305 1h1m61 0h1m17 0h1m93 0h1m15 0h1m4 0h1m108 0h1m-305 1h1m28 0h2m7 0h1m5 0h1m9 0h1m26 0h1m91 0h1m21 0h1m107 0h1m-304 1h1m17 0h5m7 0h1m8 0h3m6 0h1m5 0h1m6 0h3m18 0h1m15 0h1m73 0h1m23 0h1m106 0h1m-304 1h1m29 0h1m6 0h2m5 0h3m7 0h1m27 0h1m15 0h1m70 0h3m24 0h1m106 0h1m-304 1h1m3 0h1m24 0h6m1 0h1m35 0h1m10 0h1m15 0h1m67 0h1m28 0h1m106 0h1m-304 1h1m8 0h1m18 0h2m2 0h3m8 0h1m38 0h1m1 0h1m15 0h1m64 0h2m30 0h1m106 0h1m-306 1h1m21 0h6m2 0h3m23 0h1m24 0h1m4 0h1m14 0h1m61 0h3m33 0h1m105 0h1m-306 1h1m17 0h2m1 0h1m5 0h3m26 0h1m24 0h1m5 0h1m70 0h1m1 0h3m36 0h1m105 0h1m-306 1h1m18 0h3m2 0h3m5 0h1m23 0h1m22 0h2m6 0h1m66 0h4m42 0h1m104 0h1m-305 1h1m11 0h1m8 0h2m31 0h2m22 0h1m7 0h1m63 0h3m47 0h1m104 0h1m-306 1h1m37 0h1m2 0h1m37 0h1m6 0h1m62 0h1m50 0h1m104 0h1m-306 1h1m53 0h1m2 0h2m27 0h1m60 0h1m158 0h1m-497 1h4m184 0h1m38 0h1m108 0h1m55 0h1m103 0h1m-500 1h3m4 0h3m4 0h3m174 0h1m37 0h1m108 0h1m57 0h1m103 0h1m-494 1h2m1 0h4m177 0h1m36 0h1m109 0h1m57 0h1m104 0h1m-485 1h1m187 0h1m20 0h2m2 0h1m10 0h2m93 0h2m59 0h1m103 0h1m-312 1h1m34 0h1m16 0h1m92 0h1m62 0h1m103 0h1m-313 1h1m45 0h1m94 0h4m63 0h1m104 0h1m-314 1h1m10 0h1m28 0h3m3 0h1m86 0h8m68 0h1m103 0h1m-314 1h1m28 0h1m9 0h1m2 0h1m8 0h1m9 0h1m145 0h2m104 0h1m-315 1h1m4 0h1m126 0h1m74 0h1m107 0h1m-316 1h1m4 0h1m23 0h1m35 0h2m62 0h3m-132 1h1m51 0h1m73 0h3m77 0h1m108 0h1m-302 1h1m6 0h1m102 0h2m80 0h1m108 0h1m-314 1h1m19 0h1m5 0h1m47 0h1m45 0h2m82 0h1m108 0h1m-313 1h1m19 0h1m30 0h2m65 0h1m84 0h1m108 0h1m-312 1h1m1 0h1m113 0h1m84 0h1m109 0h1m-311 1h2m35 0h1m3 0h1m23 0h3m131 0h1m109 0h1m-475 1h3m164 0h1m30 0h1m79 0h1m83 0h1m1 0h1m48 0h8m44 0h3m6 0h1m-472 1h4m180 0h1m89 0h2m83 0h1m40 0h7m1 0h2m8 0h4m24 0h12m2 0h1m4 0h3m-465 1h1m161 0h1m7 0h1m32 0h1m64 0h3m123 0h3m22 0h1m22 0h1m12 0h2m-456 1h1m160 0h1m8 0h1m31 0h1m14 0h1m45 0h4m90 0h1m33 0h2m25 0h1m19 0h3m-280 1h1m27 0h1m5 0h1m33 0h3m29 0h2m94 0h2m31 0h1m28 0h1m17 0h1m-277 1h1m19 0h1m7 0h1m12 0h1m4 0h2m18 0h3m29 0h2m98 0h3m26 0h2m30 0h3m10 0h4m-277 1h1m8 0h1m19 0h1m2 0h1m6 0h1m22 0h1m3 0h2m30 0h1m103 0h2m1 0h2m1 0h2m16 0h2m35 0h10m-273 1h1m15 0h1m12 0h1m3 0h1m7 0h1m20 0h1m2 0h1m30 0h2m113 0h15m-175 1h1m10 0h1m2 0h1m29 0h1m-97 1h1m17 0h1m33 0h1m10 0h1m1 0h1m30 0h1m-97 1h1m36 0h1m17 0h1m5 0h3m31 0h1m-96 1h1m10 0h10m34 0h6m33 0h1m-95 1h1m6 0h4m11 0h1m23 0h9m39 0h1m-94 1h1m1 0h4m16 0h3m18 0h1m9 0h1m37 0h2m-93 1h2m23 0h1m15 0h2m-17 1h1m13 0h1m47 0h2m-63 1h1m8 0h2m2 0h1m46 0h1m-60 1h1m10 0h1m44 0h3m-59 1h2m1 0h1m6 0h1m44 0h1m-55 1h1m7 0h1m43 0h2m-54 1h2m6 0h1m42 0h1m-50 1h3m2 0h1m43 0h1m-47 1h2m43 0h1m-46 1h1m42 0h2m-45 1h1m2 0h1m38 0h1m-44 1h1m4 0h1m36 0h1m-43 1h1m5 0h1m33 0h2m-42 1h1m6 0h1m31 0h1m-40 1h1m7 0h1m20 0h3m5 0h2m-39 1h1m8 0h1m1 0h1m13 0h4m3 0h4m-37 1h1m12 0h1m3 0h9m-27 1h1m14 0h3m-19 1h1m-1 2h1m-2 1h1m-1 1h1m-1 1h1m-1 1h1m-2 1h1m-1 1h1m-2 1h1m268 0h1m-270 1h1m269 0h1m-272 1h1m-2 1h1m-2 1h1m-2 1h1m-1 1h1m-2 1h1m-1 1h1m-2 1h1m-2 1h1m-2 1h1m-2 1h1m-2 1h1m-2 1h1m-2 1h1m-3 1h2m-3 1h1m-4 1h3m-5 1h2m-2 1h1m-2 2h1m-2 1h1m320 0h1m-322 1h1m-2 1h1m-1 1h1m-87 1h3m82 0h1m-89 1h1m1 0h1m1 0h1m83 0h1m-85 1h1m83 0h1m-86 1h1m84 0h1m-2 1h1m-2 1h1m-2 2h1m-1 1h1m-2 1h1m-1 1h1m77 0h1m-79 1h1m-1 1h1m-1 1h1m-1 1h1m-1 1h1m-2 1h1m-2 2h1m-1 1h1m0 1h1m-1 2h1m0 1h1m-1 1h1m-1 1h1m0 1h1m0 1h1m-1 1h1m-1 1h1m-1 1h1m-1 1h1m-1 1h1m-1 1h1m-2 1h1m-2 1h1m-1 1h1m-2 1h1m-2 1h1m-1 1h1m-2 1h1m-2 1h1m-1 1h1m343 0h1m-346 1h1m-38 1h1m35 0h1"/>
</g>
<g shape-rendering="crispEdges">
<path fill="none" stroke="#37396c" stroke-width="1" d="M640 534.5h5M642.5 532v5M640 541.5h5M642.5 539v5M653 548.5h5M655.5 546v5M659 552.5h5M661.5 550v5M654 552.5h5M656.5 550v5M712 458.5h5M714.5 456v5M720 452.5h5M722.5 450v5M724 450.5h5M726.5 448v5M730 452.5h5M732.5 450v5M744 452.5h5M746.5 450v5M748 463.5h5M750.5 461v5M756 462.5h5M758.5 460v5M712 466.5h5M714.5 464v5M716 469.5h5M718.5 467v5M728 466.5h5M730.5 464v5M733 469.5h5M735.5 467v5M742 474.5h5M744.5 472v5M746 476.5h5M748.5 474v5M726 478.5h5M728.5 476v5M720 482.5h5M722.5 480v5M762 469.5h5M764.5 467v5M769 469.5h5M771.5 467v5M759 473.5h5M761.5 471v5M772 481.5h5M774.5 479v5M732 491.5h5M734.5 489v5M750 489.5h5M752.5 487v5M757 491.5h5M759.5 489v5M767 499.5h5M769.5 497v5M749 501.5h5M751.5 499v5M755 504.5h5M757.5 502v5M720 509.5h5M722.5 507v5M753 513.5h5M755.5 511v5M796 501.5h5M798.5 499v5M797 536.5h5M799.5 534v5M777 542.5h5M779.5 540v5M769 553.5h5M771.5 551v5M782 553.5h5M784.5 551v5M792 544.5h5M794.5 542v5M742 512.5h5M744.5 510v5M607 452.5h5M609.5 450v5M612 460.5h5M614.5 458v5M616 468.5h5M618.5 466v5M579 448.5h5M581.5 446v5M578 454.5h5M580.5 452v5M579 462.5h5M581.5 460v5M577 468.5h5M579.5 466v5M582 482.5h5M584.5 480v5M576 489.5h5M578.5 487v5M590 491.5h5M592.5 489v5M594 491.5h5M596.5 489v5M614 498.5h5M616.5 496v5M617 501.5h5M619.5 499v5M599 500.5h5M601.5 498v5M597 505.5h5M599.5 503v5M558 501.5h5M560.5 499v5M566 499.5h5M568.5 497v5M551 526.5h5M553.5 524v5M556 536.5h5M558.5 534v5M565 530.5h5M567.5 528v5M580 515.5h5M582.5 513v5M579 522.5h5M581.5 520v5M589 528.5h5M591.5 526v5M594 528.5h5M596.5 526v5M602 522.5h5M604.5 520v5M611 526.5h5M613.5 524v5M616 526.5h5M618.5 524v5M616 515.5h5M618.5 513v5M622 512.5h5M624.5 510v5M586 541.5h5M588.5 539v5M593 542.5h5M595.5 540v5M597 539.5h5M599.5 537v5M623 534.5h5M625.5 532v5M626 529.5h5M628.5 527v5M574 556.5h5M576.5 554v5M632 557.5h5M634.5 555v5M637 550.5h5M639.5 548v5M618 558.5h5M620.5 556v5M602 558.5h5M604.5 556v5M606 559.5h5M608.5 557v5M669 552.5h5M671.5 550v5M640 556.5h5M642.5 554v5M597 568.5h5M599.5 566v5M601 569.5h5M603.5 567v5M607 568.5h5M609.5 566v5M611 572.5h5M613.5 570v5M619 572.5h5M621.5 570v5M626 570.5h5M628.5 568v5M623 576.5h5M625.5 574v5M632 576.5h5M634.5 574v5M639 568.5h5M641.5 566v5M642 568.5h5M644.5 566v5M639 574.5h5M641.5 572v5M649 576.5h5M651.5 574v5M642 581.5h5M644.5 579v5M662 580.5h5M664.5 578v5M667 568.5h5M669.5 566v5M670 569.5h5M672.5 567v5M671 585.5h5M673.5 583v5M667 589.5h5M669.5 587v5M676 589.5h5M678.5 587v5M617 589.5h5M619.5 587v5M620 593.5h5M622.5 591v5M640 592.5h5M642.5 590v5M632 596.5h5M634.5 594v5M639 601.5h5M641.5 599v5M644 601.5h5M646.5 599v5M652 601.5h5M654.5 599v5M637 607.5h5M639.5 605v5M628 608.5h5M630.5 606v5M625 612.5h5M627.5 610v5M640 614.5h5M642.5 612v5M632 619.5h5M634.5 617v5M627 622.5h5M629.5 620v5M634 625.5h5M636.5 623v5M637 626.5h5M639.5 624v5M656 607.5h5M658.5 605v5M656 618.5h5M658.5 616v5M657 621.5h5M659.5 619v5M664 625.5h5M666.5 623v5M666 635.5h5M668.5 633v5M622 628.5h5M624.5 626v5M625 633.5h5M627.5 631v5M615 635.5h5M617.5 633v5M619 639.5h5M621.5 637v5M628 641.5h5M630.5 639v5M638 640.5h5M640.5 638v5M647 642.5h5M649.5 640v5M661 642.5h5M663.5 640v5M654 647.5h5M656.5 645v5M634 646.5h5M636.5 644v5M605 631.5h5M607.5 629v5M566 636.5h5M568.5 634v5M566 642.5h5M568.5 640v5M566 650.5h5M568.5 648v5M566 662.5h5M568.5 660v5M647 661.5h5M649.5 659v5M632 679.5h5M634.5 677v5M644 670.5h5M646.5 668v5M598 579.5h5M600.5 577v5M604 577.5h5M606.5 575v5M614 583.5h5M616.5 581v5M609 561.5h5M611.5 559v5M680 581.5h5M682.5 579v5M679 584.5h5M681.5 582v5M691 609.5h5M693.5 607v5M697 604.5h5M699.5 602v5M690 612.5h5M692.5 610v5M714 611.5h5M716.5 609v5M719 608.5h5M721.5 606v5M722 616.5h5M724.5 614v5M717 618.5h5M719.5 616v5M721 621.5h5M723.5 619v5M686 655.5h5M688.5 653v5M782 569.5h5M784.5 567v5M789 576.5h5M791.5 574v5M798 573.5h5M800.5 571v5M807 572.5h5M809.5 570v5M807 580.5h5M809.5 578v5M810 562.5h5M812.5 560v5M819 566.5h5M821.5 564v5M817 579.5h5M819.5 577v5M782 561.5h5M784.5 559v5M752 668.5h5M754.5 666v5M758 676.5h5M760.5 674v5M770 574.5h5M772.5 572v5M680 610.5h5M682.5 608v5M814 486.5h5M816.5 484v5M826 486.5h5M828.5 484v5M836 482.5h5M838.5 480v5M826 495.5h5M828.5 493v5M802 508.5h5M804.5 506v5M810 508.5h5M812.5 506v5M822 510.5h5M824.5 508v5M812 516.5h5M814.5 514v5M847 501.5h5M849.5 499v5M852 510.5h5M854.5 508v5M854 523.5h5M856.5 521v5M820 532.5h5M822.5 530v5M840 534.5h5M842.5 532v5M827 550.5h5M829.5 548v5M842 550.5h5M844.5 548v5M812 551.5h5M814.5 549v5M800 552.5h5M802.5 550v5M912 444.5h5M914.5 442v5M903 456.5h5M905.5 454v5M930 454.5h5M932.5 452v5M956 448.5h5M958.5 446v5M956 458.5h5M958.5 456v5M834 519.5h5M836.5 517v5M579 205.5h5M581.5 203v5M632 299.5h5M634.5 297v5M692 264.5h5M694.5 262v5M676 280.5h5M678.5 278v5M684 304.5h5M686.5 302v5M642 296.5h5M644.5 294v5M871 251.5h5M873.5 249v5M881 288.5h5M883.5 286v5M870 303.5h5M872.5 301v5M859 309.5h5M861.5 307v5M818 252.5h5M820.5 250v5M955 162.5h5M957.5 160v5M909 202.5h5M911.5 200v5M900 230.5h5M902.5 228v5M928 263.5h5M930.5 261v5M906 272.5h5M908.5 270v5M932 293.5h5M934.5 291v5M955 292.5h5M957.5 290v5M194 497.5h5M196.5 495v5M550 414.5h5M552.5 412v5M635 324.5h5M637.5 322v5M596 410.5h5M598.5 408v5M584 419.5h5M586.5 417v5M578 425.5h5M580.5 423v5M586 425.5h5M588.5 423v5M665 331.5h5M667.5 329v5M668 343.5h5M670.5 341v5M691 350.5h5M693.5 348v5M752 354.5h5M754.5 352v5M790 328.5h5M792.5 326v5M814 333.5h5M816.5 331v5M841 326.5h5M843.5 324v5M866 336.5h5M868.5 334v5M878 318.5h5M880.5 316v5M892 349.5h5M894.5 347v5M815 359.5h5M817.5 357v5M822 360.5h5M824.5 358v5M817 363.5h5M819.5 361v5M821 377.5h5M823.5 375v5M852 377.5h5M854.5 375v5M858 386.5h5M860.5 384v5M745 382.5h5M747.5 380v5M723 368.5h5M725.5 366v5M709 375.5h5M711.5 373v5M700 385.5h5M702.5 383v5M644 382.5h5M646.5 380v5M723 400.5h5M725.5 398v5M739 405.5h5M741.5 403v5M745 404.5h5M747.5 402v5M725 410.5h5M727.5 408v5M790 405.5h5M792.5 403v5M843 402.5h5M845.5 400v5M853 410.5h5M855.5 408v5M743 418.5h5M745.5 416v5M727 419.5h5M729.5 417v5M753 425.5h5M755.5 423v5M762 423.5h5M764.5 421v5M782 420.5h5M784.5 418v5M730 426.5h5M732.5 424v5M734 439.5h5M736.5 437v5M652 408.5h5M654.5 406v5M922 321.5h5M924.5 319v5M961 349.5h5M963.5 347v5M909 383.5h5M911.5 381v5M930 402.5h5M932.5 400v5M980 408.5h5M982.5 406v5M965 417.5h5M967.5 415v5M959 425.5h5M961.5 423v5M974 435.5h5M976.5 433v5M991 433.5h5M993.5 431v5M957 440.5h5M959.5 438v5M988 377.5h5M990.5 375v5M929 427.5h5M931.5 425v5M942 427.5h5M944.5 425v5M376 683.5h5M378.5 681v5M586 688.5h5M588.5 686v5M563 692.5h5M565.5 690v5M687 693.5h5M689.5 691v5M644 692.5h5M646.5 690v5M648 684.5h5M650.5 682v5M973 531.5h5M975.5 529v5M990 562.5h5M992.5 560v5M990 584.5h5M992.5 582v5M978 626.5h5M980.5 624v5M405 708.5h5M407.5 706v5M402 698.5h5M404.5 696v5M493 763.5h5M495.5 761v5M488 767.5h5M490.5 765v5M586 754.5h5M588.5 752v5M585 776.5h5M587.5 774v5M572 792.5h5M574.5 790v5M613 744.5h5M615.5 742v5M600 724.5h5M602.5 722v5M605 721.5h5M607.5 719v5M631 724.5h5M633.5 722v5M577 712.5h5M579.5 710v5M594 713.5h5M596.5 711v5M596 704.5h5M598.5 702v5M600 707.5h5M602.5 705v5M607 698.5h5M609.5 696v5M618 703.5h5M620.5 701v5M633 705.5h5M635.5 703v5M612 711.5h5M614.5 709v5M643 728.5h5M645.5 726v5M647 724.5h5M649.5 722v5M654 715.5h5M656.5 713v5M773 700.5h5M775.5 698v5M604 432.5h5M606.5 430v5M604 438.5h5M606.5 436v5M668 467.5h5M670.5 465v5M670 468.5h5M672.5 466v5M675 468.5h5M677.5 466v5M675 468.5h5M677.5 466v5M680 468.5h5M682.5 466v5M686 467.5h5M688.5 465v5M688 468.5h5M690.5 466v5M691 468.5h5M693.5 466v5M695 468.5h5M697.5 466v5M698 468.5h5M700.5 466v5M700 468.5h5M702.5 466v5M704 468.5h5M706.5 466v5M662 471.5h5M664.5 469v5M664 471.5h5M666.5 469v5M669 471.5h5M671.5 469v5M670 471.5h5M672.5 469v5M674 471.5h5M676.5 469v5M676 471.5h5M678.5 469v5M679 471.5h5M681.5 469v5M682 471.5h5M684.5 469v5M686 471.5h5M688.5 469v5M688 471.5h5M690.5 469v5M691 471.5h5M693.5 469v5M698 471.5h5M700.5 469v5M700 471.5h5M702.5 469v5M704 471.5h5M706.5 469v5M707 471.5h5M709.5 469v5M658 475.5h5M660.5 473v5M663 474.5h5M665.5 472v5M664 473.5h5M666.5 471v5M668 474.5h5M670.5 472v5M670 474.5h5M672.5 472v5M674 474.5h5M676.5 472v5M677 474.5h5M679.5 472v5M683 474.5h5M685.5 472v5M687 474.5h5M689.5 472v5M689 473.5h5M691.5 471v5M691 474.5h5M693.5 472v5M694 474.5h5M696.5 472v5M698 474.5h5M700.5 472v5M700 473.5h5M702.5 471v5M704 474.5h5M706.5 472v5M706 474.5h5M708.5 472v5M710 474.5h5M712.5 472v5M657 476.5h5M659.5 474v5M662 477.5h5M664.5 475v5M664 477.5h5M666.5 475v5M670 477.5h5M672.5 475v5M676 477.5h5M678.5 475v5M680 477.5h5M682.5 475v5M682 476.5h5M684.5 474v5M688 476.5h5M690.5 474v5M692 477.5h5M694.5 475v5M694 476.5h5M696.5 474v5M698 477.5h5M700.5 475v5M700 477.5h5M702.5 475v5M704 477.5h5M706.5 475v5M706 477.5h5M708.5 475v5M713 477.5h5M715.5 475v5M658 480.5h5M660.5 478v5M663 480.5h5M665.5 478v5M663 479.5h5M665.5 477v5M668 480.5h5M670.5 478v5M670 480.5h5M672.5 478v5M674 480.5h5M676.5 478v5M676 480.5h5M678.5 478v5M680 480.5h5M682.5 478v5M686 481.5h5M688.5 479v5M692 479.5h5M694.5 477v5M695 480.5h5M697.5 478v5M698 480.5h5M700.5 478v5M700 480.5h5M702.5 478v5M704 480.5h5M706.5 478v5M706 480.5h5M708.5 478v5M710 480.5h5M712.5 478v5M658 483.5h5M660.5 481v5M662 483.5h5M664.5 481v5M663 483.5h5M665.5 481v5M668 483.5h5M670.5 481v5M670 483.5h5M672.5 481v5M674 482.5h5M676.5 480v5M676 483.5h5M678.5 481v5M680 483.5h5M682.5 481v5M681 483.5h5M683.5 481v5M686 483.5h5M688.5 481v5M689 483.5h5M691.5 481v5M692 483.5h5M694.5 481v5M694 483.5h5M696.5 481v5M700 483.5h5M702.5 481v5M704 483.5h5M706.5 481v5M706 483.5h5M708.5 481v5M710 484.5h5M712.5 482v5M716 483.5h5M718.5 481v5M658 486.5h5M660.5 484v5M662 486.5h5M664.5 484v5M664 486.5h5M666.5 484v5M670 485.5h5M672.5 483v5M674 486.5h5M676.5 484v5M676 486.5h5M678.5 484v5M680 486.5h5M682.5 484v5M682 486.5h5M684.5 484v5M687 485.5h5M689.5 483v5M689 486.5h5M691.5 484v5M692 486.5h5M694.5 484v5M697 486.5h5M699.5 484v5M704 486.5h5M706.5 484v5M707 486.5h5M709.5 484v5M710 486.5h5M712.5 484v5M716 486.5h5M718.5 484v5M658 489.5h5M660.5 487v5M663 489.5h5M665.5 487v5M663 489.5h5M665.5 487v5M668 489.5h5M670.5 487v5M670 489.5h5M672.5 487v5M674 489.5h5M676.5 487v5M676 488.5h5M678.5 486v5M680 488.5h5M682.5 486v5M682 489.5h5M684.5 487v5M687 490.5h5M689.5 488v5M688 489.5h5M690.5 487v5M692 489.5h5M694.5 487v5M694 489.5h5M696.5 487v5M700 489.5h5M702.5 487v5M704 488.5h5M706.5 486v5M705 489.5h5M707.5 487v5M710 489.5h5M712.5 487v5M712 489.5h5M714.5 487v5M719 490.5h5M721.5 488v5M658 492.5h5M660.5 490v5M661 492.5h5M663.5 490v5M671 492.5h5M673.5 490v5M674 491.5h5M676.5 489v5M676 493.5h5M678.5 491v5M680 492.5h5M682.5 490v5M681 492.5h5M683.5 490v5M686 492.5h5M688.5 490v5M688 492.5h5M690.5 490v5M693 492.5h5M695.5 490v5M700 492.5h5M702.5 490v5M704 492.5h5M706.5 490v5M706 492.5h5M708.5 490v5M710 492.5h5M712.5 490v5M712 491.5h5M714.5 489v5M715 491.5h5M717.5 489v5M718 492.5h5M720.5 490v5M658 495.5h5M660.5 493v5M662 495.5h5M664.5 493v5M668 495.5h5M670.5 493v5M670 495.5h5M672.5 493v5M674 495.5h5M676.5 493v5M680 495.5h5M682.5 493v5M682 495.5h5M684.5 493v5M686 495.5h5M688.5 493v5M688 495.5h5M690.5 493v5M693 495.5h5M695.5 493v5M693 496.5h5M695.5 494v5M698 495.5h5M700.5 493v5M700 495.5h5M702.5 493v5M704 495.5h5M706.5 493v5M705 495.5h5M707.5 493v5M710 495.5h5M712.5 493v5M712 495.5h5M714.5 493v5M718 495.5h5M720.5 493v5M723 494.5h5M725.5 492v5M658 497.5h5M660.5 495v5M662 498.5h5M664.5 496v5M664 498.5h5M666.5 496v5M668 497.5h5M670.5 495v5M674 498.5h5M676.5 496v5M676 498.5h5M678.5 496v5M682 498.5h5M684.5 496v5M687 498.5h5M689.5 496v5M688 498.5h5M690.5 496v5M693 499.5h5M695.5 497v5M699 498.5h5M701.5 496v5M700 497.5h5M702.5 495v5M706 498.5h5M708.5 496v5M710 498.5h5M712.5 496v5M712 498.5h5M714.5 496v5M716 498.5h5M718.5 496v5M718 498.5h5M720.5 496v5M722 497.5h5M724.5 495v5M658 501.5h5M660.5 499v5M663 501.5h5M665.5 499v5M665 500.5h5M667.5 498v5M669 501.5h5M671.5 499v5M670 501.5h5M672.5 499v5M674 501.5h5M676.5 499v5M676 501.5h5M678.5 499v5M682 501.5h5M684.5 499v5M686 501.5h5M688.5 499v5M688 501.5h5M690.5 499v5M692 501.5h5M694.5 499v5M698 501.5h5M700.5 499v5M700 502.5h5M702.5 500v5M703 502.5h5M705.5 500v5M712 501.5h5M714.5 499v5M716 501.5h5M718.5 499v5M721 501.5h5M723.5 499v5M659 504.5h5M661.5 502v5M662 504.5h5M664.5 502v5M664 503.5h5M666.5 501v5M668 504.5h5M670.5 502v5M671 505.5h5M673.5 503v5M673 504.5h5M675.5 502v5M679 504.5h5M681.5 502v5M682 503.5h5M684.5 501v5M686 503.5h5M688.5 501v5M687 504.5h5M689.5 502v5M692 504.5h5M694.5 502v5M694 504.5h5M696.5 502v5M698 505.5h5M700.5 503v5M701 504.5h5M703.5 502v5M705 503.5h5M707.5 501v5M706 505.5h5M708.5 503v5M712 503.5h5M714.5 501v5M716 504.5h5M718.5 502v5M718 504.5h5M720.5 502v5M721 504.5h5M723.5 502v5M658 507.5h5M660.5 505v5M661 507.5h5M663.5 505v5M664 507.5h5M666.5 505v5M670 507.5h5M672.5 505v5M674 507.5h5M676.5 505v5M677 508.5h5M679.5 506v5M679 507.5h5M681.5 505v5M681 507.5h5M683.5 505v5M686 506.5h5M688.5 504v5M688 507.5h5M690.5 505v5M692 507.5h5M694.5 505v5M694 508.5h5M696.5 506v5M698 507.5h5M700.5 505v5M700 508.5h5M702.5 506v5M704 507.5h5M706.5 505v5M706 507.5h5M708.5 505v5M710 506.5h5M712.5 504v5M711 508.5h5M713.5 506v5M715 508.5h5M717.5 506v5M718 507.5h5M720.5 505v5M722 507.5h5M724.5 505v5M724 507.5h5M726.5 505v5M658 509.5h5M660.5 507v5M663 510.5h5M665.5 508v5M665 510.5h5M667.5 508v5M668 510.5h5M670.5 508v5M669 510.5h5M671.5 508v5M675 510.5h5M677.5 508v5M677 510.5h5M679.5 508v5M680 510.5h5M682.5 508v5M682 510.5h5M684.5 508v5M687 510.5h5M689.5 508v5M688 510.5h5M690.5 508v5M692 509.5h5M694.5 507v5M694 510.5h5M696.5 508v5M697 510.5h5M699.5 508v5M699 509.5h5M701.5 507v5M704 510.5h5M706.5 508v5M706 511.5h5M708.5 509v5M710 510.5h5M712.5 508v5M712 510.5h5M714.5 508v5M716 510.5h5M718.5 508v5M722 510.5h5M724.5 508v5M724 510.5h5M726.5 508v5M658 513.5h5M660.5 511v5M662 513.5h5M664.5 511v5M664 513.5h5M666.5 511v5M668 512.5h5M670.5 510v5M671 513.5h5M673.5 511v5M675 513.5h5M677.5 511v5M675 513.5h5M677.5 511v5M680 513.5h5M682.5 511v5M682 514.5h5M684.5 512v5M692 513.5h5M694.5 511v5M694 513.5h5M696.5 511v5M699 513.5h5M701.5 511v5M700 514.5h5M702.5 512v5M705 513.5h5M707.5 511v5M706 513.5h5M708.5 511v5M710 514.5h5M712.5 512v5M711 513.5h5M713.5 511v5M717 513.5h5M719.5 511v5M724 513.5h5M726.5 511v5M658 516.5h5M660.5 514v5M662 515.5h5M664.5 513v5M664 516.5h5M666.5 514v5M667 516.5h5M669.5 514v5M671 516.5h5M673.5 514v5M674 516.5h5M676.5 514v5M676 516.5h5M678.5 514v5M680 516.5h5M682.5 514v5M682 516.5h5M684.5 514v5M685 515.5h5M687.5 513v5M692 517.5h5M694.5 515v5M694 516.5h5M696.5 514v5M698 517.5h5M700.5 515v5M700 515.5h5M702.5 513v5M704 517.5h5M706.5 515v5M710 516.5h5M712.5 514v5M712 516.5h5M714.5 514v5M716 517.5h5M718.5 515v5M718 517.5h5M720.5 515v5M722 516.5h5M724.5 514v5M724 516.5h5M726.5 514v5M658 519.5h5M660.5 517v5M662 519.5h5M664.5 517v5M664 520.5h5M666.5 518v5M669 519.5h5M671.5 517v5M674 518.5h5M676.5 516v5M676 519.5h5M678.5 517v5M680 519.5h5M682.5 517v5M682 520.5h5M684.5 518v5M688 519.5h5M690.5 517v5M693 519.5h5M695.5 517v5M698 520.5h5M700.5 518v5M700 519.5h5M702.5 517v5M704 519.5h5M706.5 517v5M705 519.5h5M707.5 517v5M710 520.5h5M712.5 518v5M711 520.5h5M713.5 518v5M716 519.5h5M718.5 517v5M718 519.5h5M720.5 517v5M722 519.5h5M724.5 517v5M724 519.5h5M726.5 517v5M658 523.5h5M660.5 521v5M662 523.5h5M664.5 521v5M664 522.5h5M666.5 520v5M668 522.5h5M670.5 520v5M670 522.5h5M672.5 520v5M674 523.5h5M676.5 521v5M676 521.5h5M678.5 519v5M680 521.5h5M682.5 519v5M688 522.5h5M690.5 520v5M692 522.5h5M694.5 520v5M693 522.5h5M695.5 520v5M698 522.5h5M700.5 520v5M701 522.5h5M703.5 520v5M704 522.5h5M706.5 520v5M706 523.5h5M708.5 521v5M710 522.5h5M712.5 520v5M716 522.5h5M718.5 520v5M717 522.5h5M719.5 520v5M722 522.5h5M724.5 520v5M658 525.5h5M660.5 523v5M664 525.5h5M666.5 523v5M668 526.5h5M670.5 524v5M671 525.5h5M673.5 523v5M676 525.5h5M678.5 523v5M680 525.5h5M682.5 523v5M682 525.5h5M684.5 523v5M686 525.5h5M688.5 523v5M689 525.5h5M691.5 523v5M692 525.5h5M694.5 523v5M694 525.5h5M696.5 523v5M698 524.5h5M700.5 522v5M701 524.5h5M703.5 522v5M703 525.5h5M705.5 523v5M706 525.5h5M708.5 523v5M709 525.5h5M711.5 523v5M711 525.5h5M713.5 523v5M716 524.5h5M718.5 522v5M721 526.5h5M723.5 524v5M662 528.5h5M664.5 526v5M664 528.5h5M666.5 526v5M668 528.5h5M670.5 526v5M670 528.5h5M672.5 526v5M676 528.5h5M678.5 526v5M681 528.5h5M683.5 526v5M682 528.5h5M684.5 526v5M686 527.5h5M688.5 525v5M688 528.5h5M690.5 526v5M692 528.5h5M694.5 526v5M694 528.5h5M696.5 526v5M698 528.5h5M700.5 526v5M699 528.5h5M701.5 526v5M704 528.5h5M706.5 526v5M706 528.5h5M708.5 526v5M710 528.5h5M712.5 526v5M712 528.5h5M714.5 526v5M716 528.5h5M718.5 526v5M718 528.5h5M720.5 526v5M722 528.5h5M724.5 526v5M662 532.5h5M664.5 530v5M664 530.5h5M666.5 528v5M669 531.5h5M671.5 529v5M670 531.5h5M672.5 529v5M674 531.5h5M676.5 529v5M676 530.5h5M678.5 528v5M680 530.5h5M682.5 528v5M682 532.5h5M684.5 530v5M686 531.5h5M688.5 529v5M692 531.5h5M694.5 529v5M693 531.5h5M695.5 529v5M698 532.5h5M700.5 530v5M700 531.5h5M702.5 529v5M704 531.5h5M706.5 529v5M706 530.5h5M708.5 528v5M709 532.5h5M711.5 530v5M712 531.5h5M714.5 529v5M716 531.5h5M718.5 529v5M718 530.5h5M720.5 528v5M724 531.5h5M726.5 529v5M663 534.5h5M665.5 532v5M668 535.5h5M670.5 533v5M676 534.5h5M678.5 532v5M679 534.5h5M681.5 532v5M682 534.5h5M684.5 532v5M686 533.5h5M688.5 531v5M688 534.5h5M690.5 532v5M692 533.5h5M694.5 531v5M694 534.5h5M696.5 532v5M699 534.5h5M701.5 532v5M700 534.5h5M702.5 532v5M706 534.5h5M708.5 532v5M710 534.5h5M712.5 532v5M712 534.5h5M714.5 532v5M716 534.5h5M718.5 532v5M718 534.5h5M720.5 532v5M722 534.5h5M724.5 532v5M724 534.5h5M726.5 532v5M664 537.5h5M666.5 535v5M670 537.5h5M672.5 535v5M674 538.5h5M676.5 536v5M676 537.5h5M678.5 535v5M680 537.5h5M682.5 535v5M682 537.5h5M684.5 535v5M686 537.5h5M688.5 535v5M687 538.5h5M689.5 536v5M692 537.5h5M694.5 535v5M694 537.5h5M696.5 535v5M698 537.5h5M700.5 535v5M700 536.5h5M702.5 534v5M704 537.5h5M706.5 535v5M706 537.5h5M708.5 535v5M710 537.5h5M712.5 535v5M711 537.5h5M713.5 535v5M716 537.5h5M718.5 535v5M718 537.5h5M720.5 535v5M722 537.5h5M724.5 535v5M724 537.5h5M726.5 535v5M664 540.5h5M666.5 538v5M668 540.5h5M670.5 538v5M670 539.5h5M672.5 537v5M673 540.5h5M675.5 538v5M676 539.5h5M678.5 537v5M680 540.5h5M682.5 538v5M685 540.5h5M687.5 538v5M688 540.5h5M690.5 538v5M694 540.5h5M696.5 538v5M698 540.5h5M700.5 538v5M701 540.5h5M703.5 538v5M704 539.5h5M706.5 537v5M706 540.5h5M708.5 538v5M710 539.5h5M712.5 537v5M712 541.5h5M714.5 539v5M716 539.5h5M718.5 537v5M718 540.5h5M720.5 538v5M723 540.5h5M725.5 538v5M668 543.5h5M670.5 541v5M674 543.5h5M676.5 541v5M677 543.5h5M679.5 541v5M681 543.5h5M683.5 541v5M682 542.5h5M684.5 540v5M686 543.5h5M688.5 541v5M688 543.5h5M690.5 541v5M692 544.5h5M694.5 542v5M694 543.5h5M696.5 541v5M698 543.5h5M700.5 541v5M700 543.5h5M702.5 541v5M705 543.5h5M707.5 541v5M706 543.5h5M708.5 541v5M710 542.5h5M712.5 540v5M713 543.5h5M715.5 541v5M715 543.5h5M717.5 541v5M718 544.5h5M720.5 542v5M722 543.5h5M724.5 541v5M668 546.5h5M670.5 544v5M671 547.5h5M673.5 545v5M674 545.5h5M676.5 543v5M676 546.5h5M678.5 544v5M680 547.5h5M682.5 545v5M682 546.5h5M684.5 544v5M688 546.5h5M690.5 544v5M692 546.5h5M694.5 544v5M694 545.5h5M696.5 543v5M697 546.5h5M699.5 544v5M699 546.5h5M701.5 544v5M704 546.5h5M706.5 544v5M709 545.5h5M711.5 543v5M712 546.5h5M714.5 544v5M716 546.5h5M718.5 544v5M670 549.5h5M672.5 547v5M675 549.5h5M677.5 547v5M676 549.5h5M678.5 547v5M680 548.5h5M682.5 546v5M686 548.5h5M688.5 546v5M688 549.5h5M690.5 547v5M694 548.5h5M696.5 546v5M698 549.5h5M700.5 547v5M700 549.5h5M702.5 547v5M705 550.5h5M707.5 548v5M706 549.5h5M708.5 547v5M710 549.5h5M712.5 547v5M675 552.5h5M677.5 550v5M680 553.5h5M682.5 551v5M681 552.5h5M683.5 550v5M685 552.5h5M687.5 550v5M688 552.5h5M690.5 550v5M692 552.5h5M694.5 550v5M694 552.5h5M696.5 550v5M698 552.5h5M700.5 550v5M700 552.5h5M702.5 550v5M705 551.5h5M707.5 549v5M706 552.5h5M708.5 550v5M680 482.5h5M682.5 480v5M719 544.5h5M721.5 542v5M688 513.5h5M690.5 511v5M667 506.5h5M669.5 504v5M714 517.5h5M716.5 515v5M675 470.5h5M677.5 468v5M683 528.5h5M685.5 526v5M659 497.5h5M661.5 495v5M703 543.5h5M705.5 541v5M674 538.5h5M676.5 536v5M715 545.5h5M717.5 543v5M668 539.5h5M670.5 537v5M674 500.5h5M676.5 498v5M700 491.5h5M702.5 489v5M660 478.5h5M662.5 476v5M672 518.5h5M674.5 516v5M722 518.5h5M724.5 516v5M684 502.5h5M686.5 500v5M679 503.5h5M681.5 501v5M716 509.5h5M718.5 507v5M660 523.5h5M662.5 521v5M659 490.5h5M661.5 488v5M680 467.5h5M682.5 465v5M715 537.5h5M717.5 535v5M660 490.5h5M662.5 488v5M673 498.5h5M675.5 496v5M690 469.5h5M692.5 467v5M667 511.5h5M669.5 509v5M662 471.5h5M664.5 469v5M721 539.5h5M723.5 537v5M678 497.5h5M680.5 495v5M691 509.5h5M693.5 507v5M676 520.5h5M678.5 518v5M693 473.5h5M695.5 471v5M719 496.5h5M721.5 494v5M681 545.5h5M683.5 543v5M688 491.5h5M690.5 489v5M691 491.5h5M693.5 489v5M672 475.5h5M674.5 473v5M720 509.5h5M722.5 507v5M676 552.5h5M678.5 550v5M704 523.5h5M706.5 521v5M659 514.5h5M661.5 512v5M696 511.5h5M698.5 509v5M724 522.5h5M726.5 520v5M676 534.5h5M678.5 532v5M708 540.5h5M710.5 538v5M676 504.5h5M678.5 502v5M691 479.5h5M693.5 477v5M701 525.5h5M703.5 523v5M718 535.5h5M720.5 533v5M718 526.5h5M720.5 524v5M698 553.5h5M700.5 551v5M675 543.5h5M677.5 541v5M680 533.5h5M682.5 531v5M721 498.5h5M723.5 496v5M679 497.5h5M681.5 495v5M686 540.5h5M688.5 538v5M709 524.5h5M711.5 522v5M712 519.5h5M714.5 517v5M673 468.5h5M675.5 466v5M711 474.5h5M713.5 472v5M676 532.5h5M678.5 530v5M701 517.5h5M703.5 515v5M664 528.5h5M666.5 526v5M712 477.5h5M714.5 475v5M723 522.5h5M725.5 520v5M658 478.5h5M660.5 476v5M668 549.5h5M670.5 547v5M705 513.5h5M707.5 511v5M661 518.5h5M663.5 516v5M723 496.5h5M725.5 494v5M684 551.5h5M686.5 549v5M693 480.5h5M695.5 478v5M682 551.5h5M684.5 549v5M722 525.5h5M724.5 523v5M671 513.5h5M673.5 511v5M696 489.5h5M698.5 487v5M679 524.5h5M681.5 522v5M719 488.5h5M721.5 486v5M676 485.5h5M678.5 483v5M711 540.5h5M713.5 538v5M684 504.5h5M686.5 502v5M666 519.5h5M668.5 517v5M677 505.5h5M679.5 503v5M659 516.5h5M661.5 514v5M713 495.5h5M715.5 493v5M708 539.5h5M710.5 537v5M704 531.5h5M706.5 529v5M682 523.5h5M684.5 521v5M702 506.5h5M704.5 504v5M677 518.5h5M679.5 516v5M682 519.5h5M684.5 517v5M695 537.5h5M697.5 535v5M665 495.5h5M667.5 493v5M701 483.5h5M703.5 481v5M673 518.5h5M675.5 516v5M716 531.5h5M718.5 529v5M669 510.5h5M671.5 508v5M685 511.5h5M687.5 509v5M686 502.5h5M688.5 500v5M714 513.5h5M716.5 511v5M715 542.5h5M717.5 540v5M709 473.5h5M711.5 471v5M673 548.5h5M675.5 546v5M714 520.5h5M716.5 518v5M697 467.5h5M699.5 465v5M716 501.5h5M718.5 499v5M670 537.5h5M672.5 535v5M671 520.5h5M673.5 518v5M658 511.5h5M660.5 509v5M662 522.5h5M664.5 520v5M680 499.5h5M682.5 497v5M705 548.5h5M707.5 546v5M661 498.5h5M663.5 496v5M673 538.5h5M675.5 536v5M659 504.5h5M661.5 502v5M672 550.5h5M674.5 548v5M714 488.5h5M716.5 486v5M661 482.5h5M663.5 480v5M686 504.5h5M688.5 502v5M678 533.5h5M680.5 531v5M659 524.5h5M661.5 522v5M691 538.5h5M693.5 536v5M722 529.5h5M724.5 527v5M716 527.5h5M718.5 525v5M696 529.5h5M698.5 527v5M716 487.5h5M718.5 485v5M662 474.5h5M664.5 472v5M698 475.5h5M700.5 473v5M690 477.5h5M692.5 475v5M703 535.5h5M705.5 533v5M716 544.5h5M718.5 542v5M689 476.5h5M691.5 474v5M692 502.5h5M694.5 500v5M716 539.5h5M718.5 537v5M699 515.5h5M701.5 513v5M689 525.5h5M691.5 523v5M704 514.5h5M706.5 512v5M689 538.5h5M691.5 536v5M673 549.5h5M675.5 547v5M697 469.5h5M699.5 467v5M699 545.5h5M701.5 543v5M659 503.5h5M661.5 501v5M694 518.5h5M696.5 516v5M706 521.5h5M708.5 519v5M668 517.5h5M670.5 515v5M665 485.5h5M667.5 483v5M670 499.5h5M672.5 497v5M715 493.5h5M717.5 491v5M686 537.5h5M688.5 535v5M697 523.5h5M699.5 521v5M691 501.5h5M693.5 499v5M663 523.5h5M665.5 521v5M680 537.5h5M682.5 535v5M667 532.5h5M669.5 530v5M705 543.5h5M707.5 541v5M677 497.5h5M679.5 495v5M706 489.5h5M708.5 487v5M672 524.5h5M674.5 522v5M706 473.5h5M708.5 471v5M692 510.5h5M694.5 508v5M667 482.5h5M669.5 480v5M697 548.5h5M699.5 546v5M682 549.5h5M684.5 547v5M694 473.5h5M696.5 471v5M719 494.5h5M721.5 492v5M695 476.5h5M697.5 474v5M722 524.5h5M724.5 522v5M660 521.5h5M662.5 519v5M680 539.5h5M682.5 537v5M680 549.5h5M682.5 547v5M665 498.5h5M667.5 496v5M670 535.5h5M672.5 533v5M674 542.5h5M676.5 540v5M680 547.5h5M682.5 545v5M703 533.5h5M705.5 531v5M687 497.5h5M689.5 495v5M660 518.5h5M662.5 516v5M706 516.5h5M708.5 514v5M700 515.5h5M702.5 513v5M662 516.5h5M664.5 514v5M702 521.5h5M704.5 519v5M690 466.5h5M692.5 464v5M700 535.5h5M702.5 533v5M690 529.5h5M692.5 527v5M694 546.5h5M696.5 544v5M682 475.5h5M684.5 473v5M669 475.5h5M671.5 473v5M696 516.5h5M698.5 514v5M706 543.5h5M708.5 541v5M718 498.5h5M720.5 496v5M713 482.5h5M715.5 480v5M672 471.5h5M674.5 469v5M712 494.5h5M714.5 492v5M721 532.5h5M723.5 530v5M659 518.5h5M661.5 516v5M669 486.5h5M671.5 484v5M665 505.5h5M667.5 503v5M691 480.5h5M693.5 478v5M696 475.5h5M698.5 473v5M688 482.5h5M690.5 480v5M723 501.5h5M725.5 499v5M677 477.5h5M679.5 475v5M712 549.5h5M714.5 547v5M660 481.5h5M662.5 479v5M712 547.5h5M714.5 545v5M712 527.5h5M714.5 525v5M720 531.5h5M722.5 529v5M706 526.5h5M708.5 524v5M707 533.5h5M709.5 531v5M718 502.5h5M720.5 500v5M703 529.5h5M705.5 527v5M666 533.5h5M668.5 531v5M659 508.5h5M661.5 506v5M664 485.5h5M666.5 483v5M676 487.5h5M678.5 485v5M668 538.5h5M670.5 536v5M696 483.5h5M698.5 481v5M657 498.5h5M659.5 496v5M711 510.5h5M713.5 508v5M683 510.5h5M685.5 508v5M701 514.5h5M703.5 512v5M668 478.5h5M670.5 476v5M703 496.5h5M705.5 494v5M701 477.5h5M703.5 475v5M718 511.5h5M720.5 509v5M684 469.5h5M686.5 467v5M668 484.5h5M670.5 482v5M664 476.5h5M666.5 474v5M681 533.5h5M683.5 531v5M687 519.5h5M689.5 517v5M700 524.5h5M702.5 522v5M720 517.5h5M722.5 515v5M657 502.5h5M659.5 500v5M658 482.5h5M660.5 480v5M681 500.5h5M683.5 498v5M712 519.5h5M714.5 517v5M706 552.5h5M708.5 550v5M725 506.5h5M727.5 504v5M670 517.5h5M672.5 515v5M686 486.5h5M688.5 484v5M724 506.5h5M726.5 504v5M678 523.5h5M680.5 521v5M669 544.5h5M671.5 542v5M709 511.5h5M711.5 509v5M705 535.5h5M707.5 533v5M664 484.5h5M666.5 482v5M693 508.5h5M695.5 506v5M720 538.5h5M722.5 536v5M683 498.5h5M685.5 496v5M682 480.5h5M684.5 478v5M671 484.5h5M673.5 482v5M676 512.5h5M678.5 510v5M664 485.5h5M666.5 483v5M660 484.5h5M662.5 482v5M686 483.5h5M688.5 481v5M711 476.5h5M713.5 474v5M714 492.5h5M716.5 490v5M705 544.5h5M707.5 542v5M685 545.5h5M687.5 543v5M713 503.5h5M715.5 501v5M659 493.5h5M661.5 491v5M671 535.5h5M673.5 533v5M692 477.5h5M694.5 475v5M714 499.5h5M716.5 497v5M775 500.5h5M777.5 498v5M782 500.5h5M784.5 498v5M784 500.5h5M786.5 498v5M788 500.5h5M790.5 498v5M791 501.5h5M793.5 499v5M794 500.5h5M796.5 498v5M772 504.5h5M774.5 502v5M777 504.5h5M779.5 502v5M778 503.5h5M780.5 501v5M782 505.5h5M784.5 503v5M783 504.5h5M785.5 502v5M788 504.5h5M790.5 502v5M790 504.5h5M792.5 502v5M794 504.5h5M796.5 502v5M770 506.5h5M772.5 504v5M776 506.5h5M778.5 504v5M778 506.5h5M780.5 504v5M782 506.5h5M784.5 504v5M784 506.5h5M786.5 504v5M788 506.5h5M790.5 504v5M790 506.5h5M792.5 504v5M793 506.5h5M795.5 504v5M766 510.5h5M768.5 508v5M772 510.5h5M774.5 508v5M782 510.5h5M784.5 508v5M783 510.5h5M785.5 508v5M788 510.5h5M790.5 508v5M793 510.5h5M795.5 508v5M764 511.5h5M766.5 509v5M766 512.5h5M768.5 510v5M771 513.5h5M773.5 511v5M775 512.5h5M777.5 510v5M778 512.5h5M780.5 510v5M782 512.5h5M784.5 510v5M783 512.5h5M785.5 510v5M788 512.5h5M790.5 510v5M790 513.5h5M792.5 511v5M758 516.5h5M760.5 514v5M760 516.5h5M762.5 514v5M764 515.5h5M766.5 513v5M766 516.5h5M768.5 514v5M772 516.5h5M774.5 514v5M778 516.5h5M780.5 514v5M784 517.5h5M786.5 515v5M787 515.5h5M789.5 513v5M790 517.5h5M792.5 515v5M794 516.5h5M796.5 514v5M752 518.5h5M754.5 516v5M758 518.5h5M760.5 516v5M760 518.5h5M762.5 516v5M770 518.5h5M772.5 516v5M772 518.5h5M774.5 516v5M778 518.5h5M780.5 516v5M782 518.5h5M784.5 516v5M784 518.5h5M786.5 516v5M790 518.5h5M792.5 516v5M794 519.5h5M796.5 517v5M748 522.5h5M750.5 520v5M752 521.5h5M754.5 519v5M754 522.5h5M756.5 520v5M760 521.5h5M762.5 519v5M764 523.5h5M766.5 521v5M766 522.5h5M768.5 520v5M772 522.5h5M774.5 520v5M776 522.5h5M778.5 520v5M778 522.5h5M780.5 520v5M784 522.5h5M786.5 520v5M788 522.5h5M790.5 520v5M790 522.5h5M792.5 520v5M794 522.5h5M796.5 520v5M749 524.5h5M751.5 522v5M752 523.5h5M754.5 521v5M754 524.5h5M756.5 522v5M759 524.5h5M761.5 522v5M760 524.5h5M762.5 522v5M764 523.5h5M766.5 521v5M765 524.5h5M767.5 522v5M770 524.5h5M772.5 522v5M772 523.5h5M774.5 521v5M778 524.5h5M780.5 522v5M782 524.5h5M784.5 522v5M783 524.5h5M785.5 522v5M788 524.5h5M790.5 522v5M790 524.5h5M792.5 522v5M795 525.5h5M797.5 523v5M749 527.5h5M751.5 525v5M752 528.5h5M754.5 526v5M754 528.5h5M756.5 526v5M758 527.5h5M760.5 525v5M760 528.5h5M762.5 526v5M765 528.5h5M767.5 526v5M767 528.5h5M769.5 526v5M772 528.5h5M774.5 526v5M776 528.5h5M778.5 526v5M778 527.5h5M780.5 525v5M782 528.5h5M784.5 526v5M784 527.5h5M786.5 525v5M788 528.5h5M790.5 526v5M794 528.5h5M796.5 526v5M748 530.5h5M750.5 528v5M751 530.5h5M753.5 528v5M758 530.5h5M760.5 528v5M764 530.5h5M766.5 528v5M766 529.5h5M768.5 527v5M770 529.5h5M772.5 527v5M771 530.5h5M773.5 528v5M776 530.5h5M778.5 528v5M778 529.5h5M780.5 527v5M782 530.5h5M784.5 528v5M784 530.5h5M786.5 528v5M788 530.5h5M790.5 528v5M790 530.5h5M792.5 528v5M748 534.5h5M750.5 532v5M752 534.5h5M754.5 532v5M754 534.5h5M756.5 532v5M759 534.5h5M761.5 532v5M760 535.5h5M762.5 533v5M764 534.5h5M766.5 532v5M765 534.5h5M767.5 532v5M770 534.5h5M772.5 532v5M772 533.5h5M774.5 531v5M776 534.5h5M778.5 532v5M778 534.5h5M780.5 532v5M782 534.5h5M784.5 532v5M787 534.5h5M789.5 532v5M752 536.5h5M754.5 534v5M755 536.5h5M757.5 534v5M758 536.5h5M760.5 534v5M760 536.5h5M762.5 534v5M766 536.5h5M768.5 534v5M770 536.5h5M772.5 534v5M772 536.5h5M774.5 534v5M776 537.5h5M778.5 535v5M783 536.5h5M785.5 534v5M784 536.5h5M786.5 534v5M754 540.5h5M756.5 538v5M760 541.5h5M762.5 539v5M765 541.5h5M767.5 539v5M767 540.5h5M769.5 538v5M772 540.5h5M774.5 538v5M776 540.5h5M778.5 538v5M778 539.5h5M780.5 537v5M752 541.5h5M754.5 539v5M754 542.5h5M756.5 540v5M758 542.5h5M760.5 540v5M759 543.5h5M761.5 541v5M764 543.5h5M766.5 541v5M766 531.5h5M768.5 529v5M752 531.5h5M754.5 529v5M766 536.5h5M768.5 534v5M756 543.5h5M758.5 541v5M789 516.5h5M791.5 514v5M752 524.5h5M754.5 522v5M761 522.5h5M763.5 520v5M765 536.5h5M767.5 534v5M761 516.5h5M763.5 514v5M780 517.5h5M782.5 515v5M765 525.5h5M767.5 523v5M754 530.5h5M756.5 528v5M761 518.5h5M763.5 516v5M756 527.5h5M758.5 525v5M765 542.5h5M767.5 540v5M777 499.5h5M779.5 497v5M791 516.5h5M793.5 514v5M746 524.5h5M748.5 522v5M754 534.5h5M756.5 532v5M785 536.5h5M787.5 534v5M777 500.5h5M779.5 498v5M760 538.5h5M762.5 536v5M792 499.5h5M794.5 497v5M772 520.5h5M774.5 518v5M754 538.5h5M756.5 536v5M780 520.5h5M782.5 518v5M767 539.5h5M769.5 537v5M792 521.5h5M794.5 519v5M759 535.5h5M761.5 533v5M765 538.5h5M767.5 536v5M782 515.5h5M784.5 513v5M773 511.5h5M775.5 509v5M787 530.5h5M789.5 528v5M771 518.5h5M773.5 516v5M785 520.5h5M787.5 518v5M763 542.5h5M765.5 540v5M760 534.5h5M762.5 532v5M782 527.5h5M784.5 525v5M793 512.5h5M795.5 510v5M791 516.5h5M793.5 514v5M778 508.5h5M780.5 506v5M766 531.5h5M768.5 529v5M755 525.5h5M757.5 523v5M785 516.5h5M787.5 514v5M777 510.5h5M779.5 508v5M760 526.5h5M762.5 524v5M779 538.5h5M781.5 536v5M774 533.5h5M776.5 531v5M765 541.5h5M767.5 539v5M758 539.5h5M760.5 537v5M793 528.5h5M795.5 526v5M753 526.5h5M755.5 524v5M751 522.5h5M753.5 520v5M759 523.5h5M761.5 521v5M783 512.5h5M785.5 510v5M772 503.5h5M774.5 501v5M785 519.5h5M787.5 517v5M756 522.5h5M758.5 520v5M779 523.5h5M781.5 521v5M789 526.5h5M791.5 524v5M764 522.5h5M766.5 520v5M762 516.5h5M764.5 514v5M776 511.5h5M778.5 509v5M795 503.5h5M797.5 501v5M755 517.5h5M757.5 515v5M765 540.5h5M767.5 538v5M759 534.5h5M761.5 532v5M763 537.5h5M765.5 535v5M763 529.5h5M765.5 527v5M752 539.5h5M754.5 537v5M774 538.5h5M776.5 536v5M776 511.5h5M778.5 509v5M753 519.5h5M755.5 517v5M781 510.5h5M783.5 508v5M749 526.5h5M751.5 524v5M770 503.5h5M772.5 501v5M761 533.5h5M763.5 531v5M774 530.5h5M776.5 528v5M781 536.5h5M783.5 534v5M782 527.5h5M784.5 525v5M747 532.5h5M749.5 530v5M786 525.5h5M788.5 523v5M777 530.5h5M779.5 528v5M756 542.5h5M758.5 540v5M753 535.5h5M755.5 533v5M795 525.5h5M797.5 523v5M770 519.5h5M772.5 517v5M777 525.5h5M779.5 523v5M759 542.5h5M761.5 540v5M763 528.5h5M765.5 526v5M753 543.5h5M755.5 541v5M776 536.5h5M778.5 534v5M774 526.5h5M776.5 524v5M794 506.5h5M796.5 504v5M778 521.5h5M780.5 519v5M765 515.5h5M767.5 513v5M765 514.5h5M767.5 512v5M790 507.5h5M792.5 505v5M778 512.5h5M780.5 510v5M791 515.5h5M793.5 513v5M786 499.5h5M788.5 497v5M781 507.5h5M783.5 505v5M788 504.5h5M790.5 502v5M791 504.5h5M793.5 502v5M788 508.5h5M790.5 506v5M782 499.5h5M784.5 497v5M783 500.5h5M785.5 498v5M782 512.5h5M784.5 510v5M779 515.5h5M781.5 513v5M781 507.5h5M783.5 505v5M784 507.5h5M786.5 505v5M777 509.5h5M779.5 507v5M781 501.5h5M783.5 499v5M792 513.5h5M794.5 511v5M776 501.5h5M778.5 499v5M754 546.5h5M756.5 544v5M753 541.5h5M755.5 539v5M748 542.5h5M750.5 540v5M753 541.5h5M755.5 539v5M751 541.5h5M753.5 539v5M756 541.5h5M758.5 539v5M954 573.5h5M956.5 571v5M955 567.5h5M957.5 565v5M956 567.5h5M958.5 565v5M956 567.5h5M958.5 565v5M955 566.5h5M957.5 564v5M948 575.5h5M950.5 573v5M957 569.5h5M959.5 567v5M954 571.5h5M956.5 569v5"/>
<path fill="none" stroke="#344978" stroke-width="1" d="M609 642.5h5M611.5 640v5M590 643.5h5M592.5 641v5M599 652.5h5M601.5 650v5M594 661.5h5M596.5 659v5M634 661.5h5M636.5 659v5M709 547.5h5M711.5 545v5M720 540.5h5M722.5 538v5M708 534.5h5M710.5 532v5M719 539.5h5M721.5 537v5M707 551.5h5M709.5 549v5M724 535.5h5M726.5 533v5M701 533.5h5M703.5 531v5M708 546.5h5M710.5 544v5M704 534.5h5M706.5 532v5M714 537.5h5M716.5 535v5M710 534.5h5M712.5 532v5M706 543.5h5M708.5 541v5M705 535.5h5M707.5 533v5M953 569.5h5M955.5 567v5M956 565.5h5M958.5 563v5M959 564.5h5M961.5 562v5M955 571.5h5M957.5 569v5M951 568.5h5M953.5 566v5M950 574.5h5M952.5 572v5M950 571.5h5M952.5 569v5M952 566.5h5M954.5 564v5M948 573.5h5M950.5 571v5M958 566.5h5M960.5 564v5M950 570.5h5M952.5 568v5M953 574.5h5M955.5 572v5M948 574.5h5M950.5 572v5M954 566.5h5M956.5 564v5M949 573.5h5M951.5 571v5M948 574.5h5M950.5 572v5M950 573.5h5M952.5 571v5M958 568.5h5M960.5 566v5M956 566.5h5M958.5 564v5M953 568.5h5M955.5 566v5M958 567.5h5M960.5 565v5M957 567.5h5M959.5 565v5M951 575.5h5M953.5 573v5M950 575.5h5M952.5 573v5M959 564.5h5M961.5 562v5"/>
<path fill="none" stroke="#2f627d" stroke-width="1" d="M950 438.5h5M952.5 436v5M976 450.5h5M978.5 448v5M984 451.5h5M986.5 449v5M714 537.5h5M716.5 535v5M712 549.5h5M714.5 547v5M721 529.5h5M723.5 527v5M717 538.5h5M719.5 536v5M703 528.5h5M705.5 526v5M725 530.5h5M727.5 528v5M700 531.5h5M702.5 529v5M713 546.5h5M715.5 544v5M713 533.5h5M715.5 531v5M703 536.5h5M705.5 534v5M719 531.5h5M721.5 529v5M704 532.5h5M706.5 530v5M715 537.5h5M717.5 535v5M721 539.5h5M723.5 537v5M703 534.5h5M705.5 532v5M706 543.5h5M708.5 541v5M716 547.5h5M718.5 545v5"/>
<path fill="#37396c" d="M680 444h5v5h-5zM650 513h5v5h-5zM703 556h5v5h-5zM560 457h5v5h-5zM555 468h5v5h-5zM584 475h5v5h-5zM569 513h5v5h-5zM582 528h5v5h-5zM605 536h5v5h-5zM609 509h5v5h-5zM580 552h5v5h-5zM639 553h5v5h-5zM629 584h5v5h-5zM656 588h5v5h-5zM677 572h5v5h-5zM649 617h5v5h-5zM674 607h5v5h-5zM613 664h5v5h-5zM647 671h5v5h-5zM674 662h5v5h-5zM664 670h5v5h-5zM687 569h5v5h-5zM684 560h5v5h-5zM766 606h5v5h-5zM700 569h5v5h-5zM679 608h5v5h-5zM668 256h5v5h-5zM646 270h5v5h-5zM625 324h5v5h-5zM614 396h5v5h-5zM621 422h5v5h-5zM638 436h5v5h-5zM634 370h5v5h-5zM700 318h5v5h-5zM677 324h5v5h-5zM700 342h5v5h-5zM713 345h5v5h-5zM729 353h5v5h-5zM672 352h5v5h-5zM657 364h5v5h-5zM676 378h5v5h-5zM708 379h5v5h-5zM671 391h5v5h-5zM690 417h5v5h-5zM708 418h5v5h-5zM672 424h5v5h-5zM697 437h5v5h-5zM653 414h5v5h-5zM641 684h5v5h-5zM577 706h5v5h-5zM742 549h5v5h-5zM748 548h5v5h-5zM747 554h5v5h-5zM752 551h5v5h-5zM746 545h5v5h-5zM752 550h5v5h-5zM737 550h5v5h-5zM735 552h5v5h-5zM737 559h5v5h-5zM745 543h5v5h-5zM743 552h5v5h-5zM743 549h5v5h-5zM736 554h5v5h-5zM750 548h5v5h-5zM737 556h5v5h-5zM743 546h5v5h-5zM748 540h5v5h-5zM745 546h5v5h-5zM737 553h5v5h-5z"/>
<path fill="#344978" d="M740 506h5v5h-5zM739 514h5v5h-5zM726 517h5v5h-5zM657 609h5v5h-5zM641 624h5v5h-5zM612 627h5v5h-5zM583 632h5v5h-5zM600 646h5v5h-5zM748 542h5v5h-5zM746 548h5v5h-5zM755 544h5v5h-5zM748 556h5v5h-5zM739 548h5v5h-5zM752 544h5v5h-5zM745 545h5v5h-5zM734 552h5v5h-5zM734 552h5v5h-5zM750 543h5v5h-5zM743 558h5v5h-5zM738 553h5v5h-5zM747 541h5v5h-5zM738 549h5v5h-5zM740 543h5v5h-5zM748 554h5v5h-5zM739 550h5v5h-5zM741 558h5v5h-5zM748 555h5v5h-5zM739 552h5v5h-5zM751 544h5v5h-5zM736 547h5v5h-5zM745 557h5v5h-5zM750 550h5v5h-5zM737 558h5v5h-5zM747 551h5v5h-5zM742 555h5v5h-5zM746 555h5v5h-5zM754 549h5v5h-5zM743 543h5v5h-5zM740 551h5v5h-5zM742 552h5v5h-5zM747 538h5v5h-5zM742 553h5v5h-5zM750 547h5v5h-5zM742 559h5v5h-5zM746 539h5v5h-5zM741 546h5v5h-5zM747 551h5v5h-5zM747 538h5v5h-5zM744 550h5v5h-5zM954 569h5v5h-5zM953 568h5v5h-5zM953 565h5v5h-5zM952 568h5v5h-5zM953 569h5v5h-5zM953 566h5v5h-5z"/>
<path fill="#308073" d="M737 539h5v5h-5zM714 548h5v5h-5z"/>
<path fill="#2f627d" d="M702 592h5v5h-5zM744 566h5v5h-5zM745 544h5v5h-5zM738 547h5v5h-5zM743 552h5v5h-5zM741 556h5v5h-5zM752 553h5v5h-5zM745 549h5v5h-5zM741 560h5v5h-5zM743 549h5v5h-5zM743 546h5v5h-5zM749 551h5v5h-5zM739 552h5v5h-5zM747 543h5v5h-5zM749 544h5v5h-5zM738 552h5v5h-5zM737 553h5v5h-5zM748 541h5v5h-5zM752 546h5v5h-5zM955 566h5v5h-5zM956 567h5v5h-5z"/>
</g>
<path fill="#ddbfef" d="M693.8 467.5l2.5 2.5l-2.5 2.5l-2.5 -2.5z"/>
<path fill="#ddbeee" d="M694.8 468.1l2.5 2.5l-2.5 2.5l-2.5 -2.5z"/>
<path fill="#debced" d="M695.8 468.8l2.5 2.5l-2.5 2.5l-2.5 -2.5z"/>
<path fill="#dfbaeb" d="M696.9 469.4l2.5 2.5l-2.5 2.5l-2.5 -2.5z"/>
<path fill="#dfb9ea" d="M697.9 470.0l2.5 2.5l-2.5 2.5l-2.5 -2.5z"/>
<path fill="#e0b7e8" d="M699.0 470.6l2.5 2.5l-2.5 2.5l-2.5 -2.5z"/>
<path fill="#e1b6e6" d="M700.0 471.2l2.5 2.5l-2.5 2.5l-2.5 -2.5z"/>
<path fill="#3e9264" d="M707.5 485.0l2.5 2.5l-2.5 2.5l-2.5 -2.5z"/>
<path fill="#48975d" d="M707.9 486.2l2.5 2.5l-2.5 2.5l-2.5 -2.5z"/>
<path fill="#549b58" d="M708.3 487.3l2.5 2.5l-2.5 2.5l-2.5 -2.5z"/>
<path fill="#619d54" d="M708.7 488.5l2.5 2.5l-2.5 2.5l-2.5 -2.5z"/>
<path fill="#709e52" d="M709.1 489.7l2.5 2.5l-2.5 2.5l-2.5 -2.5z"/>
<path fill="#7f9f52" d="M709.5 490.9l2.5 2.5l-2.5 2.5l-2.5 -2.5z"/>
<path fill="#949e56" d="M709.8 492.0l2.5 2.5l-2.5 2.5l-2.5 -2.5z"/>
<path fill="#ab9c5f" d="M710.2 493.2l2.5 2.5l-2.5 2.5l-2.5 -2.5z"/>
<path fill="#bf9b6e" d="M710.6 494.4l2.5 2.5l-2.5 2.5l-2.5 -2.5z"/>
<path fill="#d09a80" d="M711.0 495.5l2.5 2.5l-2.5 2.5l-2.5 -2.5z"/>
<path fill="#dc9b96" d="M711.4 496.7l2.5 2.5l-2.5 2.5l-2.5 -2.5z"/>
<path fill="#e29da6" d="M711.8 497.9l2.5 2.5l-2.5 2.5l-2.5 -2.5z"/>
<path fill="#e39eab" d="M712.2 499.1l2.5 2.5l-2.5 2.5l-2.5 -2.5z"/>
<path fill="#e49fb0" d="M712.6 500.2l2.5 2.5l-2.5 2.5l-2.5 -2.5z"/>
<path fill="#e5a0b5" d="M713.0 501.4l2.5 2.5l-2.5 2.5l-2.5 -2.5z"/>
<path fill="#e6a1ba" d="M713.4 502.6l2.5 2.5l-2.5 2.5l-2.5 -2.5z"/>
<path fill="#e6a2bf" d="M713.8 503.8l2.5 2.5l-2.5 2.5l-2.5 -2.5z"/>
<path fill="#e1b6e6" d="M680.0 501.2l2.5 2.5l-2.5 2.5l-2.5 -2.5z"/>
<path fill="#e1b4e4" d="M680.7 502.3l2.5 2.5l-2.5 2.5l-2.5 -2.5z"/>
<path fill="#e2b3e3" d="M681.4 503.4l2.5 2.5l-2.5 2.5l-2.5 -2.5z"/>
<path fill="#e3b2e1" d="M682.1 504.5l2.5 2.5l-2.5 2.5l-2.5 -2.5z"/>
<path fill="#e3b1df" d="M682.9 505.5l2.5 2.5l-2.5 2.5l-2.5 -2.5z"/>
<path fill="#e4afdd" d="M683.6 506.6l2.5 2.5l-2.5 2.5l-2.5 -2.5z"/>
<path fill="#e4aedb" d="M684.3 507.7l2.5 2.5l-2.5 2.5l-2.5 -2.5z"/>
<path fill="#e4add9" d="M685.0 508.8l2.5 2.5l-2.5 2.5l-2.5 -2.5z"/>
<path fill="#ddbfef" d="M692.5 487.5l2.5 2.5l-2.5 2.5l-2.5 -2.5z"/>
<path fill="#debded" d="M693.8 488.1l2.5 2.5l-2.5 2.5l-2.5 -2.5z"/>
<path fill="#dfbaeb" d="M695.0 488.8l2.5 2.5l-2.5 2.5l-2.5 -2.5z"/>
<path fill="#e0b8e9" d="M696.2 489.4l2.5 2.5l-2.5 2.5l-2.5 -2.5z"/>
<path fill="#e1b6e6" d="M697.5 490.0l2.5 2.5l-2.5 2.5l-2.5 -2.5z"/>
<path fill="#ddbfef" d="M727.5 525.0l2.5 2.5l-2.5 2.5l-2.5 -2.5z"/>
<path fill="#dfb9ea" d="M728.8 524.8l2.5 2.5l-2.5 2.5l-2.5 -2.5z"/>
<path fill="#e2b4e4" d="M730.0 524.5l2.5 2.5l-2.5 2.5l-2.5 -2.5z"/>
<path fill="#e4afdc" d="M731.2 524.2l2.5 2.5l-2.5 2.5l-2.5 -2.5z"/>
<path fill="#e5aad3" d="M732.5 524.0l2.5 2.5l-2.5 2.5l-2.5 -2.5z"/>
<path fill="#e6a6ca" d="M733.8 523.8l2.5 2.5l-2.5 2.5l-2.5 -2.5z"/>
<path fill="#e6a4c5" d="M735.0 523.5l2.5 2.5l-2.5 2.5l-2.5 -2.5z"/>
<path fill="#e6a3c0" d="M736.2 523.2l2.5 2.5l-2.5 2.5l-2.5 -2.5z"/>
<path fill="#e6a1bb" d="M737.5 523.0l2.5 2.5l-2.5 2.5l-2.5 -2.5z"/>
<path fill="#e5a0b5" d="M738.8 522.8l2.5 2.5l-2.5 2.5l-2.5 -2.5z"/>
<path fill="#e49fb0" d="M740.0 522.5l2.5 2.5l-2.5 2.5l-2.5 -2.5z"/>
<path fill="#ddbfef" d="M672.5 546.2l2.5 2.5l-2.5 2.5l-2.5 -2.5z"/>
<path fill="#ddbeef" d="M673.6 546.9l2.5 2.5l-2.5 2.5l-2.5 -2.5z"/>
<path fill="#ddbdee" d="M674.8 547.5l2.5 2.5l-2.5 2.5l-2.5 -2.5z"/>
<path fill="#debced" d="M675.9 548.1l2.5 2.5l-2.5 2.5l-2.5 -2.5z"/>
<path fill="#debbec" d="M677.0 548.8l2.5 2.5l-2.5 2.5l-2.5 -2.5z"/>
<path fill="#dfbaeb" d="M678.1 549.4l2.5 2.5l-2.5 2.5l-2.5 -2.5z"/>
<path fill="#dfb9ea" d="M679.2 550.0l2.5 2.5l-2.5 2.5l-2.5 -2.5z"/>
<path fill="#e0b8e9" d="M680.4 550.6l2.5 2.5l-2.5 2.5l-2.5 -2.5z"/>
<path fill="#e0b8e8" d="M681.5 551.2l2.5 2.5l-2.5 2.5l-2.5 -2.5z"/>
<path fill="#e0b7e7" d="M682.6 551.9l2.5 2.5l-2.5 2.5l-2.5 -2.5z"/>
<path fill="#e1b6e6" d="M683.8 552.5l2.5 2.5l-2.5 2.5l-2.5 -2.5z"/>
<path fill="#4c985b" d="M686.2 555.0l2.5 2.5l-2.5 2.5l-2.5 -2.5z"/>
<path fill="#5f9d54" d="M687.3 554.5l2.5 2.5l-2.5 2.5l-2.5 -2.5z"/>
<path fill="#759e51" d="M688.4 553.9l2.5 2.5l-2.5 2.5l-2.5 -2.5z"/>
<path fill="#8c9e54" d="M689.5 553.4l2.5 2.5l-2.5 2.5l-2.5 -2.5z"/>
<path fill="#a39d5b" d="M690.6 552.8l2.5 2.5l-2.5 2.5l-2.5 -2.5z"/>
<path fill="#b99b68" d="M691.7 552.3l2.5 2.5l-2.5 2.5l-2.5 -2.5z"/>
<path fill="#cb9a7a" d="M692.8 551.7l2.5 2.5l-2.5 2.5l-2.5 -2.5z"/>
<path fill="#d89a8e" d="M693.9 551.2l2.5 2.5l-2.5 2.5l-2.5 -2.5z"/>
<path fill="#e19da4" d="M695.0 550.6l2.5 2.5l-2.5 2.5l-2.5 -2.5z"/>
<path fill="#df9c9d" d="M696.1 550.1l2.5 2.5l-2.5 2.5l-2.5 -2.5z"/>
<path fill="#dc9b96" d="M697.2 549.5l2.5 2.5l-2.5 2.5l-2.5 -2.5z"/>
<path fill="#d89a8e" d="M698.3 549.0l2.5 2.5l-2.5 2.5l-2.5 -2.5z"/>
<path fill="#d49a87" d="M699.4 548.4l2.5 2.5l-2.5 2.5l-2.5 -2.5z"/>
<path fill="#d09a80" d="M700.5 547.9l2.5 2.5l-2.5 2.5l-2.5 -2.5z"/>
<path fill="#cb9a7a" d="M701.6 547.3l2.5 2.5l-2.5 2.5l-2.5 -2.5z"/>
<path fill="#c59a74" d="M702.7 546.8l2.5 2.5l-2.5 2.5l-2.5 -2.5z"/>
<path fill="#bf9b6e" d="M703.8 546.2l2.5 2.5l-2.5 2.5l-2.5 -2.5z"/>
<path fill="#2e6b7c" d="M590.0 463.8l2.5 2.5l-2.5 2.5l-2.5 -2.5z"/>
<path fill="#2e7878" d="M590.3 464.9l2.5 2.5l-2.5 2.5l-2.5 -2.5z"/>
<path fill="#328471" d="M590.7 466.1l2.5 2.5l-2.5 2.5l-2.5 -2.5z"/>
<path fill="#398e68" d="M591.0 467.3l2.5 2.5l-2.5 2.5l-2.5 -2.5z"/>
<path fill="#48975d" d="M591.3 468.4l2.5 2.5l-2.5 2.5l-2.5 -2.5z"/>
<path fill="#5f9d54" d="M591.7 469.6l2.5 2.5l-2.5 2.5l-2.5 -2.5z"/>
<path fill="#7b9f52" d="M592.1 470.7l2.5 2.5l-2.5 2.5l-2.5 -2.5z"/>
<path fill="#999e57" d="M592.5 471.9l2.5 2.5l-2.5 2.5l-2.5 -2.5z"/>
<path fill="#e6a6ca" d="M589.4 508.8l2.5 2.5l-2.5 2.5l-2.5 -2.5z"/>
<path fill="#e6a9d1" d="M590.4 509.5l2.5 2.5l-2.5 2.5l-2.5 -2.5z"/>
<path fill="#e5acd7" d="M591.5 510.2l2.5 2.5l-2.5 2.5l-2.5 -2.5z"/>
<path fill="#e4b0dd" d="M592.6 510.9l2.5 2.5l-2.5 2.5l-2.5 -2.5z"/>
<path fill="#e2b3e3" d="M593.7 511.6l2.5 2.5l-2.5 2.5l-2.5 -2.5z"/>
<path fill="#e0b7e8" d="M594.7 512.3l2.5 2.5l-2.5 2.5l-2.5 -2.5z"/>
<path fill="#debbec" d="M595.8 513.0l2.5 2.5l-2.5 2.5l-2.5 -2.5z"/>
<path fill="#e0b7e8" d="M596.9 513.6l2.5 2.5l-2.5 2.5l-2.5 -2.5z"/>
<path fill="#e2b3e3" d="M598.1 514.3l2.5 2.5l-2.5 2.5l-2.5 -2.5z"/>
<path fill="#e4b0dd" d="M599.2 514.9l2.5 2.5l-2.5 2.5l-2.5 -2.5z"/>
<path fill="#e5acd7" d="M600.3 515.6l2.5 2.5l-2.5 2.5l-2.5 -2.5z"/>
<path fill="#e6a9d1" d="M601.4 516.2l2.5 2.5l-2.5 2.5l-2.5 -2.5z"/>
<path fill="#e6a6ca" d="M602.5 516.9l2.5 2.5l-2.5 2.5l-2.5 -2.5z"/>
<path fill="#849f52" d="M603.8 522.5l2.5 2.5l-2.5 2.5l-2.5 -2.5z"/>
<path fill="#8f9e54" d="M605.0 523.8l2.5 2.5l-2.5 2.5l-2.5 -2.5z"/>
<path fill="#999e57" d="M606.2 525.0l2.5 2.5l-2.5 2.5l-2.5 -2.5z"/>
<path fill="#e5a0b8" d="M611.9 528.1l2.5 2.5l-2.5 2.5l-2.5 -2.5z"/>
<path fill="#d69a8a" d="M612.9 529.2l2.5 2.5l-2.5 2.5l-2.5 -2.5z"/>
<path fill="#b39c65" d="M614.0 530.2l2.5 2.5l-2.5 2.5l-2.5 -2.5z"/>
<path fill="#849f52" d="M615.0 531.2l2.5 2.5l-2.5 2.5l-2.5 -2.5z"/>
<path fill="#e1b6e6" d="M632.5 533.8l2.5 2.5l-2.5 2.5l-2.5 -2.5z"/>
<path fill="#e2b4e4" d="M633.2 534.8l2.5 2.5l-2.5 2.5l-2.5 -2.5z"/>
<path fill="#e2b2e1" d="M634.0 535.8l2.5 2.5l-2.5 2.5l-2.5 -2.5z"/>
<path fill="#e3b0df" d="M634.8 536.8l2.5 2.5l-2.5 2.5l-2.5 -2.5z"/>
<path fill="#e4afdc" d="M635.5 537.8l2.5 2.5l-2.5 2.5l-2.5 -2.5z"/>
<path fill="#e4add9" d="M636.2 538.8l2.5 2.5l-2.5 2.5l-2.5 -2.5z"/>
<path fill="#e19da4" d="M611.9 548.8l2.5 2.5l-2.5 2.5l-2.5 -2.5z"/>
<path fill="#e19da4" d="M611.9 550.3l2.5 2.5l-2.5 2.5l-2.5 -2.5z"/>
<path fill="#e19da4" d="M611.9 551.9l2.5 2.5l-2.5 2.5l-2.5 -2.5z"/>
<path fill="#e19da4" d="M620.0 551.9l2.5 2.5l-2.5 2.5l-2.5 -2.5z"/>
<path fill="#e39daa" d="M621.6 551.2l2.5 2.5l-2.5 2.5l-2.5 -2.5z"/>
<path fill="#e49fb0" d="M623.1 550.6l2.5 2.5l-2.5 2.5l-2.5 -2.5z"/>
<path fill="#debbec" d="M671.2 545.0l2.5 2.5l-2.5 2.5l-2.5 -2.5z"/>
<path fill="#dfbaeb" d="M672.3 545.8l2.5 2.5l-2.5 2.5l-2.5 -2.5z"/>
<path fill="#dfb9ea" d="M673.3 546.7l2.5 2.5l-2.5 2.5l-2.5 -2.5z"/>
<path fill="#e0b8e9" d="M674.4 547.5l2.5 2.5l-2.5 2.5l-2.5 -2.5z"/>
<path fill="#e0b8e8" d="M675.4 548.3l2.5 2.5l-2.5 2.5l-2.5 -2.5z"/>
<path fill="#e0b7e7" d="M676.5 549.2l2.5 2.5l-2.5 2.5l-2.5 -2.5z"/>
<path fill="#e1b6e6" d="M677.5 550.0l2.5 2.5l-2.5 2.5l-2.5 -2.5z"/>
<path fill="#3e9264" d="M548.8 520.4l1.5 1.5l-1.5 1.5l-1.5 -1.5z"/>
<path fill="#398e68" d="M549.7 521.3l1.5 1.5l-1.5 1.5l-1.5 -1.5z"/>
<path fill="#35896d" d="M550.6 522.2l1.5 1.5l-1.5 1.5l-1.5 -1.5z"/>
<path fill="#debbec" d="M661.9 646.2l2.5 2.5l-2.5 2.5l-2.5 -2.5z"/>
<path fill="#e1b5e5" d="M662.4 647.3l2.5 2.5l-2.5 2.5l-2.5 -2.5z"/>
<path fill="#e4aedc" d="M663.0 648.4l2.5 2.5l-2.5 2.5l-2.5 -2.5z"/>
<path fill="#e6a9d1" d="M663.5 649.5l2.5 2.5l-2.5 2.5l-2.5 -2.5z"/>
<path fill="#e6a4c5" d="M664.0 650.6l2.5 2.5l-2.5 2.5l-2.5 -2.5z"/>
<path fill="#e5a0b8" d="M664.6 651.7l2.5 2.5l-2.5 2.5l-2.5 -2.5z"/>
<path fill="#e19da4" d="M665.2 652.7l2.5 2.5l-2.5 2.5l-2.5 -2.5z"/>
<path fill="#da9a91" d="M666.0 653.6l2.5 2.5l-2.5 2.5l-2.5 -2.5z"/>
<path fill="#ce9a7e" d="M666.7 654.5l2.5 2.5l-2.5 2.5l-2.5 -2.5z"/>
<path fill="#bf9b6e" d="M667.5 655.5l2.5 2.5l-2.5 2.5l-2.5 -2.5z"/>
<path fill="#ad9c61" d="M668.3 656.4l2.5 2.5l-2.5 2.5l-2.5 -2.5z"/>
<path fill="#979e57" d="M669.2 657.2l2.5 2.5l-2.5 2.5l-2.5 -2.5z"/>
<path fill="#819f52" d="M670.2 657.9l2.5 2.5l-2.5 2.5l-2.5 -2.5z"/>
<path fill="#6b9e52" d="M671.2 658.6l2.5 2.5l-2.5 2.5l-2.5 -2.5z"/>
<path fill="#579b57" d="M672.1 659.3l2.5 2.5l-2.5 2.5l-2.5 -2.5z"/>
<path fill="#46965e" d="M673.1 660.0l2.5 2.5l-2.5 2.5l-2.5 -2.5z"/>
<path fill="#dbc3f2" d="M711.2 560.6l2.5 2.5l-2.5 2.5l-2.5 -2.5z"/>
<path fill="#debdee" d="M712.5 560.8l2.5 2.5l-2.5 2.5l-2.5 -2.5z"/>
<path fill="#e0b7e7" d="M713.7 560.9l2.5 2.5l-2.5 2.5l-2.5 -2.5z"/>
<path fill="#e3b1e0" d="M715.0 561.1l2.5 2.5l-2.5 2.5l-2.5 -2.5z"/>
<path fill="#e5acd7" d="M716.2 561.2l2.5 2.5l-2.5 2.5l-2.5 -2.5z"/>
<path fill="#e6a7cd" d="M717.5 561.4l2.5 2.5l-2.5 2.5l-2.5 -2.5z"/>
<path fill="#e6a2bf" d="M718.7 561.6l2.5 2.5l-2.5 2.5l-2.5 -2.5z"/>
<path fill="#e49ead" d="M720.0 561.7l2.5 2.5l-2.5 2.5l-2.5 -2.5z"/>
<path fill="#de9b9a" d="M721.2 561.9l2.5 2.5l-2.5 2.5l-2.5 -2.5z"/>
<path fill="#d59a88" d="M722.5 562.0l2.5 2.5l-2.5 2.5l-2.5 -2.5z"/>
<path fill="#c99a78" d="M723.7 562.0l2.5 2.5l-2.5 2.5l-2.5 -2.5z"/>
<path fill="#b99b68" d="M725.0 562.1l2.5 2.5l-2.5 2.5l-2.5 -2.5z"/>
<path fill="#a39d5b" d="M726.2 562.2l2.5 2.5l-2.5 2.5l-2.5 -2.5z"/>
<path fill="#8c9e54" d="M727.5 562.3l2.5 2.5l-2.5 2.5l-2.5 -2.5z"/>
<path fill="#759e51" d="M728.7 562.3l2.5 2.5l-2.5 2.5l-2.5 -2.5z"/>
<path fill="#5f9d54" d="M730.0 562.4l2.5 2.5l-2.5 2.5l-2.5 -2.5z"/>
<path fill="#4c985b" d="M731.2 562.5l2.5 2.5l-2.5 2.5l-2.5 -2.5z"/>
<path fill="#e19da4" d="M683.8 566.2l2.5 2.5l-2.5 2.5l-2.5 -2.5z"/>
<path fill="#e39eac" d="M684.8 565.5l2.5 2.5l-2.5 2.5l-2.5 -2.5z"/>
<path fill="#e59fb3" d="M685.9 564.8l2.5 2.5l-2.5 2.5l-2.5 -2.5z"/>
<path fill="#e6a1ba" d="M687.0 564.1l2.5 2.5l-2.5 2.5l-2.5 -2.5z"/>
<path fill="#e6a3c1" d="M688.0 563.4l2.5 2.5l-2.5 2.5l-2.5 -2.5z"/>
<path fill="#e6a5c7" d="M689.1 562.7l2.5 2.5l-2.5 2.5l-2.5 -2.5z"/>
<path fill="#e6a7cd" d="M690.2 562.0l2.5 2.5l-2.5 2.5l-2.5 -2.5z"/>
<path fill="#e5aad3" d="M691.2 561.2l2.5 2.5l-2.5 2.5l-2.5 -2.5z"/>
<path fill="#dbc3f2" d="M776.2 649.4l2.5 2.5l-2.5 2.5l-2.5 -2.5z"/>
<path fill="#ddbeef" d="M777.4 649.9l2.5 2.5l-2.5 2.5l-2.5 -2.5z"/>
<path fill="#dfb9ea" d="M778.5 650.4l2.5 2.5l-2.5 2.5l-2.5 -2.5z"/>
<path fill="#e1b5e5" d="M779.7 650.9l2.5 2.5l-2.5 2.5l-2.5 -2.5z"/>
<path fill="#e3b0df" d="M780.8 651.4l2.5 2.5l-2.5 2.5l-2.5 -2.5z"/>
<path fill="#e5acd6" d="M782.0 651.9l2.5 2.5l-2.5 2.5l-2.5 -2.5z"/>
<path fill="#e6a6c9" d="M783.1 652.4l2.5 2.5l-2.5 2.5l-2.5 -2.5z"/>
<path fill="#e6a1ba" d="M784.3 652.9l2.5 2.5l-2.5 2.5l-2.5 -2.5z"/>
<path fill="#e39da9" d="M785.4 653.4l2.5 2.5l-2.5 2.5l-2.5 -2.5z"/>
<path fill="#dd9b99" d="M786.6 653.9l2.5 2.5l-2.5 2.5l-2.5 -2.5z"/>
<path fill="#d39a85" d="M787.7 654.5l2.5 2.5l-2.5 2.5l-2.5 -2.5z"/>
<path fill="#c19b6f" d="M788.8 655.0l2.5 2.5l-2.5 2.5l-2.5 -2.5z"/>
<path fill="#aa9c5f" d="M789.9 655.6l2.5 2.5l-2.5 2.5l-2.5 -2.5z"/>
<path fill="#909e55" d="M791.1 656.2l2.5 2.5l-2.5 2.5l-2.5 -2.5z"/>
<path fill="#769f51" d="M792.2 656.7l2.5 2.5l-2.5 2.5l-2.5 -2.5z"/>
<path fill="#5b9c55" d="M793.3 657.3l2.5 2.5l-2.5 2.5l-2.5 -2.5z"/>
<path fill="#449560" d="M794.3 658.0l2.5 2.5l-2.5 2.5l-2.5 -2.5z"/>
<path fill="#35886d" d="M795.4 658.7l2.5 2.5l-2.5 2.5l-2.5 -2.5z"/>
<path fill="#2e7778" d="M796.4 659.3l2.5 2.5l-2.5 2.5l-2.5 -2.5z"/>
<path fill="#2f627d" d="M797.5 660.0l2.5 2.5l-2.5 2.5l-2.5 -2.5z"/>
<path fill="#ddbfef" d="M680.0 324.5l2.5 2.5l-2.5 2.5l-2.5 -2.5z"/>
<path fill="#ddbeee" d="M680.6 323.4l2.5 2.5l-2.5 2.5l-2.5 -2.5z"/>
<path fill="#debded" d="M681.2 322.2l2.5 2.5l-2.5 2.5l-2.5 -2.5z"/>
<path fill="#debcec" d="M681.9 321.1l2.5 2.5l-2.5 2.5l-2.5 -2.5z"/>
<path fill="#dfbaeb" d="M682.5 320.0l2.5 2.5l-2.5 2.5l-2.5 -2.5z"/>
<path fill="#dfb9ea" d="M683.1 318.9l2.5 2.5l-2.5 2.5l-2.5 -2.5z"/>
<path fill="#e0b8e9" d="M683.8 317.8l2.5 2.5l-2.5 2.5l-2.5 -2.5z"/>
<path fill="#e0b7e7" d="M684.4 316.6l2.5 2.5l-2.5 2.5l-2.5 -2.5z"/>
<path fill="#e1b6e6" d="M685.0 315.5l2.5 2.5l-2.5 2.5l-2.5 -2.5z"/>
<path fill="#e4add9" d="M584.0 754.5l2.5 2.5l-2.5 2.5l-2.5 -2.5z"/>
<path fill="#e5abd4" d="M584.0 755.7l2.5 2.5l-2.5 2.5l-2.5 -2.5z"/>
<path fill="#e6a8cf" d="M584.1 756.9l2.5 2.5l-2.5 2.5l-2.5 -2.5z"/>
<path fill="#e6a6ca" d="M584.1 758.2l2.5 2.5l-2.5 2.5l-2.5 -2.5z"/>
<path fill="#e6a4c4" d="M584.2 759.4l2.5 2.5l-2.5 2.5l-2.5 -2.5z"/>
<path fill="#e6a2be" d="M584.2 760.6l2.5 2.5l-2.5 2.5l-2.5 -2.5z"/>
<path fill="#e5a0b8" d="M584.3 761.8l2.5 2.5l-2.5 2.5l-2.5 -2.5z"/>
<path fill="#e49fb1" d="M584.3 763.1l2.5 2.5l-2.5 2.5l-2.5 -2.5z"/>
<path fill="#e39eab" d="M584.4 764.3l2.5 2.5l-2.5 2.5l-2.5 -2.5z"/>
<path fill="#e19da4" d="M584.4 765.5l2.5 2.5l-2.5 2.5l-2.5 -2.5z"/>
<path fill="#d8c9f6" d="M617.4 685.5l2.5 2.5l-2.5 2.5l-2.5 -2.5z"/>
<path fill="#dac5f3" d="M617.4 686.7l2.5 2.5l-2.5 2.5l-2.5 -2.5z"/>
<path fill="#dcc1f1" d="M617.3 687.9l2.5 2.5l-2.5 2.5l-2.5 -2.5z"/>
<path fill="#debced" d="M617.3 689.1l2.5 2.5l-2.5 2.5l-2.5 -2.5z"/>
<path fill="#e0b8e9" d="M617.3 690.4l2.5 2.5l-2.5 2.5l-2.5 -2.5z"/>
<path fill="#e1b4e4" d="M617.3 691.6l2.5 2.5l-2.5 2.5l-2.5 -2.5z"/>
<path fill="#e3b1df" d="M617.2 692.8l2.5 2.5l-2.5 2.5l-2.5 -2.5z"/>
<path fill="#e4add9" d="M617.2 694.0l2.5 2.5l-2.5 2.5l-2.5 -2.5z"/>
<path fill="#e6a9d1" d="M617.2 695.2l2.5 2.5l-2.5 2.5l-2.5 -2.5z"/>
<path fill="#e6a5c7" d="M617.1 696.4l2.5 2.5l-2.5 2.5l-2.5 -2.5z"/>
<path fill="#e6a2bd" d="M617.1 697.6l2.5 2.5l-2.5 2.5l-2.5 -2.5z"/>
<path fill="#e59fb2" d="M617.1 698.9l2.5 2.5l-2.5 2.5l-2.5 -2.5z"/>
<path fill="#e29da7" d="M617.1 700.1l2.5 2.5l-2.5 2.5l-2.5 -2.5z"/>
<path fill="#de9b9c" d="M617.0 701.3l2.5 2.5l-2.5 2.5l-2.5 -2.5z"/>
<path fill="#da9a91" d="M617.0 702.5l2.5 2.5l-2.5 2.5l-2.5 -2.5z"/>
<path fill="#dac5f3" stroke="#dac5f3" stroke-width="0.6" d="M643.8 470.6l2.5 2.5l-2.5 2.5l-2.5 -2.5zM643.1 470.2l2.5 2.5l-2.5 2.5l-2.5 -2.5zM555.0 597.5l2.5 2.5l-2.5 2.5l-2.5 -2.5zM556.5 616.2l2.5 2.5l-2.5 2.5l-2.5 -2.5zM319.0 327.9l2.5 2.5l-2.5 2.5l-2.5 -2.5zM360.0 363.5l2.5 2.5l-2.5 2.5l-2.5 -2.5zM382.4 377.5l2.5 2.5l-2.5 2.5l-2.5 -2.5zM378.0 429.9l2.5 2.5l-2.5 2.5l-2.5 -2.5zM358.4 432.9l2.5 2.5l-2.5 2.5l-2.5 -2.5zM376.4 441.9l2.5 2.5l-2.5 2.5l-2.5 -2.5zM283.0 403.5l2.5 2.5l-2.5 2.5l-2.5 -2.5zM206.0 500.5l2.5 2.5l-2.5 2.5l-2.5 -2.5zM413.4 448.9l2.5 2.5l-2.5 2.5l-2.5 -2.5zM432.4 457.5l2.5 2.5l-2.5 2.5l-2.5 -2.5zM436.0 458.5l2.5 2.5l-2.5 2.5l-2.5 -2.5zM438.4 459.5l2.5 2.5l-2.5 2.5l-2.5 -2.5zM285.4 518.5l2.5 2.5l-2.5 2.5l-2.5 -2.5zM358.0 519.9l2.5 2.5l-2.5 2.5l-2.5 -2.5zM414.4 510.9l2.5 2.5l-2.5 2.5l-2.5 -2.5zM416.4 510.9l2.5 2.5l-2.5 2.5l-2.5 -2.5zM399.0 565.5l2.5 2.5l-2.5 2.5l-2.5 -2.5zM555.0 597.5l2.5 2.5l-2.5 2.5l-2.5 -2.5zM556.4 616.5l2.5 2.5l-2.5 2.5l-2.5 -2.5zM617.0 690.5l2.5 2.5l-2.5 2.5l-2.5 -2.5zM550.0 729.5l2.5 2.5l-2.5 2.5l-2.5 -2.5zM547.0 738.9l2.5 2.5l-2.5 2.5l-2.5 -2.5z"/>
<path fill="#e2b2e1" stroke="#e2b2e1" stroke-width="0.6" d="M358.0 407.9l2.5 2.5l-2.5 2.5l-2.5 -2.5zM428.4 430.5l2.5 2.5l-2.5 2.5l-2.5 -2.5zM416.4 438.5l2.5 2.5l-2.5 2.5l-2.5 -2.5zM419.0 451.9l2.5 2.5l-2.5 2.5l-2.5 -2.5zM436.0 445.9l2.5 2.5l-2.5 2.5l-2.5 -2.5zM456.4 453.9l2.5 2.5l-2.5 2.5l-2.5 -2.5zM384.4 521.9l2.5 2.5l-2.5 2.5l-2.5 -2.5zM428.4 649.9l2.5 2.5l-2.5 2.5l-2.5 -2.5z"/>
<path fill="#d4e1f8" stroke="#d4e1f8" stroke-width="0.6" d="M392.4 385.9l2.5 2.5l-2.5 2.5l-2.5 -2.5z"/>
<path fill="#e6a3c3" stroke="#e6a3c3" stroke-width="0.6" d="M415.0 463.9l2.5 2.5l-2.5 2.5l-2.5 -2.5z"/>
<g shape-rendering="crispEdges">
<path fill="#e7bfe6" fill-rule="evenodd" d="M646 464h1v1h1v1h1v1h-1v1h-1v1h-1v-1h-1v-1h-1v-1h1v-1h1zm0 2h1v1h-1zM688 489h1v1h1v1h1v1h-1v1h-1v1h-1v-1h-1v-1h-1v-1h1v-1h1zm0 2h1v1h-1zM686 526h1v1h1v1h1v1h-1v1h-1v1h-1v-1h-1v-1h-1v-1h1v-1h1zm0 2h1v1h-1zM695 530h1v1h1v1h1v1h-1v1h-1v1h-1v-1h-1v-1h-1v-1h1v-1h1zm0 2h1v1h-1zM709 537h1v1h1v1h1v1h-1v1h-1v1h-1v-1h-1v-1h-1v-1h1v-1h1zm0 2h1v1h-1zM718 534h1v1h1v1h1v1h-1v1h-1v1h-1v-1h-1v-1h-1v-1h1v-1h1zm0 2h1v1h-1zM746 521h1v1h1v1h1v1h-1v1h-1v1h-1v-1h-1v-1h-1v-1h1v-1h1zm0 2h1v1h-1zM746 532h1v1h1v1h1v1h-1v1h-1v1h-1v-1h-1v-1h-1v-1h1v-1h1zm0 2h1v1h-1zM755 532h1v1h1v1h1v1h-1v1h-1v1h-1v-1h-1v-1h-1v-1h1v-1h1zm0 2h1v1h-1zM765 534h1v1h1v1h1v1h-1v1h-1v1h-1v-1h-1v-1h-1v-1h1v-1h1zm0 2h1v1h-1zM532 478h1v1h1v1h1v1h-1v1h-1v1h-1v-1h-1v-1h-1v-1h1v-1h1zm0 2h1v1h-1zM548 486h1v1h1v1h1v1h-1v1h-1v1h-1v-1h-1v-1h-1v-1h1v-1h1zm0 2h1v1h-1zM534 497h1v1h1v1h1v1h-1v1h-1v1h-1v-1h-1v-1h-1v-1h1v-1h1zm0 2h1v1h-1zM536 506h1v1h1v1h1v1h-1v1h-1v1h-1v-1h-1v-1h-1v-1h1v-1h1zm0 2h1v1h-1zM596 493h1v1h1v1h1v1h-1v1h-1v1h-1v-1h-1v-1h-1v-1h1v-1h1zm0 2h1v1h-1zM583 489h1v1h1v1h1v1h-1v1h-1v1h-1v-1h-1v-1h-1v-1h1v-1h1zm0 2h1v1h-1zM561 512h1v1h1v1h1v1h-1v1h-1v1h-1v-1h-1v-1h-1v-1h1v-1h1zm0 2h1v1h-1zM635 670h1v1h1v1h1v1h-1v1h-1v1h-1v-1h-1v-1h-1v-1h1v-1h1zm0 2h1v1h-1zM721 567h1v1h1v1h1v1h-1v1h-1v1h-1v-1h-1v-1h-1v-1h1v-1h1zm0 2h1v1h-1zM787 560h1v1h1v1h1v1h-1v1h-1v1h-1v-1h-1v-1h-1v-1h1v-1h1zm0 2h1v1h-1zM798 566h1v1h1v1h1v1h-1v1h-1v1h-1v-1h-1v-1h-1v-1h1v-1h1zm0 2h1v1h-1zM696 561h1v1h1v1h1v1h-1v1h-1v1h-1v-1h-1v-1h-1v-1h1v-1h1zm0 2h1v1h-1zM213 196h1v1h1v1h1v1h-1v1h-1v1h-1v-1h-1v-1h-1v-1h1v-1h1zm0 2h1v1h-1zM212 203h1v1h1v1h1v1h-1v1h-1v1h-1v-1h-1v-1h-1v-1h1v-1h1zm0 2h1v1h-1zM198 224h1v1h1v1h1v1h-1v1h-1v1h-1v-1h-1v-1h-1v-1h1v-1h1zm0 2h1v1h-1zM311 255h1v1h1v1h1v1h-1v1h-1v1h-1v-1h-1v-1h-1v-1h1v-1h1zm0 2h1v1h-1zM331 251h1v1h1v1h1v1h-1v1h-1v1h-1v-1h-1v-1h-1v-1h1v-1h1zm0 2h1v1h-1zM333 285h1v1h1v1h1v1h-1v1h-1v1h-1v-1h-1v-1h-1v-1h1v-1h1zm0 2h1v1h-1zM337 290h1v1h1v1h1v1h-1v1h-1v1h-1v-1h-1v-1h-1v-1h1v-1h1zm0 2h1v1h-1zM311 307h1v1h1v1h1v1h-1v1h-1v1h-1v-1h-1v-1h-1v-1h1v-1h1zm0 2h1v1h-1zM180 296h1v1h1v1h1v1h-1v1h-1v1h-1v-1h-1v-1h-1v-1h1v-1h1zm0 2h1v1h-1zM289 275h1v1h1v1h1v1h-1v1h-1v1h-1v-1h-1v-1h-1v-1h1v-1h1zm0 2h1v1h-1zM160 315h1v1h1v1h1v1h-1v1h-1v1h-1v-1h-1v-1h-1v-1h1v-1h1zm0 2h1v1h-1zM313 324h1v1h1v1h1v1h-1v1h-1v1h-1v-1h-1v-1h-1v-1h1v-1h1zm0 2h1v1h-1zM325 333h1v1h1v1h1v1h-1v1h-1v1h-1v-1h-1v-1h-1v-1h1v-1h1zm0 2h1v1h-1zM331 337h1v1h1v1h1v1h-1v1h-1v1h-1v-1h-1v-1h-1v-1h1v-1h1zm0 2h1v1h-1zM342 329h1v1h1v1h1v1h-1v1h-1v1h-1v-1h-1v-1h-1v-1h1v-1h1zm0 2h1v1h-1zM345 332h1v1h1v1h1v1h-1v1h-1v1h-1v-1h-1v-1h-1v-1h1v-1h1zm0 2h1v1h-1zM364 349h1v1h1v1h1v1h-1v1h-1v1h-1v-1h-1v-1h-1v-1h1v-1h1zm0 2h1v1h-1zM343 362h1v1h1v1h1v1h-1v1h-1v1h-1v-1h-1v-1h-1v-1h1v-1h1zm0 2h1v1h-1zM351 370h1v1h1v1h1v1h-1v1h-1v1h-1v-1h-1v-1h-1v-1h1v-1h1zm0 2h1v1h-1zM362 377h1v1h1v1h1v1h-1v1h-1v1h-1v-1h-1v-1h-1v-1h1v-1h1zm0 2h1v1h-1zM340 403h1v1h1v1h1v1h-1v1h-1v1h-1v-1h-1v-1h-1v-1h1v-1h1zm0 2h1v1h-1zM360 421h1v1h1v1h1v1h-1v1h-1v1h-1v-1h-1v-1h-1v-1h1v-1h1zm0 2h1v1h-1zM340 427h1v1h1v1h1v1h-1v1h-1v1h-1v-1h-1v-1h-1v-1h1v-1h1zm0 2h1v1h-1zM281 388h1v1h1v1h1v1h-1v1h-1v1h-1v-1h-1v-1h-1v-1h1v-1h1zm0 2h1v1h-1zM288 390h1v1h1v1h1v1h-1v1h-1v1h-1v-1h-1v-1h-1v-1h1v-1h1zm0 2h1v1h-1zM294 391h1v1h1v1h1v1h-1v1h-1v1h-1v-1h-1v-1h-1v-1h1v-1h1zm0 2h1v1h-1zM298 393h1v1h1v1h1v1h-1v1h-1v1h-1v-1h-1v-1h-1v-1h1v-1h1zm0 2h1v1h-1zM290 488h1v1h1v1h1v1h-1v1h-1v1h-1v-1h-1v-1h-1v-1h1v-1h1zm0 2h1v1h-1zM196 398h1v1h1v1h1v1h-1v1h-1v1h-1v-1h-1v-1h-1v-1h1v-1h1zm0 2h1v1h-1zM210 397h1v1h1v1h1v1h-1v1h-1v1h-1v-1h-1v-1h-1v-1h1v-1h1zm0 2h1v1h-1zM228 400h1v1h1v1h1v1h-1v1h-1v1h-1v-1h-1v-1h-1v-1h1v-1h1zm0 2h1v1h-1zM207 411h1v1h1v1h1v1h-1v1h-1v1h-1v-1h-1v-1h-1v-1h1v-1h1zm0 2h1v1h-1zM212 415h1v1h1v1h1v1h-1v1h-1v1h-1v-1h-1v-1h-1v-1h1v-1h1zm0 2h1v1h-1zM206 419h1v1h1v1h1v1h-1v1h-1v1h-1v-1h-1v-1h-1v-1h1v-1h1zm0 2h1v1h-1zM171 425h1v1h1v1h1v1h-1v1h-1v1h-1v-1h-1v-1h-1v-1h1v-1h1zm0 2h1v1h-1zM159 429h1v1h1v1h1v1h-1v1h-1v1h-1v-1h-1v-1h-1v-1h1v-1h1zm0 2h1v1h-1zM221 427h1v1h1v1h1v1h-1v1h-1v1h-1v-1h-1v-1h-1v-1h1v-1h1zm0 2h1v1h-1zM231 426h1v1h1v1h1v1h-1v1h-1v1h-1v-1h-1v-1h-1v-1h1v-1h1zm0 2h1v1h-1zM238 427h1v1h1v1h1v1h-1v1h-1v1h-1v-1h-1v-1h-1v-1h1v-1h1zm0 2h1v1h-1zM162 360h1v1h1v1h1v1h-1v1h-1v1h-1v-1h-1v-1h-1v-1h1v-1h1zm0 2h1v1h-1zM174 365h1v1h1v1h1v1h-1v1h-1v1h-1v-1h-1v-1h-1v-1h1v-1h1zm0 2h1v1h-1zM196 499h1v1h1v1h1v1h-1v1h-1v1h-1v-1h-1v-1h-1v-1h1v-1h1zm0 2h1v1h-1zM213 488h1v1h1v1h1v1h-1v1h-1v1h-1v-1h-1v-1h-1v-1h1v-1h1zm0 2h1v1h-1zM217 381h1v1h1v1h1v1h-1v1h-1v1h-1v-1h-1v-1h-1v-1h1v-1h1zm0 2h1v1h-1zM211 380h1v1h1v1h1v1h-1v1h-1v1h-1v-1h-1v-1h-1v-1h1v-1h1zm0 2h1v1h-1zM495 334h1v1h1v1h1v1h-1v1h-1v1h-1v-1h-1v-1h-1v-1h1v-1h1zm0 2h1v1h-1zM502 335h1v1h1v1h1v1h-1v1h-1v1h-1v-1h-1v-1h-1v-1h1v-1h1zm0 2h1v1h-1zM508 341h1v1h1v1h1v1h-1v1h-1v1h-1v-1h-1v-1h-1v-1h1v-1h1zm0 2h1v1h-1zM437 434h1v1h1v1h1v1h-1v1h-1v1h-1v-1h-1v-1h-1v-1h1v-1h1zm0 2h1v1h-1zM440 434h1v1h1v1h1v1h-1v1h-1v1h-1v-1h-1v-1h-1v-1h1v-1h1zm0 2h1v1h-1zM453 434h1v1h1v1h1v1h-1v1h-1v1h-1v-1h-1v-1h-1v-1h1v-1h1zm0 2h1v1h-1zM392 437h1v1h1v1h1v1h-1v1h-1v1h-1v-1h-1v-1h-1v-1h1v-1h1zm0 2h1v1h-1zM469 443h1v1h1v1h1v1h-1v1h-1v1h-1v-1h-1v-1h-1v-1h1v-1h1zm0 2h1v1h-1zM472 445h1v1h1v1h1v1h-1v1h-1v1h-1v-1h-1v-1h-1v-1h1v-1h1zm0 2h1v1h-1zM409 461h1v1h1v1h1v1h-1v1h-1v1h-1v-1h-1v-1h-1v-1h1v-1h1zm0 2h1v1h-1zM497 463h1v1h1v1h1v1h-1v1h-1v1h-1v-1h-1v-1h-1v-1h1v-1h1zm0 2h1v1h-1zM517 472h1v1h1v1h1v1h-1v1h-1v1h-1v-1h-1v-1h-1v-1h1v-1h1zm0 2h1v1h-1zM496 492h1v1h1v1h1v1h-1v1h-1v1h-1v-1h-1v-1h-1v-1h1v-1h1zm0 2h1v1h-1zM491 391h1v1h1v1h1v1h-1v1h-1v1h-1v-1h-1v-1h-1v-1h1v-1h1zm0 2h1v1h-1zM470 360h1v1h1v1h1v1h-1v1h-1v1h-1v-1h-1v-1h-1v-1h1v-1h1zm0 2h1v1h-1zM596 418h1v1h1v1h1v1h-1v1h-1v1h-1v-1h-1v-1h-1v-1h1v-1h1zm0 2h1v1h-1zM309 507h1v1h1v1h1v1h-1v1h-1v1h-1v-1h-1v-1h-1v-1h1v-1h1zm0 2h1v1h-1zM315 508h1v1h1v1h1v1h-1v1h-1v1h-1v-1h-1v-1h-1v-1h1v-1h1zm0 2h1v1h-1zM332 529h1v1h1v1h1v1h-1v1h-1v1h-1v-1h-1v-1h-1v-1h1v-1h1zm0 2h1v1h-1zM337 531h1v1h1v1h1v1h-1v1h-1v1h-1v-1h-1v-1h-1v-1h1v-1h1zm0 2h1v1h-1zM347 648h1v1h1v1h1v1h-1v1h-1v1h-1v-1h-1v-1h-1v-1h1v-1h1zm0 2h1v1h-1zM360 652h1v1h1v1h1v1h-1v1h-1v1h-1v-1h-1v-1h-1v-1h1v-1h1zm0 2h1v1h-1zM362 659h1v1h1v1h1v1h-1v1h-1v1h-1v-1h-1v-1h-1v-1h1v-1h1zm0 2h1v1h-1zM483 509h1v1h1v1h1v1h-1v1h-1v1h-1v-1h-1v-1h-1v-1h1v-1h1zm0 2h1v1h-1zM395 532h1v1h1v1h1v1h-1v1h-1v1h-1v-1h-1v-1h-1v-1h1v-1h1zm0 2h1v1h-1zM484 539h1v1h1v1h1v1h-1v1h-1v1h-1v-1h-1v-1h-1v-1h1v-1h1zm0 2h1v1h-1zM435 545h1v1h1v1h1v1h-1v1h-1v1h-1v-1h-1v-1h-1v-1h1v-1h1zm0 2h1v1h-1zM461 553h1v1h1v1h1v1h-1v1h-1v1h-1v-1h-1v-1h-1v-1h1v-1h1zm0 2h1v1h-1zM386 523h1v1h1v1h1v1h-1v1h-1v1h-1v-1h-1v-1h-1v-1h1v-1h1zm0 2h1v1h-1zM440 655h1v1h1v1h1v1h-1v1h-1v1h-1v-1h-1v-1h-1v-1h1v-1h1zm0 2h1v1h-1zM432 664h1v1h1v1h1v1h-1v1h-1v1h-1v-1h-1v-1h-1v-1h1v-1h1zm0 2h1v1h-1zM413 677h1v1h1v1h1v1h-1v1h-1v1h-1v-1h-1v-1h-1v-1h1v-1h1zm0 2h1v1h-1zM511 665h1v1h1v1h1v1h-1v1h-1v1h-1v-1h-1v-1h-1v-1h1v-1h1zm0 2h1v1h-1zM195 733h1v1h1v1h1v1h-1v1h-1v1h-1v-1h-1v-1h-1v-1h1v-1h1zm0 2h1v1h-1zM278 732h1v1h1v1h1v1h-1v1h-1v1h-1v-1h-1v-1h-1v-1h1v-1h1zm0 2h1v1h-1zM293 732h1v1h1v1h1v1h-1v1h-1v1h-1v-1h-1v-1h-1v-1h1v-1h1zm0 2h1v1h-1zM312 705h1v1h1v1h1v1h-1v1h-1v1h-1v-1h-1v-1h-1v-1h1v-1h1zm0 2h1v1h-1zM327 706h1v1h1v1h1v1h-1v1h-1v1h-1v-1h-1v-1h-1v-1h1v-1h1zm0 2h1v1h-1z"/>
<path fill="#e0cff5" fill-rule="evenodd" d="M678 442h1v1h1v1h1v1h-1v1h-1v1h-1v-1h-1v-1h-1v-1h1v-1h1zm0 2h1v1h-1zM649 462h1v1h1v1h1v1h-1v1h-1v1h-1v-1h-1v-1h-1v-1h1v-1h1zm0 2h1v1h-1zM761 556h1v1h1v1h1v1h-1v1h-1v1h-1v-1h-1v-1h-1v-1h1v-1h1zm0 2h1v1h-1zM536 484h1v1h1v1h1v1h-1v1h-1v1h-1v-1h-1v-1h-1v-1h1v-1h1zm0 2h1v1h-1zM539 525h1v1h1v1h1v1h-1v1h-1v1h-1v-1h-1v-1h-1v-1h1v-1h1zm0 2h1v1h-1zM639 478h1v1h1v1h1v1h-1v1h-1v1h-1v-1h-1v-1h-1v-1h1v-1h1zm0 2h1v1h-1zM620 532h1v1h1v1h1v1h-1v1h-1v1h-1v-1h-1v-1h-1v-1h1v-1h1zm0 2h1v1h-1zM629 537h1v1h1v1h1v1h-1v1h-1v1h-1v-1h-1v-1h-1v-1h1v-1h1zm0 2h1v1h-1zM521 478h1v1h1v1h1v1h-1v1h-1v1h-1v-1h-1v-1h-1v-1h1v-1h1zm0 2h1v1h-1zM554 568h1v1h1v1h1v1h-1v1h-1v1h-1v-1h-1v-1h-1v-1h1v-1h1zm0 2h1v1h-1zM554 578h1v1h1v1h1v1h-1v1h-1v1h-1v-1h-1v-1h-1v-1h1v-1h1zm0 2h1v1h-1zM581 609h1v1h1v1h1v1h-1v1h-1v1h-1v-1h-1v-1h-1v-1h1v-1h1zm0 2h1v1h-1zM578 619h1v1h1v1h1v1h-1v1h-1v1h-1v-1h-1v-1h-1v-1h1v-1h1zm0 2h1v1h-1zM554 629h1v1h1v1h1v1h-1v1h-1v1h-1v-1h-1v-1h-1v-1h1v-1h1zm0 2h1v1h-1zM551 637h1v1h1v1h1v1h-1v1h-1v1h-1v-1h-1v-1h-1v-1h1v-1h1zm0 2h1v1h-1zM532 636h1v1h1v1h1v1h-1v1h-1v1h-1v-1h-1v-1h-1v-1h1v-1h1zm0 2h1v1h-1zM548 646h1v1h1v1h1v1h-1v1h-1v1h-1v-1h-1v-1h-1v-1h1v-1h1zm0 2h1v1h-1zM588 567h1v1h1v1h1v1h-1v1h-1v1h-1v-1h-1v-1h-1v-1h1v-1h1zm0 2h1v1h-1zM631 590h1v1h1v1h1v1h-1v1h-1v1h-1v-1h-1v-1h-1v-1h1v-1h1zm0 2h1v1h-1zM632 586h1v1h1v1h1v1h-1v1h-1v1h-1v-1h-1v-1h-1v-1h1v-1h1zm0 2h1v1h-1zM631 596h1v1h1v1h1v1h-1v1h-1v1h-1v-1h-1v-1h-1v-1h1v-1h1zm0 2h1v1h-1zM599 634h1v1h1v1h1v1h-1v1h-1v1h-1v-1h-1v-1h-1v-1h1v-1h1zm0 2h1v1h-1zM596 644h1v1h1v1h1v1h-1v1h-1v1h-1v-1h-1v-1h-1v-1h1v-1h1zm0 2h1v1h-1zM618 640h1v1h1v1h1v1h-1v1h-1v1h-1v-1h-1v-1h-1v-1h1v-1h1zm0 2h1v1h-1zM628 634h1v1h1v1h1v1h-1v1h-1v1h-1v-1h-1v-1h-1v-1h1v-1h1zm0 2h1v1h-1zM571 646h1v1h1v1h1v1h-1v1h-1v1h-1v-1h-1v-1h-1v-1h1v-1h1zm0 2h1v1h-1zM569 655h1v1h1v1h1v1h-1v1h-1v1h-1v-1h-1v-1h-1v-1h1v-1h1zm0 2h1v1h-1zM761 559h1v1h1v1h1v1h-1v1h-1v1h-1v-1h-1v-1h-1v-1h1v-1h1zm0 2h1v1h-1zM167 210h1v1h1v1h1v1h-1v1h-1v1h-1v-1h-1v-1h-1v-1h1v-1h1zm0 2h1v1h-1zM191 196h1v1h1v1h1v1h-1v1h-1v1h-1v-1h-1v-1h-1v-1h1v-1h1zm0 2h1v1h-1zM194 198h1v1h1v1h1v1h-1v1h-1v1h-1v-1h-1v-1h-1v-1h1v-1h1zm0 2h1v1h-1zM194 233h1v1h1v1h1v1h-1v1h-1v1h-1v-1h-1v-1h-1v-1h1v-1h1zm0 2h1v1h-1zM189 251h1v1h1v1h1v1h-1v1h-1v1h-1v-1h-1v-1h-1v-1h1v-1h1zm0 2h1v1h-1zM319 286h1v1h1v1h1v1h-1v1h-1v1h-1v-1h-1v-1h-1v-1h1v-1h1zm0 2h1v1h-1zM362 277h1v1h1v1h1v1h-1v1h-1v1h-1v-1h-1v-1h-1v-1h1v-1h1zm0 2h1v1h-1zM377 284h1v1h1v1h1v1h-1v1h-1v1h-1v-1h-1v-1h-1v-1h1v-1h1zm0 2h1v1h-1zM470 203h1v1h1v1h1v1h-1v1h-1v1h-1v-1h-1v-1h-1v-1h1v-1h1zm0 2h1v1h-1zM349 336h1v1h1v1h1v1h-1v1h-1v1h-1v-1h-1v-1h-1v-1h1v-1h1zm0 2h1v1h-1zM377 357h1v1h1v1h1v1h-1v1h-1v1h-1v-1h-1v-1h-1v-1h1v-1h1zm0 2h1v1h-1zM362 397h1v1h1v1h1v1h-1v1h-1v1h-1v-1h-1v-1h-1v-1h1v-1h1zm0 2h1v1h-1zM344 405h1v1h1v1h1v1h-1v1h-1v1h-1v-1h-1v-1h-1v-1h1v-1h1zm0 2h1v1h-1zM324 411h1v1h1v1h1v1h-1v1h-1v1h-1v-1h-1v-1h-1v-1h1v-1h1zm0 2h1v1h-1zM338 415h1v1h1v1h1v1h-1v1h-1v1h-1v-1h-1v-1h-1v-1h1v-1h1zm0 2h1v1h-1zM364 422h1v1h1v1h1v1h-1v1h-1v1h-1v-1h-1v-1h-1v-1h1v-1h1zm0 2h1v1h-1zM378 417h1v1h1v1h1v1h-1v1h-1v1h-1v-1h-1v-1h-1v-1h1v-1h1zm0 2h1v1h-1zM324 423h1v1h1v1h1v1h-1v1h-1v1h-1v-1h-1v-1h-1v-1h1v-1h1zm0 2h1v1h-1zM241 382h1v1h1v1h1v1h-1v1h-1v1h-1v-1h-1v-1h-1v-1h1v-1h1zm0 2h1v1h-1zM248 383h1v1h1v1h1v1h-1v1h-1v1h-1v-1h-1v-1h-1v-1h1v-1h1zm0 2h1v1h-1zM254 384h1v1h1v1h1v1h-1v1h-1v1h-1v-1h-1v-1h-1v-1h1v-1h1zm0 2h1v1h-1zM267 386h1v1h1v1h1v1h-1v1h-1v1h-1v-1h-1v-1h-1v-1h1v-1h1zm0 2h1v1h-1zM274 387h1v1h1v1h1v1h-1v1h-1v1h-1v-1h-1v-1h-1v-1h1v-1h1zm0 2h1v1h-1zM241 396h1v1h1v1h1v1h-1v1h-1v1h-1v-1h-1v-1h-1v-1h1v-1h1zm0 2h1v1h-1zM248 394h1v1h1v1h1v1h-1v1h-1v1h-1v-1h-1v-1h-1v-1h1v-1h1zm0 2h1v1h-1zM255 392h1v1h1v1h1v1h-1v1h-1v1h-1v-1h-1v-1h-1v-1h1v-1h1zm0 2h1v1h-1zM261 390h1v1h1v1h1v1h-1v1h-1v1h-1v-1h-1v-1h-1v-1h1v-1h1zm0 2h1v1h-1zM263 403h1v1h1v1h1v1h-1v1h-1v1h-1v-1h-1v-1h-1v-1h1v-1h1zm0 2h1v1h-1zM270 403h1v1h1v1h1v1h-1v1h-1v1h-1v-1h-1v-1h-1v-1h1v-1h1zm0 2h1v1h-1zM276 403h1v1h1v1h1v1h-1v1h-1v1h-1v-1h-1v-1h-1v-1h1v-1h1zm0 2h1v1h-1zM300 406h1v1h1v1h1v1h-1v1h-1v1h-1v-1h-1v-1h-1v-1h1v-1h1zm0 2h1v1h-1zM287 415h1v1h1v1h1v1h-1v1h-1v1h-1v-1h-1v-1h-1v-1h1v-1h1zm0 2h1v1h-1zM298 416h1v1h1v1h1v1h-1v1h-1v1h-1v-1h-1v-1h-1v-1h1v-1h1zm0 2h1v1h-1zM256 455h1v1h1v1h1v1h-1v1h-1v1h-1v-1h-1v-1h-1v-1h1v-1h1zm0 2h1v1h-1zM271 457h1v1h1v1h1v1h-1v1h-1v1h-1v-1h-1v-1h-1v-1h1v-1h1zm0 2h1v1h-1zM241 483h1v1h1v1h1v1h-1v1h-1v1h-1v-1h-1v-1h-1v-1h1v-1h1zm0 2h1v1h-1zM250 486h1v1h1v1h1v1h-1v1h-1v1h-1v-1h-1v-1h-1v-1h1v-1h1zm0 2h1v1h-1zM268 492h1v1h1v1h1v1h-1v1h-1v1h-1v-1h-1v-1h-1v-1h1v-1h1zm0 2h1v1h-1zM192 370h1v1h1v1h1v1h-1v1h-1v1h-1v-1h-1v-1h-1v-1h1v-1h1zm0 2h1v1h-1zM199 371h1v1h1v1h1v1h-1v1h-1v1h-1v-1h-1v-1h-1v-1h1v-1h1zm0 2h1v1h-1zM205 372h1v1h1v1h1v1h-1v1h-1v1h-1v-1h-1v-1h-1v-1h1v-1h1zm0 2h1v1h-1zM198 380h1v1h1v1h1v1h-1v1h-1v1h-1v-1h-1v-1h-1v-1h1v-1h1zm0 2h1v1h-1zM205 380h1v1h1v1h1v1h-1v1h-1v1h-1v-1h-1v-1h-1v-1h1v-1h1zm0 2h1v1h-1zM176 419h1v1h1v1h1v1h-1v1h-1v1h-1v-1h-1v-1h-1v-1h1v-1h1zm0 2h1v1h-1zM219 419h1v1h1v1h1v1h-1v1h-1v1h-1v-1h-1v-1h-1v-1h1v-1h1zm0 2h1v1h-1zM226 419h1v1h1v1h1v1h-1v1h-1v1h-1v-1h-1v-1h-1v-1h1v-1h1zm0 2h1v1h-1zM171 376h1v1h1v1h1v1h-1v1h-1v1h-1v-1h-1v-1h-1v-1h1v-1h1zm0 2h1v1h-1zM430 316h1v1h1v1h1v1h-1v1h-1v1h-1v-1h-1v-1h-1v-1h1v-1h1zm0 2h1v1h-1zM417 381h1v1h1v1h1v1h-1v1h-1v1h-1v-1h-1v-1h-1v-1h1v-1h1zm0 2h1v1h-1zM471 419h1v1h1v1h1v1h-1v1h-1v1h-1v-1h-1v-1h-1v-1h1v-1h1zm0 2h1v1h-1zM396 427h1v1h1v1h1v1h-1v1h-1v1h-1v-1h-1v-1h-1v-1h1v-1h1zm0 2h1v1h-1zM419 427h1v1h1v1h1v1h-1v1h-1v1h-1v-1h-1v-1h-1v-1h1v-1h1zm0 2h1v1h-1zM459 437h1v1h1v1h1v1h-1v1h-1v1h-1v-1h-1v-1h-1v-1h1v-1h1zm0 2h1v1h-1zM396 440h1v1h1v1h1v1h-1v1h-1v1h-1v-1h-1v-1h-1v-1h1v-1h1zm0 2h1v1h-1zM394 453h1v1h1v1h1v1h-1v1h-1v1h-1v-1h-1v-1h-1v-1h1v-1h1zm0 2h1v1h-1zM453 464h1v1h1v1h1v1h-1v1h-1v1h-1v-1h-1v-1h-1v-1h1v-1h1zm0 2h1v1h-1zM456 466h1v1h1v1h1v1h-1v1h-1v1h-1v-1h-1v-1h-1v-1h1v-1h1zm0 2h1v1h-1zM476 461h1v1h1v1h1v1h-1v1h-1v1h-1v-1h-1v-1h-1v-1h1v-1h1zm0 2h1v1h-1zM477 473h1v1h1v1h1v1h-1v1h-1v1h-1v-1h-1v-1h-1v-1h1v-1h1zm0 2h1v1h-1zM497 481h1v1h1v1h1v1h-1v1h-1v1h-1v-1h-1v-1h-1v-1h1v-1h1zm0 2h1v1h-1zM515 477h1v1h1v1h1v1h-1v1h-1v1h-1v-1h-1v-1h-1v-1h1v-1h1zm0 2h1v1h-1zM515 501h1v1h1v1h1v1h-1v1h-1v1h-1v-1h-1v-1h-1v-1h1v-1h1zm0 2h1v1h-1zM544 414h1v1h1v1h1v1h-1v1h-1v1h-1v-1h-1v-1h-1v-1h1v-1h1zm0 2h1v1h-1zM486 398h1v1h1v1h1v1h-1v1h-1v1h-1v-1h-1v-1h-1v-1h1v-1h1zm0 2h1v1h-1zM489 402h1v1h1v1h1v1h-1v1h-1v1h-1v-1h-1v-1h-1v-1h1v-1h1zm0 2h1v1h-1zM507 400h1v1h1v1h1v1h-1v1h-1v1h-1v-1h-1v-1h-1v-1h1v-1h1zm0 2h1v1h-1zM509 405h1v1h1v1h1v1h-1v1h-1v1h-1v-1h-1v-1h-1v-1h1v-1h1zm0 2h1v1h-1zM734 385h1v1h1v1h1v1h-1v1h-1v1h-1v-1h-1v-1h-1v-1h1v-1h1zm0 2h1v1h-1zM311 525h1v1h1v1h1v1h-1v1h-1v1h-1v-1h-1v-1h-1v-1h1v-1h1zm0 2h1v1h-1zM345 516h1v1h1v1h1v1h-1v1h-1v1h-1v-1h-1v-1h-1v-1h1v-1h1zm0 2h1v1h-1zM330 537h1v1h1v1h1v1h-1v1h-1v1h-1v-1h-1v-1h-1v-1h1v-1h1zm0 2h1v1h-1zM350 535h1v1h1v1h1v1h-1v1h-1v1h-1v-1h-1v-1h-1v-1h1v-1h1zm0 2h1v1h-1zM362 539h1v1h1v1h1v1h-1v1h-1v1h-1v-1h-1v-1h-1v-1h1v-1h1zm0 2h1v1h-1zM372 525h1v1h1v1h1v1h-1v1h-1v1h-1v-1h-1v-1h-1v-1h1v-1h1zm0 2h1v1h-1zM304 545h1v1h1v1h1v1h-1v1h-1v1h-1v-1h-1v-1h-1v-1h1v-1h1zm0 2h1v1h-1zM384 558h1v1h1v1h1v1h-1v1h-1v1h-1v-1h-1v-1h-1v-1h1v-1h1zm0 2h1v1h-1zM252 561h1v1h1v1h1v1h-1v1h-1v1h-1v-1h-1v-1h-1v-1h1v-1h1zm0 2h1v1h-1zM265 583h1v1h1v1h1v1h-1v1h-1v1h-1v-1h-1v-1h-1v-1h1v-1h1zm0 2h1v1h-1zM286 642h1v1h1v1h1v1h-1v1h-1v1h-1v-1h-1v-1h-1v-1h1v-1h1zm0 2h1v1h-1zM301 638h1v1h1v1h1v1h-1v1h-1v1h-1v-1h-1v-1h-1v-1h1v-1h1zm0 2h1v1h-1zM275 654h1v1h1v1h1v1h-1v1h-1v1h-1v-1h-1v-1h-1v-1h1v-1h1zm0 2h1v1h-1zM291 650h1v1h1v1h1v1h-1v1h-1v1h-1v-1h-1v-1h-1v-1h1v-1h1zm0 2h1v1h-1zM279 672h1v1h1v1h1v1h-1v1h-1v1h-1v-1h-1v-1h-1v-1h1v-1h1zm0 2h1v1h-1zM263 677h1v1h1v1h1v1h-1v1h-1v1h-1v-1h-1v-1h-1v-1h1v-1h1zm0 2h1v1h-1zM357 647h1v1h1v1h1v1h-1v1h-1v1h-1v-1h-1v-1h-1v-1h1v-1h1zm0 2h1v1h-1zM373 644h1v1h1v1h1v1h-1v1h-1v1h-1v-1h-1v-1h-1v-1h1v-1h1zm0 2h1v1h-1zM425 513h1v1h1v1h1v1h-1v1h-1v1h-1v-1h-1v-1h-1v-1h1v-1h1zm0 2h1v1h-1zM434 514h1v1h1v1h1v1h-1v1h-1v1h-1v-1h-1v-1h-1v-1h1v-1h1zm0 2h1v1h-1zM439 516h1v1h1v1h1v1h-1v1h-1v1h-1v-1h-1v-1h-1v-1h1v-1h1zm0 2h1v1h-1zM435 520h1v1h1v1h1v1h-1v1h-1v1h-1v-1h-1v-1h-1v-1h1v-1h1zm0 2h1v1h-1zM470 513h1v1h1v1h1v1h-1v1h-1v1h-1v-1h-1v-1h-1v-1h1v-1h1zm0 2h1v1h-1zM482 516h1v1h1v1h1v1h-1v1h-1v1h-1v-1h-1v-1h-1v-1h1v-1h1zm0 2h1v1h-1zM459 528h1v1h1v1h1v1h-1v1h-1v1h-1v-1h-1v-1h-1v-1h1v-1h1zm0 2h1v1h-1zM502 531h1v1h1v1h1v1h-1v1h-1v1h-1v-1h-1v-1h-1v-1h1v-1h1zm0 2h1v1h-1zM481 557h1v1h1v1h1v1h-1v1h-1v1h-1v-1h-1v-1h-1v-1h1v-1h1zm0 2h1v1h-1zM390 560h1v1h1v1h1v1h-1v1h-1v1h-1v-1h-1v-1h-1v-1h1v-1h1zm0 2h1v1h-1zM423 579h1v1h1v1h1v1h-1v1h-1v1h-1v-1h-1v-1h-1v-1h1v-1h1zm0 2h1v1h-1zM414 655h1v1h1v1h1v1h-1v1h-1v1h-1v-1h-1v-1h-1v-1h1v-1h1zm0 2h1v1h-1zM578 691h1v1h1v1h1v1h-1v1h-1v1h-1v-1h-1v-1h-1v-1h1v-1h1zm0 2h1v1h-1zM884 590h1v1h1v1h1v1h-1v1h-1v1h-1v-1h-1v-1h-1v-1h1v-1h1zm0 2h1v1h-1zM844 638h1v1h1v1h1v1h-1v1h-1v1h-1v-1h-1v-1h-1v-1h1v-1h1zm0 2h1v1h-1zM858 635h1v1h1v1h1v1h-1v1h-1v1h-1v-1h-1v-1h-1v-1h1v-1h1zm0 2h1v1h-1zM412 704h1v1h1v1h1v1h-1v1h-1v1h-1v-1h-1v-1h-1v-1h1v-1h1zm0 2h1v1h-1zM427 705h1v1h1v1h1v1h-1v1h-1v1h-1v-1h-1v-1h-1v-1h1v-1h1zm0 2h1v1h-1zM431 713h1v1h1v1h1v1h-1v1h-1v1h-1v-1h-1v-1h-1v-1h1v-1h1zm0 2h1v1h-1zM446 712h1v1h1v1h1v1h-1v1h-1v1h-1v-1h-1v-1h-1v-1h1v-1h1zm0 2h1v1h-1zM490 717h1v1h1v1h1v1h-1v1h-1v1h-1v-1h-1v-1h-1v-1h1v-1h1zm0 2h1v1h-1zM540 734h1v1h1v1h1v1h-1v1h-1v1h-1v-1h-1v-1h-1v-1h1v-1h1zm0 2h1v1h-1zM557 732h1v1h1v1h1v1h-1v1h-1v1h-1v-1h-1v-1h-1v-1h1v-1h1zm0 2h1v1h-1zM547 736h1v1h1v1h1v1h-1v1h-1v1h-1v-1h-1v-1h-1v-1h1v-1h1zm0 2h1v1h-1zM553 741h1v1h1v1h1v1h-1v1h-1v1h-1v-1h-1v-1h-1v-1h1v-1h1zm0 2h1v1h-1zM543 744h1v1h1v1h1v1h-1v1h-1v1h-1v-1h-1v-1h-1v-1h1v-1h1zm0 2h1v1h-1zM543 749h1v1h1v1h1v1h-1v1h-1v1h-1v-1h-1v-1h-1v-1h1v-1h1zm0 2h1v1h-1zM540 754h1v1h1v1h1v1h-1v1h-1v1h-1v-1h-1v-1h-1v-1h1v-1h1zm0 2h1v1h-1zM404 784h1v1h1v1h1v1h-1v1h-1v1h-1v-1h-1v-1h-1v-1h1v-1h1zm0 2h1v1h-1zM390 792h1v1h1v1h1v1h-1v1h-1v1h-1v-1h-1v-1h-1v-1h1v-1h1zm0 2h1v1h-1zM573 700h1v1h1v1h1v1h-1v1h-1v1h-1v-1h-1v-1h-1v-1h1v-1h1zm0 2h1v1h-1zM579 698h1v1h1v1h1v1h-1v1h-1v1h-1v-1h-1v-1h-1v-1h1v-1h1zm0 2h1v1h-1zM607 725h1v1h1v1h1v1h-1v1h-1v1h-1v-1h-1v-1h-1v-1h1v-1h1zm0 2h1v1h-1zM604 730h1v1h1v1h1v1h-1v1h-1v1h-1v-1h-1v-1h-1v-1h1v-1h1zm0 2h1v1h-1zM598 742h1v1h1v1h1v1h-1v1h-1v1h-1v-1h-1v-1h-1v-1h1v-1h1zm0 2h1v1h-1zM224 733h1v1h1v1h1v1h-1v1h-1v1h-1v-1h-1v-1h-1v-1h1v-1h1zm0 2h1v1h-1zM231 743h1v1h1v1h1v1h-1v1h-1v1h-1v-1h-1v-1h-1v-1h1v-1h1zm0 2h1v1h-1zM241 743h1v1h1v1h1v1h-1v1h-1v1h-1v-1h-1v-1h-1v-1h1v-1h1zm0 2h1v1h-1zM257 744h1v1h1v1h1v1h-1v1h-1v1h-1v-1h-1v-1h-1v-1h1v-1h1zm0 2h1v1h-1zM323 704h1v1h1v1h1v1h-1v1h-1v1h-1v-1h-1v-1h-1v-1h1v-1h1zm0 2h1v1h-1zM338 705h1v1h1v1h1v1h-1v1h-1v1h-1v-1h-1v-1h-1v-1h1v-1h1zm0 2h1v1h-1zM355 731h1v1h1v1h1v1h-1v1h-1v1h-1v-1h-1v-1h-1v-1h1v-1h1zm0 2h1v1h-1zM371 730h1v1h1v1h1v1h-1v1h-1v1h-1v-1h-1v-1h-1v-1h1v-1h1zm0 2h1v1h-1z"/>
<path fill="#71ac76" fill-rule="evenodd" d="M696 486h1v1h1v1h1v1h-1v1h-1v1h-1v-1h-1v-1h-1v-1h1v-1h1zm0 2h1v1h-1zM704 532h1v1h1v1h1v1h-1v1h-1v1h-1v-1h-1v-1h-1v-1h1v-1h1zm0 2h1v1h-1zM739 520h1v1h1v1h1v1h-1v1h-1v1h-1v-1h-1v-1h-1v-1h1v-1h1zm0 2h1v1h-1zM741 514h1v1h1v1h1v1h-1v1h-1v1h-1v-1h-1v-1h-1v-1h1v-1h1zm0 2h1v1h-1zM650 608h1v1h1v1h1v1h-1v1h-1v1h-1v-1h-1v-1h-1v-1h1v-1h1zm0 2h1v1h-1z"/>
<path fill="#caad88" fill-rule="evenodd" d="M711 520h1v1h1v1h1v1h-1v1h-1v1h-1v-1h-1v-1h-1v-1h1v-1h1zm0 2h1v1h-1zM694 502h1v1h1v1h1v1h-1v1h-1v1h-1v-1h-1v-1h-1v-1h1v-1h1zm0 2h1v1h-1zM730 375h1v1h1v1h1v1h-1v1h-1v1h-1v-1h-1v-1h-1v-1h1v-1h1zm0 2h1v1h-1z"/>
<path fill="#a4af73" fill-rule="evenodd" d="M686 506h1v1h1v1h1v1h-1v1h-1v1h-1v-1h-1v-1h-1v-1h1v-1h1zm0 2h1v1h-1zM679 509h1v1h1v1h1v1h-1v1h-1v1h-1v-1h-1v-1h-1v-1h1v-1h1zm0 2h1v1h-1zM579 502h1v1h1v1h1v1h-1v1h-1v1h-1v-1h-1v-1h-1v-1h1v-1h1zm0 2h1v1h-1zM614 542h1v1h1v1h1v1h-1v1h-1v1h-1v-1h-1v-1h-1v-1h1v-1h1zm0 2h1v1h-1zM631 551h1v1h1v1h1v1h-1v1h-1v1h-1v-1h-1v-1h-1v-1h1v-1h1zm0 2h1v1h-1zM634 547h1v1h1v1h1v1h-1v1h-1v1h-1v-1h-1v-1h-1v-1h1v-1h1zm0 2h1v1h-1zM557 689h1v1h1v1h1v1h-1v1h-1v1h-1v-1h-1v-1h-1v-1h1v-1h1zm0 2h1v1h-1z"/>
<path fill="#e0aca4" fill-rule="evenodd" d="M754 518h1v1h1v1h1v1h-1v1h-1v1h-1v-1h-1v-1h-1v-1h1v-1h1zm0 2h1v1h-1zM766 517h1v1h1v1h1v1h-1v1h-1v1h-1v-1h-1v-1h-1v-1h1v-1h1zm0 2h1v1h-1zM626 542h1v1h1v1h1v1h-1v1h-1v1h-1v-1h-1v-1h-1v-1h1v-1h1zm0 2h1v1h-1zM601 533h1v1h1v1h1v1h-1v1h-1v1h-1v-1h-1v-1h-1v-1h1v-1h1zm0 2h1v1h-1zM660 413h1v1h1v1h1v1h-1v1h-1v1h-1v-1h-1v-1h-1v-1h1v-1h1zm0 2h1v1h-1zM545 686h1v1h1v1h1v1h-1v1h-1v1h-1v-1h-1v-1h-1v-1h1v-1h1zm0 2h1v1h-1z"/>
<path fill="#547e94" fill-rule="evenodd" d="M606 512h1v1h1v1h1v1h-1v1h-1v1h-1v-1h-1v-1h-1v-1h1v-1h1zm0 2h1v1h-1z"/>
<path fill="#bfad7f" fill-rule="evenodd" d="M922 522h1v1h1v1h1v1h-1v1h-1v1h-1v-1h-1v-1h-1v-1h1v-1h1zm0 2h1v1h-1z"/>
<path fill="#eab3cd" fill-rule="evenodd" d="M203 216h1v1h1v1h1v1h-1v1h-1v1h-1v-1h-1v-1h-1v-1h1v-1h1zm0 2h1v1h-1zM301 394h1v1h1v1h1v1h-1v1h-1v1h-1v-1h-1v-1h-1v-1h1v-1h1zm0 2h1v1h-1zM320 410h1v1h1v1h1v1h-1v1h-1v1h-1v-1h-1v-1h-1v-1h1v-1h1zm0 2h1v1h-1zM318 422h1v1h1v1h1v1h-1v1h-1v1h-1v-1h-1v-1h-1v-1h1v-1h1zm0 2h1v1h-1zM369 437h1v1h1v1h1v1h-1v1h-1v1h-1v-1h-1v-1h-1v-1h1v-1h1zm0 2h1v1h-1zM274 446h1v1h1v1h1v1h-1v1h-1v1h-1v-1h-1v-1h-1v-1h1v-1h1zm0 2h1v1h-1zM289 448h1v1h1v1h1v1h-1v1h-1v1h-1v-1h-1v-1h-1v-1h1v-1h1zm0 2h1v1h-1zM325 486h1v1h1v1h1v1h-1v1h-1v1h-1v-1h-1v-1h-1v-1h1v-1h1zm0 2h1v1h-1zM351 488h1v1h1v1h1v1h-1v1h-1v1h-1v-1h-1v-1h-1v-1h1v-1h1zm0 2h1v1h-1zM429 400h1v1h1v1h1v1h-1v1h-1v1h-1v-1h-1v-1h-1v-1h1v-1h1zm0 2h1v1h-1zM432 402h1v1h1v1h1v1h-1v1h-1v1h-1v-1h-1v-1h-1v-1h1v-1h1zm0 2h1v1h-1zM391 451h1v1h1v1h1v1h-1v1h-1v1h-1v-1h-1v-1h-1v-1h1v-1h1zm0 2h1v1h-1zM488 454h1v1h1v1h1v1h-1v1h-1v1h-1v-1h-1v-1h-1v-1h1v-1h1zm0 2h1v1h-1zM507 466h1v1h1v1h1v1h-1v1h-1v1h-1v-1h-1v-1h-1v-1h1v-1h1zm0 2h1v1h-1zM381 527h1v1h1v1h1v1h-1v1h-1v1h-1v-1h-1v-1h-1v-1h1v-1h1zm0 2h1v1h-1zM341 577h1v1h1v1h1v1h-1v1h-1v1h-1v-1h-1v-1h-1v-1h1v-1h1zm0 2h1v1h-1zM360 583h1v1h1v1h1v1h-1v1h-1v1h-1v-1h-1v-1h-1v-1h1v-1h1zm0 2h1v1h-1zM317 637h1v1h1v1h1v1h-1v1h-1v1h-1v-1h-1v-1h-1v-1h1v-1h1zm0 2h1v1h-1zM406 535h1v1h1v1h1v1h-1v1h-1v1h-1v-1h-1v-1h-1v-1h1v-1h1zm0 2h1v1h-1z"/>
<path fill="#dbe6f9" fill-rule="evenodd" d="M312 265h1v1h1v1h1v1h-1v1h-1v1h-1v-1h-1v-1h-1v-1h1v-1h1zm0 2h1v1h-1zM323 275h1v1h1v1h1v1h-1v1h-1v1h-1v-1h-1v-1h-1v-1h1v-1h1zm0 2h1v1h-1zM313 361h1v1h1v1h1v1h-1v1h-1v1h-1v-1h-1v-1h-1v-1h1v-1h1zm0 2h1v1h-1zM373 390h1v1h1v1h1v1h-1v1h-1v1h-1v-1h-1v-1h-1v-1h1v-1h1zm0 2h1v1h-1zM321 399h1v1h1v1h1v1h-1v1h-1v1h-1v-1h-1v-1h-1v-1h1v-1h1zm0 2h1v1h-1zM345 417h1v1h1v1h1v1h-1v1h-1v1h-1v-1h-1v-1h-1v-1h1v-1h1zm0 2h1v1h-1zM355 420h1v1h1v1h1v1h-1v1h-1v1h-1v-1h-1v-1h-1v-1h1v-1h1zm0 2h1v1h-1zM354 434h1v1h1v1h1v1h-1v1h-1v1h-1v-1h-1v-1h-1v-1h1v-1h1zm0 2h1v1h-1zM261 385h1v1h1v1h1v1h-1v1h-1v1h-1v-1h-1v-1h-1v-1h1v-1h1zm0 2h1v1h-1zM363 496h1v1h1v1h1v1h-1v1h-1v1h-1v-1h-1v-1h-1v-1h1v-1h1zm0 2h1v1h-1zM189 385h1v1h1v1h1v1h-1v1h-1v1h-1v-1h-1v-1h-1v-1h1v-1h1zm0 2h1v1h-1zM203 408h1v1h1v1h1v1h-1v1h-1v1h-1v-1h-1v-1h-1v-1h1v-1h1zm0 2h1v1h-1zM388 382h1v1h1v1h1v1h-1v1h-1v1h-1v-1h-1v-1h-1v-1h1v-1h1zm0 2h1v1h-1zM396 387h1v1h1v1h1v1h-1v1h-1v1h-1v-1h-1v-1h-1v-1h1v-1h1zm0 2h1v1h-1zM413 436h1v1h1v1h1v1h-1v1h-1v1h-1v-1h-1v-1h-1v-1h1v-1h1zm0 2h1v1h-1zM419 465h1v1h1v1h1v1h-1v1h-1v1h-1v-1h-1v-1h-1v-1h1v-1h1zm0 2h1v1h-1zM440 479h1v1h1v1h1v1h-1v1h-1v1h-1v-1h-1v-1h-1v-1h1v-1h1zm0 2h1v1h-1zM447 480h1v1h1v1h1v1h-1v1h-1v1h-1v-1h-1v-1h-1v-1h1v-1h1zm0 2h1v1h-1zM461 479h1v1h1v1h1v1h-1v1h-1v1h-1v-1h-1v-1h-1v-1h1v-1h1zm0 2h1v1h-1zM460 482h1v1h1v1h1v1h-1v1h-1v1h-1v-1h-1v-1h-1v-1h1v-1h1zm0 2h1v1h-1zM481 486h1v1h1v1h1v1h-1v1h-1v1h-1v-1h-1v-1h-1v-1h1v-1h1zm0 2h1v1h-1zM269 560h1v1h1v1h1v1h-1v1h-1v1h-1v-1h-1v-1h-1v-1h1v-1h1zm0 2h1v1h-1zM285 569h1v1h1v1h1v1h-1v1h-1v1h-1v-1h-1v-1h-1v-1h1v-1h1zm0 2h1v1h-1zM290 571h1v1h1v1h1v1h-1v1h-1v1h-1v-1h-1v-1h-1v-1h1v-1h1zm0 2h1v1h-1z"/>
<path fill="#e9f7f5" fill-rule="evenodd" d="M182 517h1v1h1v1h1v1h-1v1h-1v1h-1v-1h-1v-1h-1v-1h1v-1h1zm0 2h1v1h-1zM381 507h1v1h1v1h1v1h-1v1h-1v1h-1v-1h-1v-1h-1v-1h1v-1h1zm0 2h1v1h-1zM400 509h1v1h1v1h1v1h-1v1h-1v1h-1v-1h-1v-1h-1v-1h1v-1h1zm0 2h1v1h-1z"/>
</g>
<path fill="none" stroke="#e6a3c3" stroke-width="1" d="M508.0 175.0l5 5m0 -5l-5 5"/>
<path fill="none" stroke="#e39eac" stroke-width="1" d="M961.0 135.0l5 5m0 -5l-5 5M984.0 135.0l5 5m0 -5l-5 5M1006.0 135.0l5 5m0 -5l-5 5"/>
<g shape-rendering="crispEdges">
<path fill="none" stroke="#37396c" stroke-width="1" d="M961 152.5h5M963.5 150v5"/>
<rect x="961" y="165" width="5" height="5" fill="#37396c"/>
<path fill="none" stroke="#305c7d" stroke-width="1" d="M984 152.5h5M986.5 150v5"/>
<rect x="984" y="165" width="5" height="5" fill="#305c7d"/>
<path fill="none" stroke="#34876e" stroke-width="1" d="M1006 152.5h5M1008.5 150v5"/>
<rect x="1006" y="165" width="5" height="5" fill="#34876e"/>
</g>
<g shape-rendering="crispEdges">
<path fill="#37396c" fill-rule="evenodd" d="M963 180h1v1h1v1h1v1h-1v1h-1v1h-1v-1h-1v-1h-1v-1h1v-1h1zm0 2h1v1h-1z"/>
<path fill="#bf9b6e" fill-rule="evenodd" d="M986 180h1v1h1v1h1v1h-1v1h-1v1h-1v-1h-1v-1h-1v-1h1v-1h1zm0 2h1v1h-1z"/>
<path fill="#e2f4f4" fill-rule="evenodd" d="M1008 180h1v1h1v1h1v1h-1v1h-1v1h-1v-1h-1v-1h-1v-1h1v-1h1zm0 2h1v1h-1z"/>
</g>
</svg></body></html>
